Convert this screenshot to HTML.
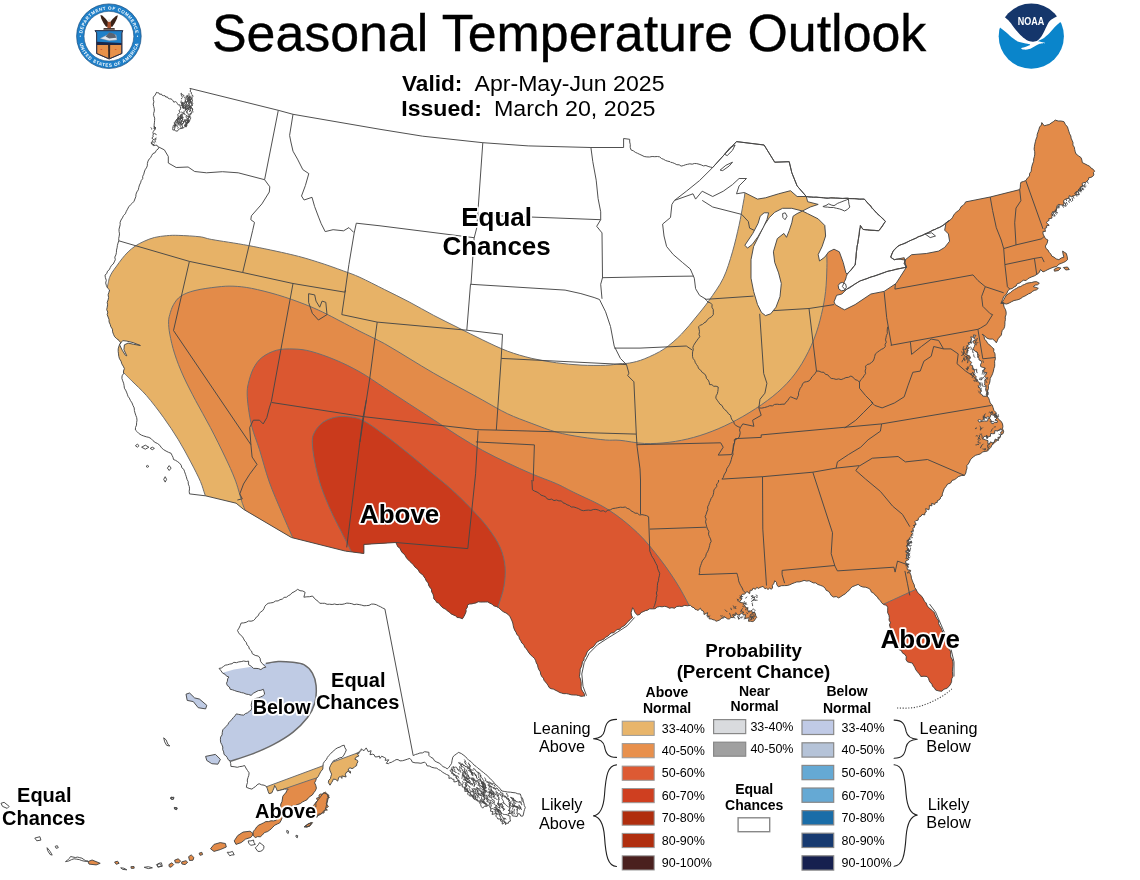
<!DOCTYPE html>
<html><head><meta charset="utf-8"><title>Seasonal Temperature Outlook</title>
<style>
html,body{margin:0;padding:0;background:#fff;}
body{width:1140px;height:880px;overflow:hidden;font-family:"Liberation Sans",sans-serif;}
svg{display:block}
text{font-family:"Liberation Sans",sans-serif;fill:#000}
.b{font-weight:bold}
.halo{paint-order:stroke;stroke:#fff;stroke-width:3.6px;stroke-linejoin:round}
.st{fill:none;stroke:#474747;stroke-width:.95;stroke-linejoin:round}
.ct{fill:none;stroke:#6e6e6e;stroke-width:1}
.lk{fill:#fff;stroke:#474747;stroke-width:.95;stroke-linejoin:round}
</style></head><body>
<svg width="1140" height="880" viewBox="0 0 1140 880">
<rect width="1140" height="880" fill="#fff"/>

<defs>
<clipPath id="us"><path d="M156.3 92.4 L157.6 92.7 L159 93 L159.7 94.4 L161.4 94 L162.2 95.4 L163.6 95.7 L165 95.7 L165.8 97.1 L167.4 96.9 L168.2 98.3 L169.4 98.8 L171 98.9 L172.1 99.6 L173 100.8 L173.8 102.2 L175.6 101.6 L176.7 102.4 L177.5 103.8 L178.4 105 L180 104.9 L180.2 106.6 L180.7 108.2 L180.4 109.6 L178.9 110.5 L180.2 112.4 L178.9 113.4 L177.7 114.4 L178.2 116.2 L177.9 117.6 L177.4 119 L176.1 120 L175.8 121.5 L174.2 122.4 L174.6 124.3 L173.4 125.3 L173 126.8 L172.7 128.3 L172.8 129.9 L174.4 130.1 L175.8 130.9 L177.4 131.2 L178.3 129.7 L179.6 128.9 L181 128.4 L182.6 128.2 L184.1 127.5 L185.2 126.1 L186.6 125.3 L186.6 123.9 L187.4 122.7 L187.5 121.3 L187.9 120 L188.2 118.3 L189.8 117.2 L189.9 115.4 L191.2 113.9 L191.8 112.1 L190.6 111.1 L190.4 109.4 L189.5 108.2 L190.1 106.9 L191.3 105.8 L191.6 104.4 L191.8 102.9 L191.5 101.5 L193 100.4 L191.4 98.9 L192.1 97.6 L192.9 96.4 L192.5 95 L191.3 93.9 L191.4 92.4 L190.1 91.4 L190.7 89.6 L189.9 88.4 L278.3 110.3 L293 114.3 L380 129.3 L422.7 136.2 L482.8 142.7 L528.2 145.9 L590.9 147.5 L623.6 147.5 L623.6 138.5 L629.7 139.3 L629.7 142 L630.3 144.6 L630.2 147.3 L631 149.9 L633.3 150.8 L635.3 152.3 L637.5 153.3 L639.8 154.4 L642 155.4 L644.2 156.5 L646.8 156.9 L649.5 157 L652.1 156.5 L654.8 156.7 L657.4 156.5 L659.7 156.9 L661.5 158.5 L663.6 159.3 L665.6 160.5 L667.8 161.2 L670 161.7 L670.5 162.2 L672.7 162.7 L674.8 163.6 L676.8 164.7 L679.2 164.8 L681.1 166.1 L683.3 165.6 L685.4 164.8 L687.6 164.3 L689.8 163.8 L692.2 164.2 L694.3 163.5 L696.7 163.6 L699 164.2 L701.2 164.9 L703.4 165.9 L705.9 165.5 L708.1 166.4 L710.4 167.1 L712.7 167.5 L724.6 154.3 L736.5 141.6 L764.1 145 L774.7 162.2 L789.2 161.7 L791.8 172.7 L797.1 185.9 L806.3 196.5 L808.7 197.1 L811.2 197.2 L813.6 197.4 L816.1 197 L818.6 197.3 L821.1 197.5 L823.5 197.8 L825.9 198.3 L828.3 198.4 L830.7 197.7 L833.1 197.8 L835.5 197.9 L837.9 198 L840.2 198.3 L842.6 198.5 L845 198.2 L847.4 198 L849.8 198.6 L852.2 198.6 L854.6 198.6 L857 198.9 L859.5 199.4 L861.9 199.2 L864.3 199.1 L865.8 200.8 L867.2 202.6 L868.7 204.3 L870.7 205.6 L871.6 207.9 L873.2 209.5 L874.9 211 L876.4 213 L878.2 214.7 L880.2 216.2 L882 217.9 L883.9 219.5 L885.4 221.5 L884 223.3 L883 225.3 L881.7 227.2 L880.3 229 L878.8 230.7 L876.5 230.7 L874.3 230.4 L872 230.4 L869.7 230.3 L867.5 230 L865.2 229.8 L863 229.4 L861.6 227.5 L860.4 225.5 L860.3 227.7 L859.5 229.8 L859.3 232.1 L859.3 234.3 L858.9 236.5 L858.5 238.7 L858.1 240.9 L858 243.1 L857.2 245.2 L856.8 247.4 L856.8 249.6 L856.4 251.8 L856.2 254 L856.2 256.2 L856 258.4 L855.6 260.6 L855.5 262.8 L855.1 265 L853.4 266.7 L852.1 268.8 L850.6 270.7 L848.6 272.2 L847.2 274.2 L846.3 276.6 L845.7 279 L844.6 281.3 L843.5 283.9 L842.4 286.6 L844 288.3 L845.1 290.3 L847 289.1 L849.1 288.2 L851 286.9 L852.8 285.7 L854.6 284.2 L856.5 283.1 L858.4 281.8 L860.4 280.8 L862.6 280.2 L864.8 279.3 L867 278.7 L869.1 277.6 L871.3 276.8 L873.6 276.4 L875.8 275.7 L878 274.9 L880.2 274.1 L882.4 273.3 L884.6 272.5 L886.7 271.6 L888.9 270.9 L891.1 270.6 L893.3 270 L895.4 269.3 L897.6 268.8 L899.9 268.5 L902.1 268 L904.3 267.7 L906.5 267.1 L905.7 265 L904.2 263.3 L905.4 259.7 L903.2 259.8 L901 259.3 L898.8 259.2 L896.6 259.2 L894.4 259.7 L892.5 258.6 L890.7 257.2 L891.7 254 L893.2 251.1 L894.6 249.2 L896.3 247.6 L898.1 246.1 L900.2 244.8 L902.7 244.2 L905 243.4 L907.2 242.3 L909.3 241 L911.6 240 L913.9 239.1 L916.2 238.2 L918.2 236.6 L920.7 236.1 L923 235.3 L925.1 233.9 L927.2 233.2 L929.2 232.3 L931.1 231.1 L933 229.9 L935.2 229.5 L937 228.2 L939.2 227.7 L941.1 226.5 L943.5 225.4 L945.3 223.4 L947.4 221.8 L949.6 220.4 L951.4 219 L952.7 217.2 L953.7 215.1 L955.1 213.4 L956.6 211.8 L958.6 210.6 L960 208.8 L961 206.7 L962.9 205.5 L964.5 203.9 L965.6 201.9 L990.2 197 L1019.7 189.6 L1020.3 187.2 L1020.4 184.7 L1020.9 182.3 L1023.4 181.5 L1025.8 180.6 L1027.4 178.1 L1029.5 176.1 L1029.6 173.5 L1031.2 171.3 L1031.4 168.8 L1031.9 166.3 L1032.6 163.9 L1033.6 161.5 L1033.7 158.9 L1034.4 156.5 L1034.8 154.1 L1034.7 151.6 L1034.1 149.1 L1034.4 146.7 L1034.8 144.2 L1035.4 141.7 L1036 139.2 L1037 136.9 L1037.2 134.3 L1038.1 131.9 L1038.9 129.5 L1039.6 127.1 L1041.3 125.1 L1041.8 122.6 L1044.2 125.8 L1046.6 125.1 L1049.1 124.6 L1051.1 123.1 L1053.3 121.7 L1055.3 120.1 L1058.1 121 L1061 121 L1063.9 121.6 L1065.4 124.5 L1067.5 127 L1068.2 129.3 L1068.9 131.5 L1069.6 133.8 L1070.8 135.9 L1071.1 138.2 L1072.1 140.4 L1073 142.6 L1072.9 145.1 L1074.3 147.2 L1074.7 149.5 L1075.2 151.8 L1076.1 154 L1078.6 155.9 L1081.1 157.7 L1081.9 160.1 L1082.3 162.6 L1084.8 163.8 L1087.2 165.1 L1089.7 166.3 L1091.1 168.1 L1093.2 169.3 L1094.6 171.2 L1093.4 172.6 L1093.8 174.9 L1092.7 176.4 L1090.9 177.4 L1088.8 177.7 L1088.4 179.8 L1087 180.9 L1086 182.3 L1083.9 182.6 L1082.1 183.3 L1082.5 186.2 L1080.7 186.8 L1079.8 188.4 L1078.9 189.9 L1077.9 191.5 L1076.2 192.6 L1076.1 194.6 L1074.7 195.5 L1073.1 195.9 L1071.8 196.9 L1069.3 195.6 L1068.8 198.2 L1066.9 198.8 L1065.1 199.4 L1063.6 200.5 L1063.9 203.2 L1063.1 205.1 L1060.8 204.9 L1058.3 204.4 L1057.1 205.8 L1056.5 208.1 L1056.5 210.6 L1055.3 211.8 L1053 212 L1051.6 213 L1053 215.1 L1051.8 216.4 L1052 218.1 L1048.8 218.7 L1049.1 220.4 L1047.3 221.4 L1046.3 222.7 L1049.2 225.3 L1046.2 225.9 L1046.7 227.7 L1044.9 228.4 L1045.4 231.4 L1043 231.4 L1043 234 L1044.2 236.3 L1045.5 238.7 L1047.9 240 L1047.1 243.2 L1045.4 246.1 L1046 248.5 L1048 250.1 L1049.1 252.3 L1050.7 253.9 L1051.8 256.1 L1054 257.2 L1056.2 258.9 L1058.9 259.7 L1061.2 258 L1063.9 257.2 L1063.1 254.2 L1062.6 251.1 L1064.4 252.3 L1066.3 253.5 L1067.2 256.6 L1067.5 259.7 L1065.7 261.3 L1063.6 262.4 L1061.4 263.3 L1058.8 264.2 L1056.8 266.5 L1054 267 L1050.9 268.2 L1047.9 269.5 L1045.5 270.8 L1043 271.9 L1040.5 269.5 L1039.3 272.4 L1036.8 274.4 L1034.5 275.8 L1031.9 276.8 L1029.8 277.7 L1027.8 278.8 L1026.1 280.5 L1023.4 280.2 L1021.5 281.6 L1019.7 283 L1017.3 283.6 L1016.1 286 L1014 287 L1012.2 288.5 L1009.8 289.1 L1007.9 290.7 L1007 293 L1005.7 295 L1003.7 296.5 L1002.6 299.6 L1001.2 302.6 L1003.7 302.3 L1003.6 304.9 L1004.2 307.3 L1005.5 309.6 L1006.1 312 L1006.1 314.6 L1005.2 317 L1005.4 319.5 L1004.9 321.9 L1004.9 324.4 L1004.6 326.7 L1003.8 328.7 L1002.2 330.5 L1001.7 332.6 L1001.4 334.9 L1000 336.7 L998.2 338.4 L997.4 340.7 L996.3 342.8 L994.7 340.7 L992.6 339.1 L989.4 339.1 L986.5 337.9 L984.6 335.7 L982.1 334.2 L984 336.2 L984.5 339.1 L986.4 341.1 L987.7 343.5 L989.9 345.1 L991.8 347.2 L993.9 348.9 L993.7 351.5 L995 353.8 L995.1 356.3 L995.4 358.8 L994.6 361.2 L994.7 363.7 L994.7 366.2 L993.9 368.6 L993.4 371.2 L992.6 373.7 L991.5 376.1 L990.2 378.4 L990 380.9 L989.5 383.4 L988.3 385.7 L988.5 388.3 L987.7 390.7 L987.4 393.4 L987.2 396.1 L988.7 398.2 L989.5 400.6 L990.2 403 L992.2 405.1 L993.1 407.7 L993.9 410.4 L995.9 412.4 L995.9 415.5 L997.5 417.7 L999.1 419.8 L1001.3 421.5 L1002.5 423.9 L1002.9 426.3 L1002.5 428.9 L1003.7 431.2 L1003.1 433.6 L1000.7 435 L1000 437.4 L998.1 439.5 L995.9 441.5 L993.9 443.5 L991.9 445 L990.9 447.3 L989.2 449 L987.7 450.9 L985.1 451.5 L982.5 451.9 L980.5 453.9 L977.9 454.6 L975.6 455.3 L973.6 456.7 L971.8 458.2 L970.3 459.9 L969.4 462 L968.3 463.9 L966.8 465.6 L967 468.2 L966.2 470.7 L965.8 473.1 L964.4 475.4 L961.2 475.6 L958.2 476.7 L956.4 478.3 L954.4 479.7 L952.1 480.4 L950.6 483 L947.6 484 L946 486.5 L944.2 488.7 L943.3 491.3 L942.3 493.9 L942.2 496 L940.5 497.2 L940.2 499 L939 500 L937.4 500.5 L937.2 502.5 L935.3 502.7 L934.8 504.4 L931.6 503.4 L931.9 505.8 L929.4 505.4 L929.3 507.8 L928.9 509.8 L925.7 508.6 L926.3 511.8 L924.9 512.7 L924.7 514.9 L922.1 514.4 L921.2 516 L919.7 516.9 L918.4 518.1 L918.1 520.2 L915.9 520.6 L914.7 521.8 L916.1 524.2 L914.4 525.4 L914.5 527.3 L912.7 528.5 L913.5 530.6 L911.1 531.6 L912.8 533.5 L911.3 534.8 L911.3 536.4 L909.5 537.7 L909.4 539.3 L908.2 540.6 L908.3 542.2 L908.6 543.9 L907.5 545.3 L906.6 546.7 L908.4 548.5 L908.5 550.1 L905.5 551.2 L908.8 553.3 L906.2 554.4 L906.9 556.1 L906.4 557.8 L909 559.3 L905.7 561.1 L905.6 562.8 L906.8 564.4 L907.4 566 L907.1 568 L907.4 569.7 L910.7 570.4 L909.8 572.6 L910.5 574.2 L911.1 575.8 L911.4 578.2 L912.3 580.5 L913.1 582.7 L914.2 584.8 L914.6 587.3 L916 589.3 L917.1 591.5 L918.5 593.5 L920.5 595.1 L922.1 596.9 L923.4 599 L924.4 601.2 L926.1 602.9 L927 605.3 L928.5 607.5 L930.6 609 L932.4 610.9 L934.4 612.6 L935.1 614.8 L936 617 L937.2 619 L938.8 620.9 L938.6 623.5 L939.6 625.7 L940.9 627.7 L941.8 629.8 L942.7 632 L943.4 634.2 L945.2 636 L945.1 638.5 L946.7 640.4 L947.9 642.4 L948.5 644.7 L949.1 647 L949.4 649.6 L950.8 651.8 L950.6 654.5 L950.8 657.1 L952.2 659.3 L952.8 661.8 L953 664.2 L952.8 666.7 L952.5 669.1 L952.4 671.6 L952.6 674 L952.8 676.5 L951.7 678.9 L951.6 681.6 L950.6 684 L949.1 686.3 L946.9 688.3 L944 689.2 L941.8 691.2 L938.6 690.9 L935.6 690 L934.5 687.9 L932.5 686.3 L931.9 683.9 L930.1 682.4 L929.1 680.4 L928.5 678.2 L927 676.5 L924 676.2 L920.9 676.5 L919.3 673.9 L917.2 671.6 L915.7 669.6 L914.8 667.3 L913.5 665.2 L912.3 663 L909.8 662.5 L907.4 661.8 L906 659.5 L906.3 656.7 L904.9 654.4 L902.6 653.1 L901.3 650.5 L898.8 649.5 L898.2 646.7 L895.7 644.9 L895.1 642.2 L893.9 639.7 L893.7 637.1 L893.1 634.6 L891.6 632.3 L890.6 630 L890.2 627.4 L889.5 625 L890.4 622.4 L889 620.1 L889.3 617.5 L888.9 615.1 L887.7 612.8 L887.7 610.2 L887.8 607.6 L886.5 605.3 L883.8 604.6 L881.6 602.8 L880.4 600.6 L878.5 599.1 L877.4 596.9 L875.4 595.4 L873.8 593.3 L871.4 592.1 L870.4 589.5 L868.1 588.1 L865.6 587.2 L862.9 587 L860.4 586.1 L858.2 584.4 L855.2 585.6 L852.1 586.8 L850.5 588.5 L849.1 590.4 L847.2 591.8 L845.4 593.8 L843 595.1 L840.9 596.6 L838.6 597.9 L836.3 596.6 L833.4 597 L831.2 595.4 L830 593.3 L828.6 591.4 L826.2 590.3 L825.1 588.1 L822.9 586.3 L820.3 585.3 L817.7 584.4 L815.8 582.9 L813.3 582.9 L811.2 581.8 L809.1 580.7 L806.7 581.1 L804.1 580.4 L801.7 581.3 L799.3 581.9 L796.8 581.9 L794.4 582.8 L792 583.7 L789.7 584.8 L787.2 585.5 L784.6 585.6 L781.4 585.7 L778.4 586.8 L776.9 584.9 L776.5 582.4 L774.7 580.7 L773.9 583.3 L772.3 585.6 L772.6 588.1 L771.1 589.2 L769.5 588.1 L768 589.5 L766.5 588.1 L765 588.8 L763.1 586.4 L761.6 586.9 L760 587.4 L758.5 588.4 L756.8 587.3 L755.4 589.3 L753.1 588.1 L752.1 590.3 L750.2 590.2 L749.6 593.7 L746.9 591.4 L745.6 593 L744.5 594.2 L742.4 594.1 L741.5 595.4 L741.3 597.7 L739.5 597.9 L742.1 598.6 L739.4 602 L741.9 602.8 L744.2 603 L743.8 605.2 L745.2 606.1 L745.6 607.7 L747.5 607.8 L747.8 610.4 L748.7 612.2 L751.8 610.3 L752.2 612.7 L754.5 612.3 L755.4 613.9 L755.8 615.8 L756.7 617.5 L755.4 618.8 L754.4 620.6 L752.8 621.6 L750.5 621.2 L748.4 621.2 L749.2 617.8 L746.8 618.2 L744.8 618.1 L745.6 614.7 L743.2 615.1 L742.4 612.5 L740.2 614.3 L738.2 615.1 L736.8 614.4 L735.8 612.6 L735.9 615.1 L733.9 615.6 L733.4 617.6 L730.9 617.5 L729.4 618.9 L727.8 619 L726 617.8 L724.1 616.6 L722.6 617.5 L721.1 618.8 L719.6 620 L717.9 620.7 L716.1 621.2 L714.7 620.1 L712.9 619.7 L711.3 618.9 L709.2 618.9 L708.8 616.3 L706.9 616.1 L707.7 612.6 L704 614.5 L703.9 612.2 L703 610.8 L701.4 610.2 L700.4 608.2 L698 610.4 L696.6 609.7 L695.1 609.3 L694 607.7 L691.9 606.9 L690.4 605.3 L687.5 605.8 L684.6 605.4 L681.8 606.5 L679.3 606.2 L676.8 606.5 L674.5 608.2 L671.9 607.7 L669.4 608.2 L667.1 606.9 L664.6 606.3 L662.1 606.8 L659.7 606.5 L657.2 607.1 L655 608.7 L652.4 608.9 L649.7 608.8 L647.4 610.2 L645.2 610.7 L643.2 611.7 L641.1 612.5 L639.7 614.5 L637.5 615.1 L635.8 613.6 L634.6 611.7 L633.9 609.5 L632.6 607.7 L631.9 610.1 L631.1 612.5 L631.4 615.1 L632.6 617.5 L630.5 619.1 L628.8 621 L626.8 622.8 L625.3 624.9 L623.4 626.2 L621.3 627.3 L619.8 629.2 L617.1 629.5 L615.4 631.1 L613.7 632.7 L611.1 633 L609.4 634.6 L607.7 636.2 L605.6 637.2 L604 638.9 L601.9 640 L599.6 640.7 L597.6 641.8 L595.8 643.3 L594.5 645.5 L592.8 647.2 L590.6 648.4 L588.8 650.1 L587.2 651.9 L586.4 654 L585.6 656.1 L584.1 657.8 L584 660.2 L582.3 661.8 L582.1 664.3 L581.4 666.7 L580.1 669 L580.1 671.5 L579.8 674 L579.4 676.5 L580.4 678.9 L581 681.3 L581.2 683.8 L581.1 686.3 L581.3 689 L582.6 691.3 L584.1 693.5 L584.7 696.1 L583.5 696.1 L581 696.3 L578.6 695.5 L576.2 695 L573.7 695 L571.2 694.8 L568.8 694.1 L566.4 693.6 L563.9 693.7 L561.7 693.1 L559.5 692.4 L557.5 691.2 L555.4 690.2 L553.4 689.1 L551.1 688.7 L549.1 687.5 L548.1 685.5 L546.9 683.7 L545.5 682 L544 680.3 L543.4 678.1 L541.8 676.5 L540.7 674.3 L540.3 671.8 L538.9 669.7 L538 667.5 L537.6 665 L536.3 662.9 L535.6 660.5 L534.4 658.3 L532.5 656.6 L530.6 654.9 L529.1 653 L527.7 650.9 L526.3 648.8 L524.6 647 L523.8 644.7 L521.8 643 L520.8 640.8 L519.4 638.7 L518.9 636.3 L516.9 634.6 L516 632.3 L514.7 630.2 L513.8 627.9 L513.2 625.5 L512.8 623 L511.9 620.7 L510.9 618.5 L509.8 616.3 L508.1 614.4 L506.1 613 L503.8 612 L501.8 610.6 L500 608.9 L498.2 607.4 L496.1 606.4 L493.7 605.8 L492 604.1 L489.9 603.2 L487.9 601.9 L485.4 602 L483 602 L480.5 602.1 L478.1 601.7 L476.1 602.9 L473.9 603.3 L471.8 603.9 L469.5 604 L467.5 605.1 L467.3 607.3 L466 609.3 L466.1 611.6 L465.3 613.7 L464 616.3 L462.4 618.8 L459.9 617.8 L457.2 617.4 L455.5 615.8 L453.3 614.9 L451.2 613.9 L449.5 612.2 L447.5 611 L445.9 609.3 L443.7 608.3 L441.9 607 L440.3 605.3 L439.1 603.3 L436.8 602.4 L435.5 600.5 L433.9 598.9 L433.6 596.4 L432.9 593.9 L431.6 591.7 L431.4 589.1 L429.8 587.3 L428.6 585.2 L428.1 582.7 L426.3 581 L425.4 578.7 L424 576.8 L422.8 574.8 L420.8 573.5 L419.3 571.9 L418.2 569.7 L416.5 568.3 L414.7 566.8 L413.5 564.8 L411.8 563.3 L410 561.6 L408.3 559.8 L406.5 558.1 L405.4 555.8 L403.9 553.9 L401.9 552.3 L400.8 550.3 L399.8 548.1 L397.8 546.7 L396.8 544.6 L395.8 542.5 L363.9 544.4 L363.9 553.5 L345.4 551.1 L291.4 537.5 L243.5 509.3 L236.1 503.2 L205.4 495.8 L189.5 493.9 L189.2 491.4 L189.5 488.9 L189.3 486.5 L188.3 484.1 L188.2 481.6 L187 479.3 L186.3 476.7 L185.5 474.3 L184.6 471.8 L183.8 469.4 L181.8 467.7 L181.2 465.2 L179.6 463.2 L177.7 461.7 L175.7 460.4 L173.5 459.5 L173 457.3 L172 455.3 L171.1 453.3 L168.5 452.3 L166.1 451.1 L163.7 449.7 L161.5 447.8 L159.8 445.3 L157.5 443.5 L155.1 442.4 L153 440.7 L151.2 438.7 L148.9 437.4 L146.3 436.8 L143.8 436 L141.4 435.1 L139.1 433.7 L137.3 431.8 L135.4 430 L135.5 427.5 L136.5 425.1 L136.6 422.7 L137 420.2 L136.7 417.7 L135.8 415.3 L135 412.9 L134.4 410.5 L134.2 407.9 L133 405.5 L132 402.9 L130.5 400.6 L129.3 398.1 L128 396.3 L127.3 394.2 L126.5 392.1 L125.6 390.1 L124.4 388.2 L124.1 385.7 L123.6 383.2 L122.7 380.8 L121.9 378.4 L122.1 375.8 L123.5 373.6 L123.5 371 L124.4 368.6 L123.2 366.1 L121.8 363.8 L121 361.1 L119.5 358.8 L118.8 356.4 L118.5 353.9 L118.2 351.4 L118.2 348.9 L119.1 345.7 L120.7 342.8 L119 340.4 L116.7 338.7 L114.6 336.7 L113.5 334.3 L112.6 331.8 L112.4 329.1 L110.9 326.8 L110.2 324.4 L109.1 322 L109 319.4 L108.1 317 L107.2 314.6 L107.8 312.1 L106.7 309.7 L107.2 307.2 L107.6 304.8 L107.2 302.3 L108.1 299.9 L108.6 297.5 L108.1 294.8 L108.9 292.4 L109.6 290 L107.6 288.1 L106.4 285.6 L105.7 283 L106.3 280.3 L105.4 277.7 L105 275.1 L106.8 273.5 L107.5 271.2 L109.3 269.7 L110.3 267.5 L111.4 265.5 L113.2 264 L114.3 261.9 L115.3 259.7 L114.8 257.1 L115.9 254.9 L116.4 252.6 L116.5 250.1 L117.1 247.8 L117.4 245.4 L118 243.1 L118.8 240.8 L118.7 238.5 L119.2 236.2 L119.5 233.9 L119.1 231.6 L119 229.3 L119.6 227 L120.2 224.7 L120.1 222.4 L121 220 L122.4 217.9 L123.5 215.6 L125.3 213.8 L126.3 211.4 L127.5 209.2 L128.7 206.9 L130.4 204.9 L132.3 203.2 L134 201.3 L134.9 199 L135.8 196.7 L136 194.2 L136.9 191.9 L138.3 189.8 L138.8 187.4 L139.5 185 L140.6 182.8 L141.2 180.6 L142.7 178.7 L142.7 176.3 L143.8 174.2 L144.3 172 L145.1 169.8 L146.4 167.9 L147.3 165.8 L147.4 163.4 L148 161.1 L149.1 159.1 L150.7 157.6 L151.7 155.5 L152.9 153.6 L155.2 152.6 L156.2 150.5 L158 149.1 L159.1 147.2 L157.8 146.7 L157 145.2 L155.4 145.3 L153.8 145.3 L152.4 144.9 L151.7 143.3 L152.1 142 L152.5 140.7 L153.3 139.5 L151.8 137.9 L153.2 136.8 L152.9 135.3 L153.4 134.1 L152.9 132.6 L153.4 131.4 L154.2 130.1 L155.3 129 L154.6 127.5 L154.1 125.2 L154.4 122.8 L154.6 120.5 L154.7 118.1 L153.8 115.8 L153.6 113.5 L154.3 111.1 L154.3 108.8 L153.7 106.5 L153.2 104.1 L153.9 101.8 L153.3 99.4 L153.3 97.1 L155.2 95 L156.5 92.4ZM1000.7 303.3 L1002.5 301.5 L1004 299.4 L1005.2 297.1 L1006.7 295 L1008.7 293.6 L1010.7 292.4 L1012.5 290.7 L1014.5 289.4 L1016.7 288.3 L1018.6 287 L1020.8 286.5 L1022.6 285.2 L1024.7 284.4 L1026.7 283.3 L1029.2 282.8 L1031.7 282.5 L1034.1 281.8 L1036.7 281.7 L1039.3 283.3 L1037.5 284.8 L1035.1 285.1 L1033.3 286.7 L1035.8 287.4 L1038.3 288.3 L1036.6 289.8 L1034.4 290.4 L1032.4 291.4 L1030.7 293.1 L1028.6 293.8 L1026.7 295 L1024.8 296.1 L1022.7 297 L1020.9 298.4 L1018.9 299.4 L1016.7 300 L1014 300.5 L1011.6 301.7 L1009.2 303 L1006.7 304 L1003.7 303.6 L1000.7 303.3ZM1054 269.5 L1057.7 267.5 L1060.9 268 L1058.5 270.5 L1054.5 271.2ZM1063.4 267.5 L1067.5 267 L1069.3 269.5 L1065.8 270Z"/></clipPath>
<clipPath id="ak"><path d="M297.7 589.3 L300 590.7 L302.8 591 L305.1 592.3 L304.5 594.8 L303.9 597.2 L306.8 596.8 L309.7 596.7 L312.5 596 L314.1 598 L316 599.8 L318.1 601.3 L319.8 603.3 L322.3 603.3 L324.7 603.3 L327.1 604.3 L329.6 604.2 L332.1 604.5 L334.6 604 L337 604.6 L339.5 604.3 L342 604.4 L344.4 603.9 L346.8 603.1 L349.3 603.3 L351.8 603.7 L354.1 604.6 L356.7 604.2 L359.2 604.6 L361.6 605.1 L364 605.8 L366.5 605.6 L369 605.4 L371.4 604.1 L373.9 604.1 L376.3 604.7 L378.4 605.8 L380.6 606.8 L382.7 608 L384.9 609 L413.2 755.6 L415.4 754.5 L417.7 753.9 L419.9 753 L422.5 752.9 L424.6 751.7 L428.9 752.3 L428.9 755.4 L430.7 757.2 L433.1 758.4 L434.5 760.8 L436.8 762.1 L439.2 763.1 L441.2 764.8 L443 766.6 L445.4 767.6 L447.3 768.9 L449 767.2 L450.4 765.3 L451.6 763.3 L452.1 760.2 L452.8 757.2 L454.4 755.3 L456.6 754 L458.3 752.3 L461.3 753.5 L463.9 755.4 L465.7 756.8 L467.2 758.6 L468.8 760.3 L470.9 761.5 L472.5 763.3 L474.1 765.1 L476.1 766.4 L477.8 768.1 L479.8 769.5 L481.6 771.1 L483.5 772.5 L485.4 774.2 L487.4 775.6 L489 777.7 L490.9 779.3 L492.8 781.1 L494.4 783.2 L496.1 785.1 L498.2 786.7 L500.1 788.8 L501.9 791 L504.8 791.5 L507.6 792 L510.5 792.2 L513 792.6 L515.4 792.8 L517.8 793.8 L520.3 794 L521.2 796.6 L522.8 798.9 L523.2 801.1 L523.9 803.3 L524.3 805.4 L525.3 807.5 L524.5 809.6 L523.9 811.8 L523.5 814 L522.8 816.1 L520.8 816.1 L519.8 813.9 L517.9 813.7 L517.1 816.5 L514.2 816.1 L512.5 815.9 L511.6 813.6 L510 813.3 L508.1 813.7 L508 815.4 L510.2 816.3 L509.9 818 L510.2 819.6 L510.5 821.1 L508.9 821.5 L508.3 823.3 L506.3 823.1 L505.6 824.7 L505.6 822.1 L502.2 824.1 L502.4 821.4 L500.7 821.1 L500.4 818.9 L497.9 819 L497 817.4 L495.8 816.1 L496.7 813.4 L492 814.4 L493 811.6 L490.5 811.2 L490.9 808.8 L489.9 806.8 L488.6 805.2 L486 806.3 L484.4 806.2 L482.7 808.2 L481.1 806.3 L480.6 804.5 L479.6 802.9 L478.6 801.4 L477.4 799.6 L475.4 799.7 L473.7 798.9 L472.9 797.5 L472.2 795.8 L470.1 796.1 L468.8 795.3 L467.5 794 L468.8 791.1 L464.8 791.4 L465.1 789.1 L464.5 787.2 L462.3 787 L462.3 784.5 L458.9 785.5 L458.9 783 L459.1 780.2 L456 781.7 L453.9 781.9 L454 779.3 L452.1 779.2 L451.3 777.8 L448.9 778.4 L449.1 775.6 L446.6 774.5 L444.2 773.2 L442.3 772 L440.6 770.5 L438.6 769.6 L436.8 768.2 L434.3 767.9 L431.8 767.3 L429.5 766.1 L427 765.8 L426.2 763.7 L424.6 762.1 L420.9 763.3 L418 762.9 L415.1 762.8 L412.3 762.1 L411.3 760 L409.8 758.4 L407.4 759.2 L405 760 L402.6 760.7 L400 760.9 L398 759.6 L396.1 759.6 L394.4 760.7 L392.6 761.6 L391.3 762.4 L389.7 762.7 L388.4 763.7 L386.3 763.3 L388.8 759.8 L385.2 760.4 L385.7 758.2 L384.2 757.4 L381.7 756.2 L380 758.4 L379.4 756.1 L377 756.9 L375 756.8 L374.2 754.8 L372.6 754.2 L370 754.7 L371.1 750.7 L368.2 751.7 L367.4 750 L366.2 747.9 L364 750.7 L362.6 749.8 L361.1 748.9 L361 750.9 L359.2 751.3 L359.1 753.3 L356.8 753.2 L358.9 755.9 L355.8 757.4 L354.9 759.2 L357.5 760.4 L357.9 761.9 L356.8 763.7 L356.6 765.7 L354.8 766.6 L353.7 767.9 L352 768.6 L350 767.8 L348.4 768.9 L348.3 770.7 L350.5 771.4 L350.5 773.2 L348.3 771.3 L346.7 772 L345.3 774.2 L346.1 777 L341.8 775.9 L342.1 778.4 L340.1 776.5 L338.7 777.4 L337.7 781.1 L335.8 779.5 L333.3 779.1 L332.6 781 L331.6 782.6 L330 785.2 L328.4 782.6 L328.7 780.3 L330.4 778.6 L330.9 776.4 L331.6 774.2 L330.7 772.2 L329.8 770.1 L329.5 767.9 L330.6 765.3 L332.1 762.8 L333.7 760.5 L335.9 760 L337.8 758.8 L339.9 757.8 L342.1 757.4 L343.9 755.1 L345.2 752.6 L346.3 750 L344.9 747.7 L344.2 745.2 L341.9 745.8 L340 747 L337.8 747.7 L335.8 748.9 L334 750.5 L332.2 752 L330.6 753.8 L328.8 755.5 L327.4 757.4 L326.3 759.7 L324.4 761.5 L323.2 763.7 L323 766.4 L322.8 769.1 L320.7 771.7 L319.2 774.6 L318.1 776.7 L316.4 778.4 L315.7 780.7 L314.6 782.8 L315.8 785.4 L316.4 788.2 L315.4 790.7 L313.7 792.8 L312.3 795 L310.1 796.4 L308.3 797.9 L306.8 799.9 L304.6 800.9 L302.3 802.1 L300.3 803.6 L297.8 804.4 L295.5 805.5 L293.3 806 L291.1 806.4 L288.8 806.3 L286.8 807.5 L286.8 809.9 L284.4 811.4 L284.2 813.7 L283.3 815.9 L282.1 818 L281.2 820.2 L279.8 822.8 L277.3 824 L274.8 825.2 L272.8 827.2 L271.2 828.9 L269.4 830.3 L267.5 831.6 L264.4 832.6 L262.3 835.1 L260.3 836.8 L257.5 836.6 L255.3 837.7 L252.6 834.7 L253.5 831.2 L255.3 829.2 L256.7 826.9 L258.8 825.1 L261.2 824 L263.5 822.9 L265.8 821.6 L268.5 821.6 L271 820.8 L273.7 820.9 L276.3 820.2 L277.5 817.4 L278.6 814.6 L279.3 812 L280.3 809.4 L280.7 806.7 L280.8 804 L282 801.6 L282.4 799 L282.8 796.4 L284 794.5 L285.8 793 L286.7 790.8 L288.2 789.1 L284.6 789.1 L282.2 789.7 L279.7 790.3 L277.3 790.9 L276.2 788.1 L274.6 785.5 L274 788 L272.9 790.4 L271.9 792.8 L269.1 793.7 L268.1 791.3 L267.4 788.8 L266.4 786.4 L264.1 785.2 L261.5 784.8 L259.1 783.7 L257.1 784.8 L255.6 786.5 L253.7 787.7 L251.9 789.1 L249.1 788.4 L246.4 787.3 L246.7 784.9 L247.5 782.5 L247.3 780 L248 777.6 L248.8 775.3 L249.1 772.8 L247.5 770.5 L245.9 768 L244.6 765.5 L242.2 766.3 L239.7 766.6 L237.3 767.3 L234.1 766.7 L230.9 766.4 L230.7 763.6 L230 760.9 L228.1 759.6 L227.2 757.5 L225.8 755.7 L224 754.4 L223.7 751.9 L222.7 749.6 L222.8 747 L221.8 744.6 L220.6 742.3 L220.4 739.7 L220.6 737.1 L222.1 734.9 L222.3 732.3 L222.8 729.8 L224.5 728.1 L226.1 726.4 L227.8 724.6 L228.9 722.5 L230.5 720.9 L232 719.2 L233.5 717.4 L235 715.8 L236.3 713.9 L238.7 714.4 L241.2 714.9 L243.7 715.1 L245.4 713.6 L247.5 712.8 L249.2 711.4 L251.1 710.2 L251.7 707.8 L251.2 705.2 L251.6 702.8 L252.3 700.4 L255.1 698.6 L258.4 697.9 L260.6 696.9 L262.8 695.9 L264.6 694.2 L264.1 691.7 L263.3 689.3 L260.9 690.3 L258.3 690.6 L256 691.8 L253.3 693.3 L251.1 695.4 L248.7 694.5 L246.1 694.1 L243.7 693 L241.4 692.6 L239.2 691.9 L236.9 691.4 L234.7 690.6 L232.5 689.8 L230.2 689.3 L229.4 687 L227.3 685.5 L226.5 683.2 L227.4 681.2 L227.6 678.9 L228.9 677 L226.6 676.2 L225 674.2 L222.8 673.3 L221 670.8 L219.1 668.4 L221.4 668 L223.3 666.6 L225.2 665.2 L227.5 664.8 L229.7 664.1 L232 663.7 L233.9 662.3 L236.4 662.7 L238.8 661.9 L241.2 661.6 L243.7 661 L246.2 661.5 L248.6 661.1 L248.6 664.7 L251.3 666.3 L253.5 668.4 L256 668.4 L258.5 668.6 L260.9 669.6 L263.1 667.9 L265.8 667.2 L264.1 665.2 L262.1 663.5 L260.5 661.2 L260.1 658.3 L258.4 656.1 L255.2 655.4 L252.3 653.7 L251.5 651 L249.4 649 L248.6 646.3 L246.9 644.8 L246.4 642.5 L244.7 640.9 L243.7 638.9 L242.4 636.6 L240.3 634.9 L238.6 632.8 L237.5 630.4 L239 628.1 L240.2 625.6 L241.2 623 L243.7 622.9 L246.2 622.3 L248.5 621 L251.1 621.2 L253.5 620.5 L255.2 618.9 L256.4 617 L258.3 615.7 L259.2 613.4 L260.9 611.9 L262.8 610.5 L264 608.6 L264.8 606.4 L266.3 604.6 L268.2 603.3 L270.7 602.9 L273.2 602.5 L275.5 601 L278.1 600.9 L280 599.7 L282.3 599.1 L284.1 597.4 L286.5 597.2 L288.3 595.7 L290.4 594.7 L291.9 592.9 L294 591.9 L295.9 590.7 L297.7 589.3ZM186 694.2 L189.6 693 L194.6 697.9 L199.5 699.1 L206.8 705.3 L205.6 708.9 L198.2 707.7 L193.3 701.6 L187.2 700.4ZM205.6 756.4 L215.4 754.4 L220.4 759.3 L217.9 764.2 L211.8 763.7 L206.8 760.5ZM210.5 848.8 L214 844.4 L220.2 842.6 L225.4 843.5 L226.3 847 L220.2 849.6 L214 851.4ZM234.2 840.9 L237.7 835.6 L243 832.1 L250 831.2 L253.5 833.9 L250.9 837.4 L245.6 839.1 L241.2 842.6 L236 844.4ZM315.8 803.7 L316.2 801.9 L317.6 800.6 L316.5 798.2 L319.3 797.4 L318.9 795.3 L320.3 794.1 L322.3 794.2 L323.9 793.3 L325.3 792.1 L326.6 793.2 L327.7 794.5 L327.6 796.7 L329.5 797.4 L327.3 798.2 L327 800.1 L326.9 802 L326.3 803.7 L327.3 805.1 L328.4 806.6 L325.4 808.7 L327.4 810 L325.7 810.2 L324.2 810.7 L324 813 L322.1 813 L321.1 814.2 L318.6 813.9 L317.5 815.4 L316.8 817.4 L316.7 815.8 L315.3 814.6 L315.3 813 L316.5 811.1 L314.7 810 L314.5 808.3 L315.9 807 L315.9 805.3 L315.8 803.7ZM304.2 826.8 L308.4 823.7 L312.6 822.6 L309.5 826.4ZM313.2 805.8 L318.4 799.6 L323.7 792.6 L328.9 795.3 L327.2 802.3 L325.4 809.3 L320.2 814.6 L316.7 816.3ZM188.6 856.7 L191.2 854.9 L193.9 857.5 L193 860.2 L189.5 860.5ZM174.6 860.2 L178.1 858.8 L180.7 861.1 L178.9 862.8 L175.4 862.8ZM168.9 864.6 L171.9 862.8 L173.7 864.6 L171.1 867.2 L169.3 866.8ZM181.6 861.9 L186 860.7 L187.7 862.3 L185.1 864.6 L181.9 864ZM199.1 853.2 L201.8 852.3 L202.6 854.6 L200 855.3ZM304.4 826.8 L307.9 824.2 L311.4 822.5 L310.5 825.1 L307 827.2ZM88 861.6 L92.1 860 L100.2 863.3 L96.2 864.9 L89 864.1ZM114.6 862 L117.6 861.2 L119.1 863.3 L116.2 864.3ZM130.9 866.7 L134 866.5 L134.2 868.2 L131.3 868.4Z"/></clipPath>
</defs>
<g clip-path="url(#us)">
<path d="M156.3 92.4 L157.6 92.7 L159 93 L159.7 94.4 L161.4 94 L162.2 95.4 L163.6 95.7 L165 95.7 L165.8 97.1 L167.4 96.9 L168.2 98.3 L169.4 98.8 L171 98.9 L172.1 99.6 L173 100.8 L173.8 102.2 L175.6 101.6 L176.7 102.4 L177.5 103.8 L178.4 105 L180 104.9 L180.2 106.6 L180.7 108.2 L180.4 109.6 L178.9 110.5 L180.2 112.4 L178.9 113.4 L177.7 114.4 L178.2 116.2 L177.9 117.6 L177.4 119 L176.1 120 L175.8 121.5 L174.2 122.4 L174.6 124.3 L173.4 125.3 L173 126.8 L172.7 128.3 L172.8 129.9 L174.4 130.1 L175.8 130.9 L177.4 131.2 L178.3 129.7 L179.6 128.9 L181 128.4 L182.6 128.2 L184.1 127.5 L185.2 126.1 L186.6 125.3 L186.6 123.9 L187.4 122.7 L187.5 121.3 L187.9 120 L188.2 118.3 L189.8 117.2 L189.9 115.4 L191.2 113.9 L191.8 112.1 L190.6 111.1 L190.4 109.4 L189.5 108.2 L190.1 106.9 L191.3 105.8 L191.6 104.4 L191.8 102.9 L191.5 101.5 L193 100.4 L191.4 98.9 L192.1 97.6 L192.9 96.4 L192.5 95 L191.3 93.9 L191.4 92.4 L190.1 91.4 L190.7 89.6 L189.9 88.4 L278.3 110.3 L293 114.3 L380 129.3 L422.7 136.2 L482.8 142.7 L528.2 145.9 L590.9 147.5 L623.6 147.5 L623.6 138.5 L629.7 139.3 L629.7 142 L630.3 144.6 L630.2 147.3 L631 149.9 L633.3 150.8 L635.3 152.3 L637.5 153.3 L639.8 154.4 L642 155.4 L644.2 156.5 L646.8 156.9 L649.5 157 L652.1 156.5 L654.8 156.7 L657.4 156.5 L659.7 156.9 L661.5 158.5 L663.6 159.3 L665.6 160.5 L667.8 161.2 L670 161.7 L670.5 162.2 L672.7 162.7 L674.8 163.6 L676.8 164.7 L679.2 164.8 L681.1 166.1 L683.3 165.6 L685.4 164.8 L687.6 164.3 L689.8 163.8 L692.2 164.2 L694.3 163.5 L696.7 163.6 L699 164.2 L701.2 164.9 L703.4 165.9 L705.9 165.5 L708.1 166.4 L710.4 167.1 L712.7 167.5 L724.6 154.3 L736.5 141.6 L764.1 145 L774.7 162.2 L789.2 161.7 L791.8 172.7 L797.1 185.9 L806.3 196.5 L808.7 197.1 L811.2 197.2 L813.6 197.4 L816.1 197 L818.6 197.3 L821.1 197.5 L823.5 197.8 L825.9 198.3 L828.3 198.4 L830.7 197.7 L833.1 197.8 L835.5 197.9 L837.9 198 L840.2 198.3 L842.6 198.5 L845 198.2 L847.4 198 L849.8 198.6 L852.2 198.6 L854.6 198.6 L857 198.9 L859.5 199.4 L861.9 199.2 L864.3 199.1 L865.8 200.8 L867.2 202.6 L868.7 204.3 L870.7 205.6 L871.6 207.9 L873.2 209.5 L874.9 211 L876.4 213 L878.2 214.7 L880.2 216.2 L882 217.9 L883.9 219.5 L885.4 221.5 L884 223.3 L883 225.3 L881.7 227.2 L880.3 229 L878.8 230.7 L876.5 230.7 L874.3 230.4 L872 230.4 L869.7 230.3 L867.5 230 L865.2 229.8 L863 229.4 L861.6 227.5 L860.4 225.5 L860.3 227.7 L859.5 229.8 L859.3 232.1 L859.3 234.3 L858.9 236.5 L858.5 238.7 L858.1 240.9 L858 243.1 L857.2 245.2 L856.8 247.4 L856.8 249.6 L856.4 251.8 L856.2 254 L856.2 256.2 L856 258.4 L855.6 260.6 L855.5 262.8 L855.1 265 L853.4 266.7 L852.1 268.8 L850.6 270.7 L848.6 272.2 L847.2 274.2 L846.3 276.6 L845.7 279 L844.6 281.3 L843.5 283.9 L842.4 286.6 L844 288.3 L845.1 290.3 L847 289.1 L849.1 288.2 L851 286.9 L852.8 285.7 L854.6 284.2 L856.5 283.1 L858.4 281.8 L860.4 280.8 L862.6 280.2 L864.8 279.3 L867 278.7 L869.1 277.6 L871.3 276.8 L873.6 276.4 L875.8 275.7 L878 274.9 L880.2 274.1 L882.4 273.3 L884.6 272.5 L886.7 271.6 L888.9 270.9 L891.1 270.6 L893.3 270 L895.4 269.3 L897.6 268.8 L899.9 268.5 L902.1 268 L904.3 267.7 L906.5 267.1 L905.7 265 L904.2 263.3 L905.4 259.7 L903.2 259.8 L901 259.3 L898.8 259.2 L896.6 259.2 L894.4 259.7 L892.5 258.6 L890.7 257.2 L891.7 254 L893.2 251.1 L894.6 249.2 L896.3 247.6 L898.1 246.1 L900.2 244.8 L902.7 244.2 L905 243.4 L907.2 242.3 L909.3 241 L911.6 240 L913.9 239.1 L916.2 238.2 L918.2 236.6 L920.7 236.1 L923 235.3 L925.1 233.9 L927.2 233.2 L929.2 232.3 L931.1 231.1 L933 229.9 L935.2 229.5 L937 228.2 L939.2 227.7 L941.1 226.5 L943.5 225.4 L945.3 223.4 L947.4 221.8 L949.6 220.4 L951.4 219 L952.7 217.2 L953.7 215.1 L955.1 213.4 L956.6 211.8 L958.6 210.6 L960 208.8 L961 206.7 L962.9 205.5 L964.5 203.9 L965.6 201.9 L990.2 197 L1019.7 189.6 L1020.3 187.2 L1020.4 184.7 L1020.9 182.3 L1023.4 181.5 L1025.8 180.6 L1027.4 178.1 L1029.5 176.1 L1029.6 173.5 L1031.2 171.3 L1031.4 168.8 L1031.9 166.3 L1032.6 163.9 L1033.6 161.5 L1033.7 158.9 L1034.4 156.5 L1034.8 154.1 L1034.7 151.6 L1034.1 149.1 L1034.4 146.7 L1034.8 144.2 L1035.4 141.7 L1036 139.2 L1037 136.9 L1037.2 134.3 L1038.1 131.9 L1038.9 129.5 L1039.6 127.1 L1041.3 125.1 L1041.8 122.6 L1044.2 125.8 L1046.6 125.1 L1049.1 124.6 L1051.1 123.1 L1053.3 121.7 L1055.3 120.1 L1058.1 121 L1061 121 L1063.9 121.6 L1065.4 124.5 L1067.5 127 L1068.2 129.3 L1068.9 131.5 L1069.6 133.8 L1070.8 135.9 L1071.1 138.2 L1072.1 140.4 L1073 142.6 L1072.9 145.1 L1074.3 147.2 L1074.7 149.5 L1075.2 151.8 L1076.1 154 L1078.6 155.9 L1081.1 157.7 L1081.9 160.1 L1082.3 162.6 L1084.8 163.8 L1087.2 165.1 L1089.7 166.3 L1091.1 168.1 L1093.2 169.3 L1094.6 171.2 L1093.4 172.6 L1093.8 174.9 L1092.7 176.4 L1090.9 177.4 L1088.8 177.7 L1088.4 179.8 L1087 180.9 L1086 182.3 L1083.9 182.6 L1082.1 183.3 L1082.5 186.2 L1080.7 186.8 L1079.8 188.4 L1078.9 189.9 L1077.9 191.5 L1076.2 192.6 L1076.1 194.6 L1074.7 195.5 L1073.1 195.9 L1071.8 196.9 L1069.3 195.6 L1068.8 198.2 L1066.9 198.8 L1065.1 199.4 L1063.6 200.5 L1063.9 203.2 L1063.1 205.1 L1060.8 204.9 L1058.3 204.4 L1057.1 205.8 L1056.5 208.1 L1056.5 210.6 L1055.3 211.8 L1053 212 L1051.6 213 L1053 215.1 L1051.8 216.4 L1052 218.1 L1048.8 218.7 L1049.1 220.4 L1047.3 221.4 L1046.3 222.7 L1049.2 225.3 L1046.2 225.9 L1046.7 227.7 L1044.9 228.4 L1045.4 231.4 L1043 231.4 L1043 234 L1044.2 236.3 L1045.5 238.7 L1047.9 240 L1047.1 243.2 L1045.4 246.1 L1046 248.5 L1048 250.1 L1049.1 252.3 L1050.7 253.9 L1051.8 256.1 L1054 257.2 L1056.2 258.9 L1058.9 259.7 L1061.2 258 L1063.9 257.2 L1063.1 254.2 L1062.6 251.1 L1064.4 252.3 L1066.3 253.5 L1067.2 256.6 L1067.5 259.7 L1065.7 261.3 L1063.6 262.4 L1061.4 263.3 L1058.8 264.2 L1056.8 266.5 L1054 267 L1050.9 268.2 L1047.9 269.5 L1045.5 270.8 L1043 271.9 L1040.5 269.5 L1039.3 272.4 L1036.8 274.4 L1034.5 275.8 L1031.9 276.8 L1029.8 277.7 L1027.8 278.8 L1026.1 280.5 L1023.4 280.2 L1021.5 281.6 L1019.7 283 L1017.3 283.6 L1016.1 286 L1014 287 L1012.2 288.5 L1009.8 289.1 L1007.9 290.7 L1007 293 L1005.7 295 L1003.7 296.5 L1002.6 299.6 L1001.2 302.6 L1003.7 302.3 L1003.6 304.9 L1004.2 307.3 L1005.5 309.6 L1006.1 312 L1006.1 314.6 L1005.2 317 L1005.4 319.5 L1004.9 321.9 L1004.9 324.4 L1004.6 326.7 L1003.8 328.7 L1002.2 330.5 L1001.7 332.6 L1001.4 334.9 L1000 336.7 L998.2 338.4 L997.4 340.7 L996.3 342.8 L994.7 340.7 L992.6 339.1 L989.4 339.1 L986.5 337.9 L984.6 335.7 L982.1 334.2 L984 336.2 L984.5 339.1 L986.4 341.1 L987.7 343.5 L989.9 345.1 L991.8 347.2 L993.9 348.9 L993.7 351.5 L995 353.8 L995.1 356.3 L995.4 358.8 L994.6 361.2 L994.7 363.7 L994.7 366.2 L993.9 368.6 L993.4 371.2 L992.6 373.7 L991.5 376.1 L990.2 378.4 L990 380.9 L989.5 383.4 L988.3 385.7 L988.5 388.3 L987.7 390.7 L987.4 393.4 L987.2 396.1 L988.7 398.2 L989.5 400.6 L990.2 403 L992.2 405.1 L993.1 407.7 L993.9 410.4 L995.9 412.4 L995.9 415.5 L997.5 417.7 L999.1 419.8 L1001.3 421.5 L1002.5 423.9 L1002.9 426.3 L1002.5 428.9 L1003.7 431.2 L1003.1 433.6 L1000.7 435 L1000 437.4 L998.1 439.5 L995.9 441.5 L993.9 443.5 L991.9 445 L990.9 447.3 L989.2 449 L987.7 450.9 L985.1 451.5 L982.5 451.9 L980.5 453.9 L977.9 454.6 L975.6 455.3 L973.6 456.7 L971.8 458.2 L970.3 459.9 L969.4 462 L968.3 463.9 L966.8 465.6 L967 468.2 L966.2 470.7 L965.8 473.1 L964.4 475.4 L961.2 475.6 L958.2 476.7 L956.4 478.3 L954.4 479.7 L952.1 480.4 L950.6 483 L947.6 484 L946 486.5 L944.2 488.7 L943.3 491.3 L942.3 493.9 L942.2 496 L940.5 497.2 L940.2 499 L939 500 L937.4 500.5 L937.2 502.5 L935.3 502.7 L934.8 504.4 L931.6 503.4 L931.9 505.8 L929.4 505.4 L929.3 507.8 L928.9 509.8 L925.7 508.6 L926.3 511.8 L924.9 512.7 L924.7 514.9 L922.1 514.4 L921.2 516 L919.7 516.9 L918.4 518.1 L918.1 520.2 L915.9 520.6 L914.7 521.8 L916.1 524.2 L914.4 525.4 L914.5 527.3 L912.7 528.5 L913.5 530.6 L911.1 531.6 L912.8 533.5 L911.3 534.8 L911.3 536.4 L909.5 537.7 L909.4 539.3 L908.2 540.6 L908.3 542.2 L908.6 543.9 L907.5 545.3 L906.6 546.7 L908.4 548.5 L908.5 550.1 L905.5 551.2 L908.8 553.3 L906.2 554.4 L906.9 556.1 L906.4 557.8 L909 559.3 L905.7 561.1 L905.6 562.8 L906.8 564.4 L907.4 566 L907.1 568 L907.4 569.7 L910.7 570.4 L909.8 572.6 L910.5 574.2 L911.1 575.8 L911.4 578.2 L912.3 580.5 L913.1 582.7 L914.2 584.8 L914.6 587.3 L916 589.3 L917.1 591.5 L918.5 593.5 L920.5 595.1 L922.1 596.9 L923.4 599 L924.4 601.2 L926.1 602.9 L927 605.3 L928.5 607.5 L930.6 609 L932.4 610.9 L934.4 612.6 L935.1 614.8 L936 617 L937.2 619 L938.8 620.9 L938.6 623.5 L939.6 625.7 L940.9 627.7 L941.8 629.8 L942.7 632 L943.4 634.2 L945.2 636 L945.1 638.5 L946.7 640.4 L947.9 642.4 L948.5 644.7 L949.1 647 L949.4 649.6 L950.8 651.8 L950.6 654.5 L950.8 657.1 L952.2 659.3 L952.8 661.8 L953 664.2 L952.8 666.7 L952.5 669.1 L952.4 671.6 L952.6 674 L952.8 676.5 L951.7 678.9 L951.6 681.6 L950.6 684 L949.1 686.3 L946.9 688.3 L944 689.2 L941.8 691.2 L938.6 690.9 L935.6 690 L934.5 687.9 L932.5 686.3 L931.9 683.9 L930.1 682.4 L929.1 680.4 L928.5 678.2 L927 676.5 L924 676.2 L920.9 676.5 L919.3 673.9 L917.2 671.6 L915.7 669.6 L914.8 667.3 L913.5 665.2 L912.3 663 L909.8 662.5 L907.4 661.8 L906 659.5 L906.3 656.7 L904.9 654.4 L902.6 653.1 L901.3 650.5 L898.8 649.5 L898.2 646.7 L895.7 644.9 L895.1 642.2 L893.9 639.7 L893.7 637.1 L893.1 634.6 L891.6 632.3 L890.6 630 L890.2 627.4 L889.5 625 L890.4 622.4 L889 620.1 L889.3 617.5 L888.9 615.1 L887.7 612.8 L887.7 610.2 L887.8 607.6 L886.5 605.3 L883.8 604.6 L881.6 602.8 L880.4 600.6 L878.5 599.1 L877.4 596.9 L875.4 595.4 L873.8 593.3 L871.4 592.1 L870.4 589.5 L868.1 588.1 L865.6 587.2 L862.9 587 L860.4 586.1 L858.2 584.4 L855.2 585.6 L852.1 586.8 L850.5 588.5 L849.1 590.4 L847.2 591.8 L845.4 593.8 L843 595.1 L840.9 596.6 L838.6 597.9 L836.3 596.6 L833.4 597 L831.2 595.4 L830 593.3 L828.6 591.4 L826.2 590.3 L825.1 588.1 L822.9 586.3 L820.3 585.3 L817.7 584.4 L815.8 582.9 L813.3 582.9 L811.2 581.8 L809.1 580.7 L806.7 581.1 L804.1 580.4 L801.7 581.3 L799.3 581.9 L796.8 581.9 L794.4 582.8 L792 583.7 L789.7 584.8 L787.2 585.5 L784.6 585.6 L781.4 585.7 L778.4 586.8 L776.9 584.9 L776.5 582.4 L774.7 580.7 L773.9 583.3 L772.3 585.6 L772.6 588.1 L771.1 589.2 L769.5 588.1 L768 589.5 L766.5 588.1 L765 588.8 L763.1 586.4 L761.6 586.9 L760 587.4 L758.5 588.4 L756.8 587.3 L755.4 589.3 L753.1 588.1 L752.1 590.3 L750.2 590.2 L749.6 593.7 L746.9 591.4 L745.6 593 L744.5 594.2 L742.4 594.1 L741.5 595.4 L741.3 597.7 L739.5 597.9 L742.1 598.6 L739.4 602 L741.9 602.8 L744.2 603 L743.8 605.2 L745.2 606.1 L745.6 607.7 L747.5 607.8 L747.8 610.4 L748.7 612.2 L751.8 610.3 L752.2 612.7 L754.5 612.3 L755.4 613.9 L755.8 615.8 L756.7 617.5 L755.4 618.8 L754.4 620.6 L752.8 621.6 L750.5 621.2 L748.4 621.2 L749.2 617.8 L746.8 618.2 L744.8 618.1 L745.6 614.7 L743.2 615.1 L742.4 612.5 L740.2 614.3 L738.2 615.1 L736.8 614.4 L735.8 612.6 L735.9 615.1 L733.9 615.6 L733.4 617.6 L730.9 617.5 L729.4 618.9 L727.8 619 L726 617.8 L724.1 616.6 L722.6 617.5 L721.1 618.8 L719.6 620 L717.9 620.7 L716.1 621.2 L714.7 620.1 L712.9 619.7 L711.3 618.9 L709.2 618.9 L708.8 616.3 L706.9 616.1 L707.7 612.6 L704 614.5 L703.9 612.2 L703 610.8 L701.4 610.2 L700.4 608.2 L698 610.4 L696.6 609.7 L695.1 609.3 L694 607.7 L691.9 606.9 L690.4 605.3 L687.5 605.8 L684.6 605.4 L681.8 606.5 L679.3 606.2 L676.8 606.5 L674.5 608.2 L671.9 607.7 L669.4 608.2 L667.1 606.9 L664.6 606.3 L662.1 606.8 L659.7 606.5 L657.2 607.1 L655 608.7 L652.4 608.9 L649.7 608.8 L647.4 610.2 L645.2 610.7 L643.2 611.7 L641.1 612.5 L639.7 614.5 L637.5 615.1 L635.8 613.6 L634.6 611.7 L633.9 609.5 L632.6 607.7 L631.9 610.1 L631.1 612.5 L631.4 615.1 L632.6 617.5 L630.5 619.1 L628.8 621 L626.8 622.8 L625.3 624.9 L623.4 626.2 L621.3 627.3 L619.8 629.2 L617.1 629.5 L615.4 631.1 L613.7 632.7 L611.1 633 L609.4 634.6 L607.7 636.2 L605.6 637.2 L604 638.9 L601.9 640 L599.6 640.7 L597.6 641.8 L595.8 643.3 L594.5 645.5 L592.8 647.2 L590.6 648.4 L588.8 650.1 L587.2 651.9 L586.4 654 L585.6 656.1 L584.1 657.8 L584 660.2 L582.3 661.8 L582.1 664.3 L581.4 666.7 L580.1 669 L580.1 671.5 L579.8 674 L579.4 676.5 L580.4 678.9 L581 681.3 L581.2 683.8 L581.1 686.3 L581.3 689 L582.6 691.3 L584.1 693.5 L584.7 696.1 L583.5 696.1 L581 696.3 L578.6 695.5 L576.2 695 L573.7 695 L571.2 694.8 L568.8 694.1 L566.4 693.6 L563.9 693.7 L561.7 693.1 L559.5 692.4 L557.5 691.2 L555.4 690.2 L553.4 689.1 L551.1 688.7 L549.1 687.5 L548.1 685.5 L546.9 683.7 L545.5 682 L544 680.3 L543.4 678.1 L541.8 676.5 L540.7 674.3 L540.3 671.8 L538.9 669.7 L538 667.5 L537.6 665 L536.3 662.9 L535.6 660.5 L534.4 658.3 L532.5 656.6 L530.6 654.9 L529.1 653 L527.7 650.9 L526.3 648.8 L524.6 647 L523.8 644.7 L521.8 643 L520.8 640.8 L519.4 638.7 L518.9 636.3 L516.9 634.6 L516 632.3 L514.7 630.2 L513.8 627.9 L513.2 625.5 L512.8 623 L511.9 620.7 L510.9 618.5 L509.8 616.3 L508.1 614.4 L506.1 613 L503.8 612 L501.8 610.6 L500 608.9 L498.2 607.4 L496.1 606.4 L493.7 605.8 L492 604.1 L489.9 603.2 L487.9 601.9 L485.4 602 L483 602 L480.5 602.1 L478.1 601.7 L476.1 602.9 L473.9 603.3 L471.8 603.9 L469.5 604 L467.5 605.1 L467.3 607.3 L466 609.3 L466.1 611.6 L465.3 613.7 L464 616.3 L462.4 618.8 L459.9 617.8 L457.2 617.4 L455.5 615.8 L453.3 614.9 L451.2 613.9 L449.5 612.2 L447.5 611 L445.9 609.3 L443.7 608.3 L441.9 607 L440.3 605.3 L439.1 603.3 L436.8 602.4 L435.5 600.5 L433.9 598.9 L433.6 596.4 L432.9 593.9 L431.6 591.7 L431.4 589.1 L429.8 587.3 L428.6 585.2 L428.1 582.7 L426.3 581 L425.4 578.7 L424 576.8 L422.8 574.8 L420.8 573.5 L419.3 571.9 L418.2 569.7 L416.5 568.3 L414.7 566.8 L413.5 564.8 L411.8 563.3 L410 561.6 L408.3 559.8 L406.5 558.1 L405.4 555.8 L403.9 553.9 L401.9 552.3 L400.8 550.3 L399.8 548.1 L397.8 546.7 L396.8 544.6 L395.8 542.5 L363.9 544.4 L363.9 553.5 L345.4 551.1 L291.4 537.5 L243.5 509.3 L236.1 503.2 L205.4 495.8 L189.5 493.9 L189.2 491.4 L189.5 488.9 L189.3 486.5 L188.3 484.1 L188.2 481.6 L187 479.3 L186.3 476.7 L185.5 474.3 L184.6 471.8 L183.8 469.4 L181.8 467.7 L181.2 465.2 L179.6 463.2 L177.7 461.7 L175.7 460.4 L173.5 459.5 L173 457.3 L172 455.3 L171.1 453.3 L168.5 452.3 L166.1 451.1 L163.7 449.7 L161.5 447.8 L159.8 445.3 L157.5 443.5 L155.1 442.4 L153 440.7 L151.2 438.7 L148.9 437.4 L146.3 436.8 L143.8 436 L141.4 435.1 L139.1 433.7 L137.3 431.8 L135.4 430 L135.5 427.5 L136.5 425.1 L136.6 422.7 L137 420.2 L136.7 417.7 L135.8 415.3 L135 412.9 L134.4 410.5 L134.2 407.9 L133 405.5 L132 402.9 L130.5 400.6 L129.3 398.1 L128 396.3 L127.3 394.2 L126.5 392.1 L125.6 390.1 L124.4 388.2 L124.1 385.7 L123.6 383.2 L122.7 380.8 L121.9 378.4 L122.1 375.8 L123.5 373.6 L123.5 371 L124.4 368.6 L123.2 366.1 L121.8 363.8 L121 361.1 L119.5 358.8 L118.8 356.4 L118.5 353.9 L118.2 351.4 L118.2 348.9 L119.1 345.7 L120.7 342.8 L119 340.4 L116.7 338.7 L114.6 336.7 L113.5 334.3 L112.6 331.8 L112.4 329.1 L110.9 326.8 L110.2 324.4 L109.1 322 L109 319.4 L108.1 317 L107.2 314.6 L107.8 312.1 L106.7 309.7 L107.2 307.2 L107.6 304.8 L107.2 302.3 L108.1 299.9 L108.6 297.5 L108.1 294.8 L108.9 292.4 L109.6 290 L107.6 288.1 L106.4 285.6 L105.7 283 L106.3 280.3 L105.4 277.7 L105 275.1 L106.8 273.5 L107.5 271.2 L109.3 269.7 L110.3 267.5 L111.4 265.5 L113.2 264 L114.3 261.9 L115.3 259.7 L114.8 257.1 L115.9 254.9 L116.4 252.6 L116.5 250.1 L117.1 247.8 L117.4 245.4 L118 243.1 L118.8 240.8 L118.7 238.5 L119.2 236.2 L119.5 233.9 L119.1 231.6 L119 229.3 L119.6 227 L120.2 224.7 L120.1 222.4 L121 220 L122.4 217.9 L123.5 215.6 L125.3 213.8 L126.3 211.4 L127.5 209.2 L128.7 206.9 L130.4 204.9 L132.3 203.2 L134 201.3 L134.9 199 L135.8 196.7 L136 194.2 L136.9 191.9 L138.3 189.8 L138.8 187.4 L139.5 185 L140.6 182.8 L141.2 180.6 L142.7 178.7 L142.7 176.3 L143.8 174.2 L144.3 172 L145.1 169.8 L146.4 167.9 L147.3 165.8 L147.4 163.4 L148 161.1 L149.1 159.1 L150.7 157.6 L151.7 155.5 L152.9 153.6 L155.2 152.6 L156.2 150.5 L158 149.1 L159.1 147.2 L157.8 146.7 L157 145.2 L155.4 145.3 L153.8 145.3 L152.4 144.9 L151.7 143.3 L152.1 142 L152.5 140.7 L153.3 139.5 L151.8 137.9 L153.2 136.8 L152.9 135.3 L153.4 134.1 L152.9 132.6 L153.4 131.4 L154.2 130.1 L155.3 129 L154.6 127.5 L154.1 125.2 L154.4 122.8 L154.6 120.5 L154.7 118.1 L153.8 115.8 L153.6 113.5 L154.3 111.1 L154.3 108.8 L153.7 106.5 L153.2 104.1 L153.9 101.8 L153.3 99.4 L153.3 97.1 L155.2 95 L156.5 92.4Z" fill="#fff"/>
<path d="M106 292 C106.3 290.7 107.5 286.0 107.9 284.4 C108.3 282.8 108.0 283.8 108.3 282.6 C108.6 281.4 108.9 279.1 109.6 277.4 C110.3 275.6 111.1 274.0 112.3 272.1 C113.5 270.2 115.1 268.2 116.7 266 C118.3 263.8 120.0 261.2 121.9 258.9 C123.8 256.5 125.9 254.0 128.1 251.9 C130.3 249.8 132.5 247.9 135.1 246.2 C137.7 244.4 140.7 242.8 143.9 241.4 C147.1 240.0 150.6 238.4 154.4 237.5 C158.2 236.6 162.6 236.0 166.7 235.7 C170.8 235.3 173.3 235.2 178.9 235.4 C184.5 235.6 194.5 236.1 200 236.8 C205.5 237.5 203.7 238.0 211.8 239.5 C219.9 241.0 235.5 243.1 248.7 245.6 C261.9 248.1 279.5 251.8 290.9 254.5 C302.3 257.2 308.5 259.1 317.3 261.9 C326.1 264.6 336.5 268.4 343.6 271 C350.7 273.6 353.2 274.3 360 277.4 C366.8 280.5 376.4 285.5 384.6 289.6 C392.8 293.7 400.9 297.6 409.1 301.9 C417.3 306.2 425.5 311.1 433.7 315.4 C441.9 319.7 450.0 323.6 458.2 327.7 C466.4 331.8 474.6 336.1 482.8 340 C491.0 343.9 499.2 348.0 507.4 351.1 C515.6 354.2 523.7 356.4 531.9 358.4 C540.1 360.3 548.3 361.7 556.5 362.8 C564.7 363.9 572.8 364.7 581 365.1 C589.2 365.5 599.1 365.5 605.6 365.3 C612.1 365.1 616.0 364.1 620 363.7 C624.0 363.3 625.7 363.8 629.8 363 C633.9 362.2 638.9 361.2 644.6 358.8 C650.3 356.4 658.1 353.0 664.2 348.9 C670.3 344.8 676.1 339.5 681.4 334.2 C686.7 328.9 691.5 322.6 696.1 317 C700.7 311.4 704.5 307.0 709 300.5 C713.5 294.0 719.4 286.3 723.3 278.2 C727.2 270.1 729.9 260.6 732.5 251.8 C735.1 243.0 737.2 233.4 739 225.5 C740.8 217.6 742.0 209.9 743 204.4 C744.0 198.9 744.4 198.2 744.9 192.5 C745.4 186.8 745.8 183.8 746 170 C746.2 156.2 746.0 120.0 746 110 L1140 110 L1140 800 L225 800 L225 545 C223.3 540.8 218.3 528.2 215 520 C211.7 511.8 207.8 502.2 205.4 495.8 C203.0 489.4 202.9 487.2 200.5 481.6 C198.1 476.0 194.4 468.9 190.7 461.9 C187.0 454.9 182.9 447.2 178.4 439.8 C173.9 432.4 169.0 425.1 163.7 417.7 C158.4 410.3 151.8 401.7 146.5 395.6 C141.2 389.5 135.9 385.0 131.8 380.9 C127.7 376.8 128.0 377.0 121.9 371 C115.8 365.0 99.5 349.3 95 345 L90 300Z" fill="#E7B267"/>
<path d="M247 515 C246.3 513.3 244.0 507.7 243 505 C242.0 502.3 242.3 503.1 241 498.8 C239.7 494.5 237.6 486.1 234.9 479.1 C232.2 472.1 229.2 465.6 225.1 457 C221.0 448.4 215.3 436.9 210.4 427.5 C205.5 418.1 200.1 409.1 195.6 400.5 C191.1 391.9 186.8 383.8 183.3 376 C179.8 368.2 176.9 360.9 174.7 353.9 C172.4 346.9 170.8 339.5 169.8 334.2 C168.8 328.9 168.6 325.2 168.6 321.9 C168.6 318.6 169.0 317.5 169.8 314.6 C170.6 311.7 171.7 307.8 173.5 304.7 C175.3 301.6 177.3 298.5 180.9 296.1 C184.5 293.7 189.0 292.0 195 290.5 C201.0 289.0 210.7 287.7 217 287 C223.3 286.3 227.3 286.0 233 286.2 C238.7 286.4 244.0 286.9 251.4 288.3 C258.9 289.8 268.9 292.3 277.7 294.9 C286.5 297.5 296.5 301.1 304 304 C311.5 306.9 316.5 309.2 322.5 312 C328.5 314.8 333.8 317.8 340 321 C346.2 324.2 352.6 327.6 360 331.4 C367.4 335.2 376.4 339.2 384.6 343.7 C392.8 348.2 400.9 353.5 409.1 358.4 C417.3 363.3 425.5 368.5 433.7 373.2 C441.9 377.9 450.0 382.2 458.2 386.7 C466.4 391.2 474.6 395.7 482.8 400.2 C491.0 404.7 499.2 409.8 507.4 413.7 C515.6 417.6 523.7 420.4 531.9 423.5 C540.1 426.6 548.3 429.9 556.5 432.1 C564.7 434.4 572.8 435.7 581 437 C589.2 438.3 599.1 439.4 605.6 440 C612.1 440.6 613.5 439.7 620 440.3 C626.5 440.9 636.4 443.2 644.6 443.5 C652.8 443.8 660.9 443.3 669.1 442.3 C677.3 441.3 685.5 439.6 693.7 437.4 C701.9 435.1 710.0 432.3 718.2 428.8 C726.4 425.3 734.6 421.2 742.8 416.5 C751.0 411.8 760.0 406.0 767.4 400.5 C774.8 395.0 781.3 389.4 787 383.3 C792.7 377.2 797.3 371.1 801.8 363.7 C806.3 356.3 810.7 347.3 814 339.1 C817.3 330.9 819.5 322.6 821.4 314.6 C823.3 306.7 824.7 299.2 825.6 291.4 C826.5 283.6 826.7 274.2 826.9 267.6 C827.1 261.0 826.9 258.8 826.6 251.8 C826.3 244.8 825.8 234.1 825 225.5 C824.2 216.9 823.2 212.6 822 200 C820.8 187.4 819.2 166.7 818 150 C816.8 133.3 815.5 108.3 815 100 L1140 100 L1140 800 L247 800Z" fill="#E38B49"/>
<path d="M300 555 C298.8 552.1 295.7 544.7 292.6 537.5 C289.5 530.3 285.5 521.2 281.6 512 C277.7 502.8 273.0 492.4 269.3 482 C265.6 471.6 262.4 458.7 259.5 449.6 C256.6 440.5 253.9 434.4 252.1 427.5 C250.2 420.6 249.2 413.6 248.4 407.9 C247.6 402.2 247.2 397.3 247.2 393.2 C247.2 389.1 247.4 387.4 248.4 383.3 C249.4 379.2 251.1 372.9 253.3 368.6 C255.6 364.3 258.0 360.6 261.9 357.5 C265.8 354.4 271.4 351.6 276.7 350.2 C282.0 348.8 288.2 348.8 293.9 349 C299.6 349.2 304.1 349.6 311 351.4 C317.9 353.2 327.4 356.6 335.6 360 C343.8 363.4 351.8 367.4 360 372 C368.2 376.6 376.4 382.6 384.6 387.9 C392.8 393.2 400.9 398.6 409.1 403.9 C417.3 409.2 425.5 414.5 433.7 419.8 C441.9 425.1 450.0 430.7 458.2 435.8 C466.4 440.9 474.6 446.0 482.8 450.5 C491.0 455.0 499.2 458.9 507.4 462.8 C515.6 466.7 523.7 470.4 531.9 473.9 C540.1 477.4 549.5 480.6 556.5 483.7 C563.5 486.8 565.1 488.0 573.7 492.3 C582.3 496.6 597.4 502.8 608 509.5 C618.6 516.2 628.9 524.6 637.5 532.8 C646.1 541.0 653.2 550.2 659.7 558.6 C666.2 567.0 671.9 575.4 676.8 583.2 C681.7 591.0 685.7 598.8 689.1 605.3 C692.5 611.8 695.7 619.2 697 622 L697 760 L300 760Z" fill="#DB5730"/>
<path d="M870 610 L886.5 602.8 L916 589.3 L935 580.7 L1000 580 L1000 760 L870 760Z" fill="#DB5730"/>
<path d="M356 563 C355.1 560.8 353.0 555.3 350.4 549.8 C347.8 544.3 343.8 536.8 340.5 530.2 C337.2 523.7 334.0 517.9 330.7 510.5 C327.4 503.1 323.6 494.2 320.9 486 C318.2 477.8 316.1 468.8 314.7 461.4 C313.3 454.0 312.3 446.7 312.3 441.8 C312.3 436.9 312.9 435.2 314.7 431.9 C316.5 428.6 319.8 424.6 323.3 422.1 C326.8 419.7 331.5 418.1 335.6 417.2 C339.7 416.3 343.4 416.2 347.9 416.7 C352.4 417.2 356.6 417.2 362.6 420.2 C368.6 423.2 376.3 428.9 384 434.5 C391.7 440.1 400.8 447.4 409 454 C417.2 460.6 426.0 468.2 433 474 C440.0 479.8 444.7 483.3 451 489 C457.3 494.7 464.6 501.7 470.7 508.1 C476.8 514.6 483.0 521.2 487.9 527.7 C492.8 534.2 497.3 540.9 500.2 547.4 C503.1 553.9 504.5 560.5 505.1 567 C505.7 573.5 504.9 580.6 503.9 586.7 C502.9 592.9 500.2 599.8 499 603.9 C497.8 608.0 497.8 607.2 496.5 611.2 C495.2 615.2 491.9 625.2 491 628 L480 660 L356 660Z" fill="#CA3A1C"/>
<path class="ct" d="M106 292 C106.3 290.7 107.5 286.0 107.9 284.4 C108.3 282.8 108.0 283.8 108.3 282.6 C108.6 281.4 108.9 279.1 109.6 277.4 C110.3 275.6 111.1 274.0 112.3 272.1 C113.5 270.2 115.1 268.2 116.7 266 C118.3 263.8 120.0 261.2 121.9 258.9 C123.8 256.5 125.9 254.0 128.1 251.9 C130.3 249.8 132.5 247.9 135.1 246.2 C137.7 244.4 140.7 242.8 143.9 241.4 C147.1 240.0 150.6 238.4 154.4 237.5 C158.2 236.6 162.6 236.0 166.7 235.7 C170.8 235.3 173.3 235.2 178.9 235.4 C184.5 235.6 194.5 236.1 200 236.8 C205.5 237.5 203.7 238.0 211.8 239.5 C219.9 241.0 235.5 243.1 248.7 245.6 C261.9 248.1 279.5 251.8 290.9 254.5 C302.3 257.2 308.5 259.1 317.3 261.9 C326.1 264.6 336.5 268.4 343.6 271 C350.7 273.6 353.2 274.3 360 277.4 C366.8 280.5 376.4 285.5 384.6 289.6 C392.8 293.7 400.9 297.6 409.1 301.9 C417.3 306.2 425.5 311.1 433.7 315.4 C441.9 319.7 450.0 323.6 458.2 327.7 C466.4 331.8 474.6 336.1 482.8 340 C491.0 343.9 499.2 348.0 507.4 351.1 C515.6 354.2 523.7 356.4 531.9 358.4 C540.1 360.3 548.3 361.7 556.5 362.8 C564.7 363.9 572.8 364.7 581 365.1 C589.2 365.5 599.1 365.5 605.6 365.3 C612.1 365.1 616.0 364.1 620 363.7 C624.0 363.3 625.7 363.8 629.8 363 C633.9 362.2 638.9 361.2 644.6 358.8 C650.3 356.4 658.1 353.0 664.2 348.9 C670.3 344.8 676.1 339.5 681.4 334.2 C686.7 328.9 691.5 322.6 696.1 317 C700.7 311.4 704.5 307.0 709 300.5 C713.5 294.0 719.4 286.3 723.3 278.2 C727.2 270.1 729.9 260.6 732.5 251.8 C735.1 243.0 737.2 233.4 739 225.5 C740.8 217.6 742.0 209.9 743 204.4 C744.0 198.9 744.4 198.2 744.9 192.5 C745.4 186.8 745.8 183.8 746 170 C746.2 156.2 746.0 120.0 746 110"/>
<path class="ct" d="M225 545 C223.3 540.8 218.3 528.2 215 520 C211.7 511.8 207.8 502.2 205.4 495.8 C203.0 489.4 202.9 487.2 200.5 481.6 C198.1 476.0 194.4 468.9 190.7 461.9 C187.0 454.9 182.9 447.2 178.4 439.8 C173.9 432.4 169.0 425.1 163.7 417.7 C158.4 410.3 151.8 401.7 146.5 395.6 C141.2 389.5 135.9 385.0 131.8 380.9 C127.7 376.8 128.0 377.0 121.9 371 C115.8 365.0 99.5 349.3 95 345"/>
<path class="ct" d="M247 515 C246.3 513.3 244.0 507.7 243 505 C242.0 502.3 242.3 503.1 241 498.8 C239.7 494.5 237.6 486.1 234.9 479.1 C232.2 472.1 229.2 465.6 225.1 457 C221.0 448.4 215.3 436.9 210.4 427.5 C205.5 418.1 200.1 409.1 195.6 400.5 C191.1 391.9 186.8 383.8 183.3 376 C179.8 368.2 176.9 360.9 174.7 353.9 C172.4 346.9 170.8 339.5 169.8 334.2 C168.8 328.9 168.6 325.2 168.6 321.9 C168.6 318.6 169.0 317.5 169.8 314.6 C170.6 311.7 171.7 307.8 173.5 304.7 C175.3 301.6 177.3 298.5 180.9 296.1 C184.5 293.7 189.0 292.0 195 290.5 C201.0 289.0 210.7 287.7 217 287 C223.3 286.3 227.3 286.0 233 286.2 C238.7 286.4 244.0 286.9 251.4 288.3 C258.9 289.8 268.9 292.3 277.7 294.9 C286.5 297.5 296.5 301.1 304 304 C311.5 306.9 316.5 309.2 322.5 312 C328.5 314.8 333.8 317.8 340 321 C346.2 324.2 352.6 327.6 360 331.4 C367.4 335.2 376.4 339.2 384.6 343.7 C392.8 348.2 400.9 353.5 409.1 358.4 C417.3 363.3 425.5 368.5 433.7 373.2 C441.9 377.9 450.0 382.2 458.2 386.7 C466.4 391.2 474.6 395.7 482.8 400.2 C491.0 404.7 499.2 409.8 507.4 413.7 C515.6 417.6 523.7 420.4 531.9 423.5 C540.1 426.6 548.3 429.9 556.5 432.1 C564.7 434.4 572.8 435.7 581 437 C589.2 438.3 599.1 439.4 605.6 440 C612.1 440.6 613.5 439.7 620 440.3 C626.5 440.9 636.4 443.2 644.6 443.5 C652.8 443.8 660.9 443.3 669.1 442.3 C677.3 441.3 685.5 439.6 693.7 437.4 C701.9 435.1 710.0 432.3 718.2 428.8 C726.4 425.3 734.6 421.2 742.8 416.5 C751.0 411.8 760.0 406.0 767.4 400.5 C774.8 395.0 781.3 389.4 787 383.3 C792.7 377.2 797.3 371.1 801.8 363.7 C806.3 356.3 810.7 347.3 814 339.1 C817.3 330.9 819.5 322.6 821.4 314.6 C823.3 306.7 824.7 299.2 825.6 291.4 C826.5 283.6 826.7 274.2 826.9 267.6 C827.1 261.0 826.9 258.8 826.6 251.8 C826.3 244.8 825.8 234.1 825 225.5 C824.2 216.9 823.2 212.6 822 200 C820.8 187.4 819.2 166.7 818 150 C816.8 133.3 815.5 108.3 815 100"/>
<path class="ct" d="M300 555 C298.8 552.1 295.7 544.7 292.6 537.5 C289.5 530.3 285.5 521.2 281.6 512 C277.7 502.8 273.0 492.4 269.3 482 C265.6 471.6 262.4 458.7 259.5 449.6 C256.6 440.5 253.9 434.4 252.1 427.5 C250.2 420.6 249.2 413.6 248.4 407.9 C247.6 402.2 247.2 397.3 247.2 393.2 C247.2 389.1 247.4 387.4 248.4 383.3 C249.4 379.2 251.1 372.9 253.3 368.6 C255.6 364.3 258.0 360.6 261.9 357.5 C265.8 354.4 271.4 351.6 276.7 350.2 C282.0 348.8 288.2 348.8 293.9 349 C299.6 349.2 304.1 349.6 311 351.4 C317.9 353.2 327.4 356.6 335.6 360 C343.8 363.4 351.8 367.4 360 372 C368.2 376.6 376.4 382.6 384.6 387.9 C392.8 393.2 400.9 398.6 409.1 403.9 C417.3 409.2 425.5 414.5 433.7 419.8 C441.9 425.1 450.0 430.7 458.2 435.8 C466.4 440.9 474.6 446.0 482.8 450.5 C491.0 455.0 499.2 458.9 507.4 462.8 C515.6 466.7 523.7 470.4 531.9 473.9 C540.1 477.4 549.5 480.6 556.5 483.7 C563.5 486.8 565.1 488.0 573.7 492.3 C582.3 496.6 597.4 502.8 608 509.5 C618.6 516.2 628.9 524.6 637.5 532.8 C646.1 541.0 653.2 550.2 659.7 558.6 C666.2 567.0 671.9 575.4 676.8 583.2 C681.7 591.0 685.7 598.8 689.1 605.3 C692.5 611.8 695.7 619.2 697 622"/>
<path class="ct" d="M870 610 C872.8 608.8 878.8 606.2 886.5 602.8 C894.2 599.3 907.9 593.0 916 589.3 C924.1 585.6 931.8 582.1 935 580.7"/>
<path class="ct" d="M356 563 C355.1 560.8 353.0 555.3 350.4 549.8 C347.8 544.3 343.8 536.8 340.5 530.2 C337.2 523.7 334.0 517.9 330.7 510.5 C327.4 503.1 323.6 494.2 320.9 486 C318.2 477.8 316.1 468.8 314.7 461.4 C313.3 454.0 312.3 446.7 312.3 441.8 C312.3 436.9 312.9 435.2 314.7 431.9 C316.5 428.6 319.8 424.6 323.3 422.1 C326.8 419.7 331.5 418.1 335.6 417.2 C339.7 416.3 343.4 416.2 347.9 416.7 C352.4 417.2 356.6 417.2 362.6 420.2 C368.6 423.2 376.3 428.9 384 434.5 C391.7 440.1 400.8 447.4 409 454 C417.2 460.6 426.0 468.2 433 474 C440.0 479.8 444.7 483.3 451 489 C457.3 494.7 464.6 501.7 470.7 508.1 C476.8 514.6 483.0 521.2 487.9 527.7 C492.8 534.2 497.3 540.9 500.2 547.4 C503.1 553.9 504.5 560.5 505.1 567 C505.7 573.5 504.9 580.6 503.9 586.7 C502.9 592.9 500.2 599.8 499 603.9 C497.8 608.0 497.8 607.2 496.5 611.2 C495.2 615.2 491.9 625.2 491 628"/>
</g>
<g class="st">
<path d="M159.1 147.2 L164.4 149.9 L168.3 156.5 L168.3 163 L176.2 167.5 L188.1 167 L194.7 171.5 L206.5 172.8 L222.4 171.7 L238.2 172.8 L264.6 179.7"/>
<path d="M278.3 110.3 L264.6 179.7 L269.8 186.8 L269.3 192 L261.9 203.9 L251.4 215.8 L250.8 219.7 L254.5 222.4 L252.7 230.3 L242.7 272.5"/>
<path d="M118.8 240.8 L189.4 261.4 L242.7 272.5 L293 283.5 L345 292.2"/>
<path d="M293 114.3 L289.6 135.4 L290.9 142 L293 151.2 L297.5 159.1 L302.8 169.6 L308.8 173.6 L305.4 185.5 L301.5 196 L304.1 200 L312 197.3 L314.6 206.5 L318.6 217.1 L321.2 223.7 L325.2 231.6 L333.1 229.7 L343.6 230.8 L348.9 227.6 L353.7 232.4"/>
<path d="M356.3 223.2 L354.2 232.9 L348.9 264.6 L345 292.2"/>
<path d="M356.3 223.2 L380 225.8 L474.1 237.7"/>
<path d="M482.8 142.7 L476.8 227.6 L474.1 238.2 L471 284.3 L470.5 284.2 L466.8 330.2"/>
<path d="M477.3 215 L600.7 219.7"/>
<path d="M471 284.3 L565.1 290.1 L580.9 293.6 L594.1 297.5 L599.5 299.5 L605.6 311.8 L610.5 326.5 L614.2 346.1 L620.4 358.4 L626.5 364.6 L628.9 373.2 L627.7 375.6 L633.9 381.8 L636.3 434.1 L637.1 446.8 L640 468.9 L640.5 480"/>
<path d="M590.9 147.5 L592.8 161.7 L596.2 180.2 L598.1 198.6 L600.7 211.8 L600.7 219.7 L596.7 226.3 L602 232.9 L602.5 277.7 L600.7 284.3 L602 298.8"/>
<path d="M602 277.7 L670 276.4 L693.7 276.1"/>
<path d="M674.5 200.4 L671.9 204.4 L670.5 217.5 L662.6 224.1 L664 236 L666.6 246.5 L673.2 254.5 L682.4 262.4 L690.3 269 L694.3 278.2 L695.6 288.7 L699.5 295.3 L706.1 299.3"/>
<path d="M706.1 299.3 L753.6 296.1"/>
<path d="M702.2 200.4 L712.7 207 L741.7 214.4 L748.3 221.5 L749.6 228.1 L754.9 230.7"/>
<path d="M765.5 311.1 L809 308.5 L834 304.6"/>
<path d="M884.1 291.4 L886.7 317.7 L891.5 345.4"/>
<path d="M990.2 197 L992.6 210.5 L996.3 227.7 L1001.2 240 L1003.7 248.6 L1004.9 264.6 L1007.4 286.7 L1009.8 289.1"/>
<path d="M1019.7 189.6 L1020.9 200.7 L1016 208.1 L1014.7 222.8 L1016 244.9"/>
<path d="M1003.7 248.6 L1016 244.9 L1041.8 238.8 L1044.2 236.3"/>
<path d="M1004.9 264.6 L1034.4 258.4 L1041.8 257.2 L1044.2 262.1"/>
<path d="M1034.4 258.4 L1036.8 274.9"/>
<path d="M1025.8 180.6 L1043 228.9"/>
<path d="M895.6 281.8 L894.9 289.1 L973 274.9 L977.9 280.5 L985.3 286.7 L981.6 296.5 L982.8 306.3 L990.2 313.7 L992.6 314.6 L986.5 324.4 L980.4 328.1"/>
<path d="M985.3 286.7 L1003.7 292.8"/>
<path d="M890.7 345.3 L977.9 329.3 L980.4 328.1"/>
<path d="M910.4 342.1 L911.6 354.4 L921.4 346.5 L931.2 339.1 L938.6 340.4 L943.5 348.9 L950.9 348.9 L958.2 353.9 L957 363.7 L965.6 371.1 L973 376 L977.9 381.4"/>
<path d="M977.9 329.3 L982.8 358.8 L995.1 357.5"/>
<path d="M943.5 348.9 L933.7 346.5 L931.2 356.3 L923.9 361.2 L920.2 371.1 L912.8 372.3 L907.9 385.8 L904.2 396.8 L894.4 403 L882.1 407.9 L874.7 405.4 L871.1 401.8"/>
<path d="M860 465.6 L872.3 458.2 L898.1 456.5 L905.4 461.9 L927.5 459.5 L964.4 475.4"/>
<path d="M984 383.3 L985.8 391.9"/>
<path d="M812.8 472.2 L832.5 532.8 L831.2 553.7 L834.9 566 L837.4 570.9 L893.9 567.2 L895.1 572.1 L897.5 561.1 L907.4 564.7"/>
<path d="M834.9 565.5 L782.1 570.4 L782.1 574.6 L784.6 583.2"/>
<path d="M904.9 570.9 L907.4 583.2 L909.8 595.4"/>
<path d="M531.9 480 L532.4 489.8 L534.6 491.1 L537.1 492.1 L539.3 493.5 L541 495.1 L543.3 495.9 L545.5 496.7 L546.9 498.7 L549.1 499.6 L551.6 499.1 L554 500.6 L556.5 500 L558.9 500.9 L561.4 500.9 L563 502.8 L565.2 503.5 L567.1 504.8 L569.4 505.5 L571.2 507 L573.9 507 L576.3 507.8 L578.7 508.7 L581 510.1 L583.5 510.7 L585.9 510.3 L588.4 510.1 L590.9 510.4 L593.3 509.5 L595.9 509.4 L598.3 510 L600.6 511.2 L603.3 510.7 L605.6 511.9 L607.8 510.2 L610.4 509.8 L612.7 508.5 L615.4 508.2 L617.8 507.7 L620.3 507.2 L622.8 507.4 L625.3 507 L627.2 508.4 L629.5 509.1 L631.1 510.9 L633.2 511.9 L635.1 513.2 L637.5 513.2 L639.4 515.1 L642 514.6 L644.2 515.1 L646.5 515.6 L648.6 516.8 L649.8 551.2 L649.8 551.2 L650.7 553.2 L651.4 555.3 L652.5 557.3 L653.8 559.1 L654.7 561.1 L655.9 563.5 L657.2 565.8 L657.6 568.5 L658.6 570.9 L659.7 573.3 L659.4 575.8 L658.7 578.2 L658.5 580.7 L657.6 583.1 L657.4 585.6 L657.2 588.1 L657.2 590.6 L656.3 593 L656.9 595.5 L656.2 597.9 L656 600.4 L655.3 602.9 L654.6 605.4 L653.5 607.7"/>
<path d="M640.5 480 L640.5 514.4"/>
<path d="M649.8 529.1 L706.3 527.2"/>
<path d="M718.6 480 L718.4 482.3 L716.6 484 L716.8 486.4 L715.3 488.2 L713.9 490 L713.7 492.3 L713.3 494.5 L712.5 496.6 L711.1 498.4 L710.4 500.5 L709.4 502.5 L708.8 504.6 L707.6 506.9 L707.8 509.6 L706.8 512 L706.1 514.4 L705.1 516.8 L706.2 519.1 L705.5 521.8 L706.2 524.3 L706.7 526.7 L707.5 529.1 L708.9 531.4 L708.5 534.2 L709.4 536.6 L710.5 538.9 L711.2 541.4 L710.1 543.3 L709.6 545.5 L709.1 547.7 L708.4 549.8 L707.5 551.8 L706.3 553.7 L705.7 556.4 L704.1 558.7 L702.3 560.9 L701.4 563.5 L700.6 565.7 L699.9 567.8 L699.6 570.1 L699.7 572.5 L698.9 574.6 L737 573.3 L737 573.3 L737.6 575.8 L738.3 578.2 L738.6 580.8 L739.5 583.2 L740.7 585.6 L742.2 588 L743.2 590.5 L745.6 593"/>
<path d="M762.5 476.7 L762.8 529.1 L766.5 585.6"/>
<path d="M366.3 400 L362.6 419.6 L346.7 547.4"/>
<path d="M271.8 402.5 L363.9 416.7 L477.9 429.7 L496.3 430.1 L636.3 434.1"/>
<path d="M478.1 430.7 L475.6 473.7 L467.8 548.6 L395.8 542.5"/>
<path d="M189.4 261.4 L173.5 330.5 L250.9 444.7 L249.7 427.5 L253.3 420.2 L259.5 420.2 L263.2 423.9 L266.8 417.7 L269.3 407.9 L271.3 401.8"/>
<path d="M250.9 444.7 L252.1 457 L257 464.4 L249.7 474.2 L243.5 484 L239.8 493.9 L242.3 498.8 L237.4 500"/>
<path d="M293 283.5 L271.3 401.8"/>
<path d="M345.4 290 L341.8 314.6 L377.2 322.1"/>
<path d="M377.2 322.1 L466.8 330.2 L502.5 334.4 L501.2 358.4 L496.3 430.1"/>
<path d="M377.2 322.1 L369.8 378.1 L363.7 417.4 L360 441.9"/>
<path d="M501.2 358.4 L626.5 364.6"/>
<path d="M475.9 441.9 L534.4 444.9 L533.2 481.2"/>
<path d="M614.2 348.1 L640 348.1 L686.3 346 L692.5 350.2"/>
<path d="M759.7 313.8 L763.7 373.5"/>
<path d="M704.7 298.6 L706.4 300.3 L708 302.1 L710.5 302.9 L712.1 304.7 L711.9 307.2 L713.3 309.6 L713.3 312.1 L713.3 314.6 L711.7 316.6 L709.4 318 L707.4 319.7 L706 321.9 L704 322.9 L702.4 324.5 L700.2 325.2 L698.6 326.8 L699.1 329.3 L699.5 331.7 L699 334.3 L699.8 336.7 L698.1 338.8 L696.6 340.9 L695.1 343 L693.7 345.3 L692.9 347.4 L693.3 349.7 L692.6 351.9 L692.5 354.1 L692.5 356.3 L693.1 358.5 L694.6 360.4 L695.3 362.6 L696.5 364.5 L697.8 366.4 L698.6 368.6 L700.7 370.2 L702.2 372.4 L704.5 373.8 L706 376 L706.4 378.3 L708.2 380.1 L709.2 382.2 L709.6 384.6 L711.9 384.7 L713.8 386.3 L716.1 386.2 L718.2 387 L718.1 389.3 L717.8 391.6 L717.3 393.8 L716.1 395.8 L715.8 398.1 L717.2 400.2 L718.6 402.2 L720 404.2 L722.1 405.6 L723.2 407.9 L724.9 409.8 L727 411.5 L728.4 413.7 L730.5 415.3 L731.1 417.6 L731.9 419.8 L733.8 421.5 L734.2 423.9 L736 425.5 L738.1 426.7 L740.4 427.5 L739.5 429.9 L740.2 432.5 L739.8 435 L739.1 437.4 L736.9 439 L734.2 439.8 L734.6 442.3 L733.4 444.7 L733.2 447.2 L733.2 449.7 L732.8 452.1 L733 454.6 L731.9 457 L731.3 459.6 L730.5 462.1 L729.5 464.5 L728.1 466.8 L726.8 468.7 L726.3 471.1 L725.2 473 L724 475 L723.4 477.3 L721.9 479.1"/>
<path d="M763.7 373.5 L766.9 383.3 L764.9 393.2 L760 399.3 L758.8 407.9 L761.2 415.3 L752.6 420.2 L753.9 426.3 L742.8 423.9 L740.4 427.5"/>
<path d="M636.7 444.7 L720.7 442.8 L723.2 447.2 L718.2 455.1 L731.8 454.6 L735.4 438.6 L761.2 437.4 L761.2 434.9 L881.6 423.9 L991.4 405.4"/>
<path d="M721.9 479.1 L762.5 476.7 L812.8 472.2 L836.1 468.1 L859.5 465.6"/>
<path d="M809 308.5 L816.5 371.1 L816.5 371.1 L815.3 373.2 L813.7 375.2 L811.9 376.8 L810.7 379 L809.1 380.9 L806.7 381.7 L804.2 382.1 L802.5 384 L801.7 386.4 L800.2 388.3 L799.3 390.7 L798.5 392.8 L798.6 395.2 L797.5 397.2 L796.8 399.3 L793.7 398.1 L790.7 396.8 L788.9 398.4 L787.8 400.6 L785.9 402.2 L784.6 404.2 L782.1 404.2 L779.7 404.5 L777.2 404.2 L774.6 404.4 L772.4 405.9 L769.8 405.7 L767.4 406.7 L764.6 407.5 L761.7 408.1 L758.8 407.9"/>
<path d="M816.5 371.1 L819 371.1 L821.4 372.2 L823.9 372.3 L825.4 374.3 L827.9 374.9 L829.4 376.9 L831.2 378.4 L833.7 378.7 L836.1 379.4 L838.7 378.9 L841.1 379.6 L843.5 378.7 L845.9 377.6 L848.6 377.3 L850.9 376 L853.2 377.3 L854.9 379.5 L857.5 380.4 L859.5 382.1 L860.7 379.8 L862.7 377.9 L864.1 375.6 L865.6 373.5 L865.1 371 L865.8 368.6 L865.6 366.1 L867.2 364.5 L869.5 363.9 L871.3 362.6 L873 361.2 L874.1 358.9 L874.7 356.4 L875.4 353.9 L877.3 352.3 L879.3 350.8 L881.3 349.4 L883.6 348.4 L885.3 346.5 L885.1 344.3 L886.3 342.2 L885.5 339.9 L886 337.7 L886.4 335.5 L887.4 333.4 L887.2 331.2 L887.3 329 L887.7 326.8"/>
<path d="M859.5 382.1 L859.5 388.2 L865.6 395.6 L873 403 L863.2 412.8 L855.8 420.2 L844.7 428"/>
<path d="M881.6 423.9 L880.4 431.2 L868.1 439.8 L860.7 447.2 L848.4 454.6 L837.4 461.9 L836.1 468.1"/>
<path d="M859.5 465.6 L855.8 470.5 L865.6 479.1 L880.4 491.4 L892.6 506.1 L902.5 514.4 L909.8 526.7"/>
</g>
<g class="lk">
<path d="M712.7 167.5 L699.5 180.6 L686.4 191.2 L674.5 200.4 L693 193.8 L695.6 199.1 L702.2 191.2 L712.7 196.5 L723.3 191.2 L732.5 184.6 L739.1 178.5 L746.5 178.5 L739.1 185.9 L736.5 193.8 L744.4 192.5 L757.5 199.1 L765.5 197.8 L778.6 193.8 L790.5 190.7 L797.1 196.5 L806.3 196.5 L797.1 185.9 L791.8 172.7 L789.2 161.7 L774.7 162.2 L764.1 145 L736.5 141.6 L724.6 154.3Z"/>
<path d="M802.4 211 L791.8 208.3 L782.6 208.3 L774.7 212.3 L769.4 217.5 L764.1 225.5 L758.9 236 L753.6 246.5 L751 259.7 L751 278.2 L753.6 291.4 L757.5 304.6 L761.5 312.5 L765.5 315.6 L770.7 313.8 L776 307.2 L780 296.6 L781.3 283.5 L778.6 272.9 L774.7 262.4 L773.4 251.8 L777.3 238.6 L783.9 233.4 L786.5 237.3 L789.2 230.7 L791.8 222.8 L793.1 216.2 L797.1 213.6Z"/>
<path d="M768.6 212.8 L764.1 212.8 L760.2 216.2 L758.1 223.3 L752.8 233.4 L744.9 245.2 L747.5 248.1 L752.3 244.4 L758.1 236.5 L763.3 227.3 L767 219.4Z"/>
<path d="M806.3 196.5 L807.6 201.7 L818.2 204.4 L810.3 207 L802.4 211 L807.6 213.6 L818.2 218.9 L824.8 225.5 L825.6 236 L822.1 246.5 L818.2 254.5 L819.5 261 L824.8 257.1 L828.7 251.8 L834 249.2 L839.3 251.8 L843.2 262.4 L845.9 272.9 L847.2 274.2 L855.1 265 L856.4 251.8 L860.4 225.5 L863 229.4 L878.8 230.7 L885.4 221.5 L874.9 211 L864.3 199.1 L849.8 198.6 L823.5 197.8Z"/>
<path d="M836.6 295.3 L834 301.9 L835.3 304.6 L841.9 308.5 L844.6 309.8 L855.1 304.6 L870.9 294 L884.1 291.4 L896 283.5 L906.5 267.1 L886.7 271.6 L860.4 280.8 L847.2 288.7 L841.9 294Z"/>
<path d="M842.4 282.4 L845.6 284 L846.4 287.2 L844.6 290.3 L841.4 290.8 L838.8 289 L838.2 285.6 L839.8 283.2Z"/>
<path d="M906.2 267.5 L904.2 263.3 L905.4 259.7 L911.6 254.7 L926.3 253.5 L938.6 251.1 L944.7 247.4 L949.6 241.2 L948.4 233.9 L944.7 230.2 L946 222.8 L949.6 220.4 L941.1 226.5 L925.1 233.9 L911.6 240 L898.1 246.1 L893.2 251.1 L890.7 257.2 L894.4 259.7 L904.2 257.7Z"/>
<path d="M973.5 334.9 L975.9 335.4 L975 336.7 L973.7 338 L975.7 340.2 L972.9 341 L973.5 342.8 L974.9 344.3 L974.6 346.2 L973.3 348.3 L973.8 350 L975.4 351.4 L977.2 352.3 L977.6 353.8 L977.6 355.5 L977.8 357.2 L978.9 358.4 L979.1 360 L981.2 360.8 L981.5 362.5 L980.5 364.8 L980.7 366.6 L982.8 367.4 L985.1 368.2 L983.8 370.4 L983.7 372.2 L986.9 372.6 L985.8 374.7 L984.3 376.3 L986.9 378.3 L984.8 379.8 L984.8 381.6 L984.8 383.3 L984.6 385 L986.1 386.3 L985.9 388 L985.6 389.7 L986.2 391.2 L986.8 392.8 L986.3 394.6 L987.2 396.1 L985 396.3 L982.8 396.1 L982 394.5 L979.9 393.4 L981.4 391 L980.4 389.5 L979.9 387.9 L978.4 386.5 L979.9 384.3 L979.4 382.6 L977.7 381.3 L977.4 379.6 L975.7 378.4 L976.2 376.4 L974.3 375.2 L973.9 373.5 L974.5 371.5 L974.2 369.8 L972.1 369 L972.8 367 L972.4 365.5 L970.1 364.8 L971.6 362.4 L970.5 361.2 L968.5 360.3 L970.4 358 L970.1 356.6 L968.6 355.5 L966.4 354.6 L967.6 352.6 L967.7 351 L967.3 349.3 L969.6 347.8 L966.5 346 L969.4 344.5 L968.1 342.8 L970.6 342.6 L970.6 340.7 L971.8 339.5 L970.7 336.9 L974.2 337.3 L973.5 334.9Z"/>
<path d="M977.9 420.2 L979.5 419.6 L981.7 420.5 L983.3 419.8 L984 416.6 L986.4 418.1 L987.7 416.5 L989.8 417.7 L991.1 414.4 L993.2 415.1 L995.1 415.3 L994.6 417 L997.1 417.9 L994.9 420.1 L997.5 420.9 L997.1 422.6 L994.7 422.2 L993.1 423.9 L991 422.9 L991.2 420.6 L990.2 418.9 L988.2 418 L987.6 420.9 L986 421.2 L984.3 420.9 L982.8 421.4 L981 421.6 L979.1 422.2 L977.9 420.2Z"/>
<path d="M982.8 438.6 L983.7 436.9 L985.1 436.1 L987.7 437.9 L988.7 436.4 L990.4 436.4 L990.7 433.3 L992.6 433.7 L994.6 433.6 L994.8 430.6 L997.1 430.9 L998.8 430.2 L1000 428.8 L1001.6 429.6 L1002.5 431.2 L1000.6 432.2 L1001.1 434.2 L1000.4 435.7 L1000 437.4 L997.9 437.3 L998.5 440.5 L995.2 439 L994.8 441 L993.9 442.3 L992.4 443 L990.6 441.8 L989.4 444 L987.7 443.5 L988 440.7 L985.3 439.8 L982.8 438.6Z"/>
<path d="M308.6 293.7 L314.7 294.9 L316 301.1 L319.7 307.2 L322.1 301.1 L325.8 302.3 L327 314.6 L318.4 320 L312.3 313.3 L308.6 302.3Z" fill="none"/>
<path d="M119.5 344.5 L122.7 340.6 L126.8 341.1 L133 342.6 L140.4 345.5 L133.7 344.3 L128.1 343.1 L124.4 344.8 L123.9 349.7 L126.8 355.8 L125.4 355.3 L122.2 350.2Z"/>
</g>
<path class="st" d="M156.3 92.4 L157.6 92.7 L159 93 L159.7 94.4 L161.4 94 L162.2 95.4 L163.6 95.7 L165 95.7 L165.8 97.1 L167.4 96.9 L168.2 98.3 L169.4 98.8 L171 98.9 L172.1 99.6 L173 100.8 L173.8 102.2 L175.6 101.6 L176.7 102.4 L177.5 103.8 L178.4 105 L180 104.9 L180.2 106.6 L180.7 108.2 L180.4 109.6 L178.9 110.5 L180.2 112.4 L178.9 113.4 L177.7 114.4 L178.2 116.2 L177.9 117.6 L177.4 119 L176.1 120 L175.8 121.5 L174.2 122.4 L174.6 124.3 L173.4 125.3 L173 126.8 L172.7 128.3 L172.8 129.9 L174.4 130.1 L175.8 130.9 L177.4 131.2 L178.3 129.7 L179.6 128.9 L181 128.4 L182.6 128.2 L184.1 127.5 L185.2 126.1 L186.6 125.3 L186.6 123.9 L187.4 122.7 L187.5 121.3 L187.9 120 L188.2 118.3 L189.8 117.2 L189.9 115.4 L191.2 113.9 L191.8 112.1 L190.6 111.1 L190.4 109.4 L189.5 108.2 L190.1 106.9 L191.3 105.8 L191.6 104.4 L191.8 102.9 L191.5 101.5 L193 100.4 L191.4 98.9 L192.1 97.6 L192.9 96.4 L192.5 95 L191.3 93.9 L191.4 92.4 L190.1 91.4 L190.7 89.6 L189.9 88.4 L278.3 110.3 L293 114.3 L380 129.3 L422.7 136.2 L482.8 142.7 L528.2 145.9 L590.9 147.5 L623.6 147.5 L623.6 138.5 L629.7 139.3 L629.7 142 L630.3 144.6 L630.2 147.3 L631 149.9 L633.3 150.8 L635.3 152.3 L637.5 153.3 L639.8 154.4 L642 155.4 L644.2 156.5 L646.8 156.9 L649.5 157 L652.1 156.5 L654.8 156.7 L657.4 156.5 L659.7 156.9 L661.5 158.5 L663.6 159.3 L665.6 160.5 L667.8 161.2 L670 161.7 L670.5 162.2 L672.7 162.7 L674.8 163.6 L676.8 164.7 L679.2 164.8 L681.1 166.1 L683.3 165.6 L685.4 164.8 L687.6 164.3 L689.8 163.8 L692.2 164.2 L694.3 163.5 L696.7 163.6 L699 164.2 L701.2 164.9 L703.4 165.9 L705.9 165.5 L708.1 166.4 L710.4 167.1 L712.7 167.5 L724.6 154.3 L736.5 141.6 L764.1 145 L774.7 162.2 L789.2 161.7 L791.8 172.7 L797.1 185.9 L806.3 196.5 L808.7 197.1 L811.2 197.2 L813.6 197.4 L816.1 197 L818.6 197.3 L821.1 197.5 L823.5 197.8 L825.9 198.3 L828.3 198.4 L830.7 197.7 L833.1 197.8 L835.5 197.9 L837.9 198 L840.2 198.3 L842.6 198.5 L845 198.2 L847.4 198 L849.8 198.6 L852.2 198.6 L854.6 198.6 L857 198.9 L859.5 199.4 L861.9 199.2 L864.3 199.1 L865.8 200.8 L867.2 202.6 L868.7 204.3 L870.7 205.6 L871.6 207.9 L873.2 209.5 L874.9 211 L876.4 213 L878.2 214.7 L880.2 216.2 L882 217.9 L883.9 219.5 L885.4 221.5 L884 223.3 L883 225.3 L881.7 227.2 L880.3 229 L878.8 230.7 L876.5 230.7 L874.3 230.4 L872 230.4 L869.7 230.3 L867.5 230 L865.2 229.8 L863 229.4 L861.6 227.5 L860.4 225.5 L860.3 227.7 L859.5 229.8 L859.3 232.1 L859.3 234.3 L858.9 236.5 L858.5 238.7 L858.1 240.9 L858 243.1 L857.2 245.2 L856.8 247.4 L856.8 249.6 L856.4 251.8 L856.2 254 L856.2 256.2 L856 258.4 L855.6 260.6 L855.5 262.8 L855.1 265 L853.4 266.7 L852.1 268.8 L850.6 270.7 L848.6 272.2 L847.2 274.2 L846.3 276.6 L845.7 279 L844.6 281.3 L843.5 283.9 L842.4 286.6 L844 288.3 L845.1 290.3 L847 289.1 L849.1 288.2 L851 286.9 L852.8 285.7 L854.6 284.2 L856.5 283.1 L858.4 281.8 L860.4 280.8 L862.6 280.2 L864.8 279.3 L867 278.7 L869.1 277.6 L871.3 276.8 L873.6 276.4 L875.8 275.7 L878 274.9 L880.2 274.1 L882.4 273.3 L884.6 272.5 L886.7 271.6 L888.9 270.9 L891.1 270.6 L893.3 270 L895.4 269.3 L897.6 268.8 L899.9 268.5 L902.1 268 L904.3 267.7 L906.5 267.1 L905.7 265 L904.2 263.3 L905.4 259.7 L903.2 259.8 L901 259.3 L898.8 259.2 L896.6 259.2 L894.4 259.7 L892.5 258.6 L890.7 257.2 L891.7 254 L893.2 251.1 L894.6 249.2 L896.3 247.6 L898.1 246.1 L900.2 244.8 L902.7 244.2 L905 243.4 L907.2 242.3 L909.3 241 L911.6 240 L913.9 239.1 L916.2 238.2 L918.2 236.6 L920.7 236.1 L923 235.3 L925.1 233.9 L927.2 233.2 L929.2 232.3 L931.1 231.1 L933 229.9 L935.2 229.5 L937 228.2 L939.2 227.7 L941.1 226.5 L943.5 225.4 L945.3 223.4 L947.4 221.8 L949.6 220.4 L951.4 219 L952.7 217.2 L953.7 215.1 L955.1 213.4 L956.6 211.8 L958.6 210.6 L960 208.8 L961 206.7 L962.9 205.5 L964.5 203.9 L965.6 201.9 L990.2 197 L1019.7 189.6 L1020.3 187.2 L1020.4 184.7 L1020.9 182.3 L1023.4 181.5 L1025.8 180.6 L1027.4 178.1 L1029.5 176.1 L1029.6 173.5 L1031.2 171.3 L1031.4 168.8 L1031.9 166.3 L1032.6 163.9 L1033.6 161.5 L1033.7 158.9 L1034.4 156.5 L1034.8 154.1 L1034.7 151.6 L1034.1 149.1 L1034.4 146.7 L1034.8 144.2 L1035.4 141.7 L1036 139.2 L1037 136.9 L1037.2 134.3 L1038.1 131.9 L1038.9 129.5 L1039.6 127.1 L1041.3 125.1 L1041.8 122.6 L1044.2 125.8 L1046.6 125.1 L1049.1 124.6 L1051.1 123.1 L1053.3 121.7 L1055.3 120.1 L1058.1 121 L1061 121 L1063.9 121.6 L1065.4 124.5 L1067.5 127 L1068.2 129.3 L1068.9 131.5 L1069.6 133.8 L1070.8 135.9 L1071.1 138.2 L1072.1 140.4 L1073 142.6 L1072.9 145.1 L1074.3 147.2 L1074.7 149.5 L1075.2 151.8 L1076.1 154 L1078.6 155.9 L1081.1 157.7 L1081.9 160.1 L1082.3 162.6 L1084.8 163.8 L1087.2 165.1 L1089.7 166.3 L1091.1 168.1 L1093.2 169.3 L1094.6 171.2 L1093.4 172.6 L1093.8 174.9 L1092.7 176.4 L1090.9 177.4 L1088.8 177.7 L1088.4 179.8 L1087 180.9 L1086 182.3 L1083.9 182.6 L1082.1 183.3 L1082.5 186.2 L1080.7 186.8 L1079.8 188.4 L1078.9 189.9 L1077.9 191.5 L1076.2 192.6 L1076.1 194.6 L1074.7 195.5 L1073.1 195.9 L1071.8 196.9 L1069.3 195.6 L1068.8 198.2 L1066.9 198.8 L1065.1 199.4 L1063.6 200.5 L1063.9 203.2 L1063.1 205.1 L1060.8 204.9 L1058.3 204.4 L1057.1 205.8 L1056.5 208.1 L1056.5 210.6 L1055.3 211.8 L1053 212 L1051.6 213 L1053 215.1 L1051.8 216.4 L1052 218.1 L1048.8 218.7 L1049.1 220.4 L1047.3 221.4 L1046.3 222.7 L1049.2 225.3 L1046.2 225.9 L1046.7 227.7 L1044.9 228.4 L1045.4 231.4 L1043 231.4 L1043 234 L1044.2 236.3 L1045.5 238.7 L1047.9 240 L1047.1 243.2 L1045.4 246.1 L1046 248.5 L1048 250.1 L1049.1 252.3 L1050.7 253.9 L1051.8 256.1 L1054 257.2 L1056.2 258.9 L1058.9 259.7 L1061.2 258 L1063.9 257.2 L1063.1 254.2 L1062.6 251.1 L1064.4 252.3 L1066.3 253.5 L1067.2 256.6 L1067.5 259.7 L1065.7 261.3 L1063.6 262.4 L1061.4 263.3 L1058.8 264.2 L1056.8 266.5 L1054 267 L1050.9 268.2 L1047.9 269.5 L1045.5 270.8 L1043 271.9 L1040.5 269.5 L1039.3 272.4 L1036.8 274.4 L1034.5 275.8 L1031.9 276.8 L1029.8 277.7 L1027.8 278.8 L1026.1 280.5 L1023.4 280.2 L1021.5 281.6 L1019.7 283 L1017.3 283.6 L1016.1 286 L1014 287 L1012.2 288.5 L1009.8 289.1 L1007.9 290.7 L1007 293 L1005.7 295 L1003.7 296.5 L1002.6 299.6 L1001.2 302.6 L1003.7 302.3 L1003.6 304.9 L1004.2 307.3 L1005.5 309.6 L1006.1 312 L1006.1 314.6 L1005.2 317 L1005.4 319.5 L1004.9 321.9 L1004.9 324.4 L1004.6 326.7 L1003.8 328.7 L1002.2 330.5 L1001.7 332.6 L1001.4 334.9 L1000 336.7 L998.2 338.4 L997.4 340.7 L996.3 342.8 L994.7 340.7 L992.6 339.1 L989.4 339.1 L986.5 337.9 L984.6 335.7 L982.1 334.2 L984 336.2 L984.5 339.1 L986.4 341.1 L987.7 343.5 L989.9 345.1 L991.8 347.2 L993.9 348.9 L993.7 351.5 L995 353.8 L995.1 356.3 L995.4 358.8 L994.6 361.2 L994.7 363.7 L994.7 366.2 L993.9 368.6 L993.4 371.2 L992.6 373.7 L991.5 376.1 L990.2 378.4 L990 380.9 L989.5 383.4 L988.3 385.7 L988.5 388.3 L987.7 390.7 L987.4 393.4 L987.2 396.1 L988.7 398.2 L989.5 400.6 L990.2 403 L992.2 405.1 L993.1 407.7 L993.9 410.4 L995.9 412.4 L995.9 415.5 L997.5 417.7 L999.1 419.8 L1001.3 421.5 L1002.5 423.9 L1002.9 426.3 L1002.5 428.9 L1003.7 431.2 L1003.1 433.6 L1000.7 435 L1000 437.4 L998.1 439.5 L995.9 441.5 L993.9 443.5 L991.9 445 L990.9 447.3 L989.2 449 L987.7 450.9 L985.1 451.5 L982.5 451.9 L980.5 453.9 L977.9 454.6 L975.6 455.3 L973.6 456.7 L971.8 458.2 L970.3 459.9 L969.4 462 L968.3 463.9 L966.8 465.6 L967 468.2 L966.2 470.7 L965.8 473.1 L964.4 475.4 L961.2 475.6 L958.2 476.7 L956.4 478.3 L954.4 479.7 L952.1 480.4 L950.6 483 L947.6 484 L946 486.5 L944.2 488.7 L943.3 491.3 L942.3 493.9 L942.2 496 L940.5 497.2 L940.2 499 L939 500 L937.4 500.5 L937.2 502.5 L935.3 502.7 L934.8 504.4 L931.6 503.4 L931.9 505.8 L929.4 505.4 L929.3 507.8 L928.9 509.8 L925.7 508.6 L926.3 511.8 L924.9 512.7 L924.7 514.9 L922.1 514.4 L921.2 516 L919.7 516.9 L918.4 518.1 L918.1 520.2 L915.9 520.6 L914.7 521.8 L916.1 524.2 L914.4 525.4 L914.5 527.3 L912.7 528.5 L913.5 530.6 L911.1 531.6 L912.8 533.5 L911.3 534.8 L911.3 536.4 L909.5 537.7 L909.4 539.3 L908.2 540.6 L908.3 542.2 L908.6 543.9 L907.5 545.3 L906.6 546.7 L908.4 548.5 L908.5 550.1 L905.5 551.2 L908.8 553.3 L906.2 554.4 L906.9 556.1 L906.4 557.8 L909 559.3 L905.7 561.1 L905.6 562.8 L906.8 564.4 L907.4 566 L907.1 568 L907.4 569.7 L910.7 570.4 L909.8 572.6 L910.5 574.2 L911.1 575.8 L911.4 578.2 L912.3 580.5 L913.1 582.7 L914.2 584.8 L914.6 587.3 L916 589.3 L917.1 591.5 L918.5 593.5 L920.5 595.1 L922.1 596.9 L923.4 599 L924.4 601.2 L926.1 602.9 L927 605.3 L928.5 607.5 L930.6 609 L932.4 610.9 L934.4 612.6 L935.1 614.8 L936 617 L937.2 619 L938.8 620.9 L938.6 623.5 L939.6 625.7 L940.9 627.7 L941.8 629.8 L942.7 632 L943.4 634.2 L945.2 636 L945.1 638.5 L946.7 640.4 L947.9 642.4 L948.5 644.7 L949.1 647 L949.4 649.6 L950.8 651.8 L950.6 654.5 L950.8 657.1 L952.2 659.3 L952.8 661.8 L953 664.2 L952.8 666.7 L952.5 669.1 L952.4 671.6 L952.6 674 L952.8 676.5 L951.7 678.9 L951.6 681.6 L950.6 684 L949.1 686.3 L946.9 688.3 L944 689.2 L941.8 691.2 L938.6 690.9 L935.6 690 L934.5 687.9 L932.5 686.3 L931.9 683.9 L930.1 682.4 L929.1 680.4 L928.5 678.2 L927 676.5 L924 676.2 L920.9 676.5 L919.3 673.9 L917.2 671.6 L915.7 669.6 L914.8 667.3 L913.5 665.2 L912.3 663 L909.8 662.5 L907.4 661.8 L906 659.5 L906.3 656.7 L904.9 654.4 L902.6 653.1 L901.3 650.5 L898.8 649.5 L898.2 646.7 L895.7 644.9 L895.1 642.2 L893.9 639.7 L893.7 637.1 L893.1 634.6 L891.6 632.3 L890.6 630 L890.2 627.4 L889.5 625 L890.4 622.4 L889 620.1 L889.3 617.5 L888.9 615.1 L887.7 612.8 L887.7 610.2 L887.8 607.6 L886.5 605.3 L883.8 604.6 L881.6 602.8 L880.4 600.6 L878.5 599.1 L877.4 596.9 L875.4 595.4 L873.8 593.3 L871.4 592.1 L870.4 589.5 L868.1 588.1 L865.6 587.2 L862.9 587 L860.4 586.1 L858.2 584.4 L855.2 585.6 L852.1 586.8 L850.5 588.5 L849.1 590.4 L847.2 591.8 L845.4 593.8 L843 595.1 L840.9 596.6 L838.6 597.9 L836.3 596.6 L833.4 597 L831.2 595.4 L830 593.3 L828.6 591.4 L826.2 590.3 L825.1 588.1 L822.9 586.3 L820.3 585.3 L817.7 584.4 L815.8 582.9 L813.3 582.9 L811.2 581.8 L809.1 580.7 L806.7 581.1 L804.1 580.4 L801.7 581.3 L799.3 581.9 L796.8 581.9 L794.4 582.8 L792 583.7 L789.7 584.8 L787.2 585.5 L784.6 585.6 L781.4 585.7 L778.4 586.8 L776.9 584.9 L776.5 582.4 L774.7 580.7 L773.9 583.3 L772.3 585.6 L772.6 588.1 L771.1 589.2 L769.5 588.1 L768 589.5 L766.5 588.1 L765 588.8 L763.1 586.4 L761.6 586.9 L760 587.4 L758.5 588.4 L756.8 587.3 L755.4 589.3 L753.1 588.1 L752.1 590.3 L750.2 590.2 L749.6 593.7 L746.9 591.4 L745.6 593 L744.5 594.2 L742.4 594.1 L741.5 595.4 L741.3 597.7 L739.5 597.9 L742.1 598.6 L739.4 602 L741.9 602.8 L744.2 603 L743.8 605.2 L745.2 606.1 L745.6 607.7 L747.5 607.8 L747.8 610.4 L748.7 612.2 L751.8 610.3 L752.2 612.7 L754.5 612.3 L755.4 613.9 L755.8 615.8 L756.7 617.5 L755.4 618.8 L754.4 620.6 L752.8 621.6 L750.5 621.2 L748.4 621.2 L749.2 617.8 L746.8 618.2 L744.8 618.1 L745.6 614.7 L743.2 615.1 L742.4 612.5 L740.2 614.3 L738.2 615.1 L736.8 614.4 L735.8 612.6 L735.9 615.1 L733.9 615.6 L733.4 617.6 L730.9 617.5 L729.4 618.9 L727.8 619 L726 617.8 L724.1 616.6 L722.6 617.5 L721.1 618.8 L719.6 620 L717.9 620.7 L716.1 621.2 L714.7 620.1 L712.9 619.7 L711.3 618.9 L709.2 618.9 L708.8 616.3 L706.9 616.1 L707.7 612.6 L704 614.5 L703.9 612.2 L703 610.8 L701.4 610.2 L700.4 608.2 L698 610.4 L696.6 609.7 L695.1 609.3 L694 607.7 L691.9 606.9 L690.4 605.3 L687.5 605.8 L684.6 605.4 L681.8 606.5 L679.3 606.2 L676.8 606.5 L674.5 608.2 L671.9 607.7 L669.4 608.2 L667.1 606.9 L664.6 606.3 L662.1 606.8 L659.7 606.5 L657.2 607.1 L655 608.7 L652.4 608.9 L649.7 608.8 L647.4 610.2 L645.2 610.7 L643.2 611.7 L641.1 612.5 L639.7 614.5 L637.5 615.1 L635.8 613.6 L634.6 611.7 L633.9 609.5 L632.6 607.7 L631.9 610.1 L631.1 612.5 L631.4 615.1 L632.6 617.5 L630.5 619.1 L628.8 621 L626.8 622.8 L625.3 624.9 L623.4 626.2 L621.3 627.3 L619.8 629.2 L617.1 629.5 L615.4 631.1 L613.7 632.7 L611.1 633 L609.4 634.6 L607.7 636.2 L605.6 637.2 L604 638.9 L601.9 640 L599.6 640.7 L597.6 641.8 L595.8 643.3 L594.5 645.5 L592.8 647.2 L590.6 648.4 L588.8 650.1 L587.2 651.9 L586.4 654 L585.6 656.1 L584.1 657.8 L584 660.2 L582.3 661.8 L582.1 664.3 L581.4 666.7 L580.1 669 L580.1 671.5 L579.8 674 L579.4 676.5 L580.4 678.9 L581 681.3 L581.2 683.8 L581.1 686.3 L581.3 689 L582.6 691.3 L584.1 693.5 L584.7 696.1 L583.5 696.1 L581 696.3 L578.6 695.5 L576.2 695 L573.7 695 L571.2 694.8 L568.8 694.1 L566.4 693.6 L563.9 693.7 L561.7 693.1 L559.5 692.4 L557.5 691.2 L555.4 690.2 L553.4 689.1 L551.1 688.7 L549.1 687.5 L548.1 685.5 L546.9 683.7 L545.5 682 L544 680.3 L543.4 678.1 L541.8 676.5 L540.7 674.3 L540.3 671.8 L538.9 669.7 L538 667.5 L537.6 665 L536.3 662.9 L535.6 660.5 L534.4 658.3 L532.5 656.6 L530.6 654.9 L529.1 653 L527.7 650.9 L526.3 648.8 L524.6 647 L523.8 644.7 L521.8 643 L520.8 640.8 L519.4 638.7 L518.9 636.3 L516.9 634.6 L516 632.3 L514.7 630.2 L513.8 627.9 L513.2 625.5 L512.8 623 L511.9 620.7 L510.9 618.5 L509.8 616.3 L508.1 614.4 L506.1 613 L503.8 612 L501.8 610.6 L500 608.9 L498.2 607.4 L496.1 606.4 L493.7 605.8 L492 604.1 L489.9 603.2 L487.9 601.9 L485.4 602 L483 602 L480.5 602.1 L478.1 601.7 L476.1 602.9 L473.9 603.3 L471.8 603.9 L469.5 604 L467.5 605.1 L467.3 607.3 L466 609.3 L466.1 611.6 L465.3 613.7 L464 616.3 L462.4 618.8 L459.9 617.8 L457.2 617.4 L455.5 615.8 L453.3 614.9 L451.2 613.9 L449.5 612.2 L447.5 611 L445.9 609.3 L443.7 608.3 L441.9 607 L440.3 605.3 L439.1 603.3 L436.8 602.4 L435.5 600.5 L433.9 598.9 L433.6 596.4 L432.9 593.9 L431.6 591.7 L431.4 589.1 L429.8 587.3 L428.6 585.2 L428.1 582.7 L426.3 581 L425.4 578.7 L424 576.8 L422.8 574.8 L420.8 573.5 L419.3 571.9 L418.2 569.7 L416.5 568.3 L414.7 566.8 L413.5 564.8 L411.8 563.3 L410 561.6 L408.3 559.8 L406.5 558.1 L405.4 555.8 L403.9 553.9 L401.9 552.3 L400.8 550.3 L399.8 548.1 L397.8 546.7 L396.8 544.6 L395.8 542.5 L363.9 544.4 L363.9 553.5 L345.4 551.1 L291.4 537.5 L243.5 509.3 L236.1 503.2 L205.4 495.8 L189.5 493.9 L189.2 491.4 L189.5 488.9 L189.3 486.5 L188.3 484.1 L188.2 481.6 L187 479.3 L186.3 476.7 L185.5 474.3 L184.6 471.8 L183.8 469.4 L181.8 467.7 L181.2 465.2 L179.6 463.2 L177.7 461.7 L175.7 460.4 L173.5 459.5 L173 457.3 L172 455.3 L171.1 453.3 L168.5 452.3 L166.1 451.1 L163.7 449.7 L161.5 447.8 L159.8 445.3 L157.5 443.5 L155.1 442.4 L153 440.7 L151.2 438.7 L148.9 437.4 L146.3 436.8 L143.8 436 L141.4 435.1 L139.1 433.7 L137.3 431.8 L135.4 430 L135.5 427.5 L136.5 425.1 L136.6 422.7 L137 420.2 L136.7 417.7 L135.8 415.3 L135 412.9 L134.4 410.5 L134.2 407.9 L133 405.5 L132 402.9 L130.5 400.6 L129.3 398.1 L128 396.3 L127.3 394.2 L126.5 392.1 L125.6 390.1 L124.4 388.2 L124.1 385.7 L123.6 383.2 L122.7 380.8 L121.9 378.4 L122.1 375.8 L123.5 373.6 L123.5 371 L124.4 368.6 L123.2 366.1 L121.8 363.8 L121 361.1 L119.5 358.8 L118.8 356.4 L118.5 353.9 L118.2 351.4 L118.2 348.9 L119.1 345.7 L120.7 342.8 L119 340.4 L116.7 338.7 L114.6 336.7 L113.5 334.3 L112.6 331.8 L112.4 329.1 L110.9 326.8 L110.2 324.4 L109.1 322 L109 319.4 L108.1 317 L107.2 314.6 L107.8 312.1 L106.7 309.7 L107.2 307.2 L107.6 304.8 L107.2 302.3 L108.1 299.9 L108.6 297.5 L108.1 294.8 L108.9 292.4 L109.6 290 L107.6 288.1 L106.4 285.6 L105.7 283 L106.3 280.3 L105.4 277.7 L105 275.1 L106.8 273.5 L107.5 271.2 L109.3 269.7 L110.3 267.5 L111.4 265.5 L113.2 264 L114.3 261.9 L115.3 259.7 L114.8 257.1 L115.9 254.9 L116.4 252.6 L116.5 250.1 L117.1 247.8 L117.4 245.4 L118 243.1 L118.8 240.8 L118.7 238.5 L119.2 236.2 L119.5 233.9 L119.1 231.6 L119 229.3 L119.6 227 L120.2 224.7 L120.1 222.4 L121 220 L122.4 217.9 L123.5 215.6 L125.3 213.8 L126.3 211.4 L127.5 209.2 L128.7 206.9 L130.4 204.9 L132.3 203.2 L134 201.3 L134.9 199 L135.8 196.7 L136 194.2 L136.9 191.9 L138.3 189.8 L138.8 187.4 L139.5 185 L140.6 182.8 L141.2 180.6 L142.7 178.7 L142.7 176.3 L143.8 174.2 L144.3 172 L145.1 169.8 L146.4 167.9 L147.3 165.8 L147.4 163.4 L148 161.1 L149.1 159.1 L150.7 157.6 L151.7 155.5 L152.9 153.6 L155.2 152.6 L156.2 150.5 L158 149.1 L159.1 147.2 L157.8 146.7 L157 145.2 L155.4 145.3 L153.8 145.3 L152.4 144.9 L151.7 143.3 L152.1 142 L152.5 140.7 L153.3 139.5 L151.8 137.9 L153.2 136.8 L152.9 135.3 L153.4 134.1 L152.9 132.6 L153.4 131.4 L154.2 130.1 L155.3 129 L154.6 127.5 L154.1 125.2 L154.4 122.8 L154.6 120.5 L154.7 118.1 L153.8 115.8 L153.6 113.5 L154.3 111.1 L154.3 108.8 L153.7 106.5 L153.2 104.1 L153.9 101.8 L153.3 99.4 L153.3 97.1 L155.2 95 L156.5 92.4ZM1000.7 303.3 L1002.5 301.5 L1004 299.4 L1005.2 297.1 L1006.7 295 L1008.7 293.6 L1010.7 292.4 L1012.5 290.7 L1014.5 289.4 L1016.7 288.3 L1018.6 287 L1020.8 286.5 L1022.6 285.2 L1024.7 284.4 L1026.7 283.3 L1029.2 282.8 L1031.7 282.5 L1034.1 281.8 L1036.7 281.7 L1039.3 283.3 L1037.5 284.8 L1035.1 285.1 L1033.3 286.7 L1035.8 287.4 L1038.3 288.3 L1036.6 289.8 L1034.4 290.4 L1032.4 291.4 L1030.7 293.1 L1028.6 293.8 L1026.7 295 L1024.8 296.1 L1022.7 297 L1020.9 298.4 L1018.9 299.4 L1016.7 300 L1014 300.5 L1011.6 301.7 L1009.2 303 L1006.7 304 L1003.7 303.6 L1000.7 303.3ZM1054 269.5 L1057.7 267.5 L1060.9 268 L1058.5 270.5 L1054.5 271.2ZM1063.4 267.5 L1067.5 267 L1069.3 269.5 L1065.8 270Z"/>
<g clip-path="url(#ak)">
<path d="M297.7 589.3 L300 590.7 L302.8 591 L305.1 592.3 L304.5 594.8 L303.9 597.2 L306.8 596.8 L309.7 596.7 L312.5 596 L314.1 598 L316 599.8 L318.1 601.3 L319.8 603.3 L322.3 603.3 L324.7 603.3 L327.1 604.3 L329.6 604.2 L332.1 604.5 L334.6 604 L337 604.6 L339.5 604.3 L342 604.4 L344.4 603.9 L346.8 603.1 L349.3 603.3 L351.8 603.7 L354.1 604.6 L356.7 604.2 L359.2 604.6 L361.6 605.1 L364 605.8 L366.5 605.6 L369 605.4 L371.4 604.1 L373.9 604.1 L376.3 604.7 L378.4 605.8 L380.6 606.8 L382.7 608 L384.9 609 L413.2 755.6 L415.4 754.5 L417.7 753.9 L419.9 753 L422.5 752.9 L424.6 751.7 L428.9 752.3 L428.9 755.4 L430.7 757.2 L433.1 758.4 L434.5 760.8 L436.8 762.1 L439.2 763.1 L441.2 764.8 L443 766.6 L445.4 767.6 L447.3 768.9 L449 767.2 L450.4 765.3 L451.6 763.3 L452.1 760.2 L452.8 757.2 L454.4 755.3 L456.6 754 L458.3 752.3 L461.3 753.5 L463.9 755.4 L465.7 756.8 L467.2 758.6 L468.8 760.3 L470.9 761.5 L472.5 763.3 L474.1 765.1 L476.1 766.4 L477.8 768.1 L479.8 769.5 L481.6 771.1 L483.5 772.5 L485.4 774.2 L487.4 775.6 L489 777.7 L490.9 779.3 L492.8 781.1 L494.4 783.2 L496.1 785.1 L498.2 786.7 L500.1 788.8 L501.9 791 L504.8 791.5 L507.6 792 L510.5 792.2 L513 792.6 L515.4 792.8 L517.8 793.8 L520.3 794 L521.2 796.6 L522.8 798.9 L523.2 801.1 L523.9 803.3 L524.3 805.4 L525.3 807.5 L524.5 809.6 L523.9 811.8 L523.5 814 L522.8 816.1 L520.8 816.1 L519.8 813.9 L517.9 813.7 L517.1 816.5 L514.2 816.1 L512.5 815.9 L511.6 813.6 L510 813.3 L508.1 813.7 L508 815.4 L510.2 816.3 L509.9 818 L510.2 819.6 L510.5 821.1 L508.9 821.5 L508.3 823.3 L506.3 823.1 L505.6 824.7 L505.6 822.1 L502.2 824.1 L502.4 821.4 L500.7 821.1 L500.4 818.9 L497.9 819 L497 817.4 L495.8 816.1 L496.7 813.4 L492 814.4 L493 811.6 L490.5 811.2 L490.9 808.8 L489.9 806.8 L488.6 805.2 L486 806.3 L484.4 806.2 L482.7 808.2 L481.1 806.3 L480.6 804.5 L479.6 802.9 L478.6 801.4 L477.4 799.6 L475.4 799.7 L473.7 798.9 L472.9 797.5 L472.2 795.8 L470.1 796.1 L468.8 795.3 L467.5 794 L468.8 791.1 L464.8 791.4 L465.1 789.1 L464.5 787.2 L462.3 787 L462.3 784.5 L458.9 785.5 L458.9 783 L459.1 780.2 L456 781.7 L453.9 781.9 L454 779.3 L452.1 779.2 L451.3 777.8 L448.9 778.4 L449.1 775.6 L446.6 774.5 L444.2 773.2 L442.3 772 L440.6 770.5 L438.6 769.6 L436.8 768.2 L434.3 767.9 L431.8 767.3 L429.5 766.1 L427 765.8 L426.2 763.7 L424.6 762.1 L420.9 763.3 L418 762.9 L415.1 762.8 L412.3 762.1 L411.3 760 L409.8 758.4 L407.4 759.2 L405 760 L402.6 760.7 L400 760.9 L398 759.6 L396.1 759.6 L394.4 760.7 L392.6 761.6 L391.3 762.4 L389.7 762.7 L388.4 763.7 L386.3 763.3 L388.8 759.8 L385.2 760.4 L385.7 758.2 L384.2 757.4 L381.7 756.2 L380 758.4 L379.4 756.1 L377 756.9 L375 756.8 L374.2 754.8 L372.6 754.2 L370 754.7 L371.1 750.7 L368.2 751.7 L367.4 750 L366.2 747.9 L364 750.7 L362.6 749.8 L361.1 748.9 L361 750.9 L359.2 751.3 L359.1 753.3 L356.8 753.2 L358.9 755.9 L355.8 757.4 L354.9 759.2 L357.5 760.4 L357.9 761.9 L356.8 763.7 L356.6 765.7 L354.8 766.6 L353.7 767.9 L352 768.6 L350 767.8 L348.4 768.9 L348.3 770.7 L350.5 771.4 L350.5 773.2 L348.3 771.3 L346.7 772 L345.3 774.2 L346.1 777 L341.8 775.9 L342.1 778.4 L340.1 776.5 L338.7 777.4 L337.7 781.1 L335.8 779.5 L333.3 779.1 L332.6 781 L331.6 782.6 L330 785.2 L328.4 782.6 L328.7 780.3 L330.4 778.6 L330.9 776.4 L331.6 774.2 L330.7 772.2 L329.8 770.1 L329.5 767.9 L330.6 765.3 L332.1 762.8 L333.7 760.5 L335.9 760 L337.8 758.8 L339.9 757.8 L342.1 757.4 L343.9 755.1 L345.2 752.6 L346.3 750 L344.9 747.7 L344.2 745.2 L341.9 745.8 L340 747 L337.8 747.7 L335.8 748.9 L334 750.5 L332.2 752 L330.6 753.8 L328.8 755.5 L327.4 757.4 L326.3 759.7 L324.4 761.5 L323.2 763.7 L323 766.4 L322.8 769.1 L320.7 771.7 L319.2 774.6 L318.1 776.7 L316.4 778.4 L315.7 780.7 L314.6 782.8 L315.8 785.4 L316.4 788.2 L315.4 790.7 L313.7 792.8 L312.3 795 L310.1 796.4 L308.3 797.9 L306.8 799.9 L304.6 800.9 L302.3 802.1 L300.3 803.6 L297.8 804.4 L295.5 805.5 L293.3 806 L291.1 806.4 L288.8 806.3 L286.8 807.5 L286.8 809.9 L284.4 811.4 L284.2 813.7 L283.3 815.9 L282.1 818 L281.2 820.2 L279.8 822.8 L277.3 824 L274.8 825.2 L272.8 827.2 L271.2 828.9 L269.4 830.3 L267.5 831.6 L264.4 832.6 L262.3 835.1 L260.3 836.8 L257.5 836.6 L255.3 837.7 L252.6 834.7 L253.5 831.2 L255.3 829.2 L256.7 826.9 L258.8 825.1 L261.2 824 L263.5 822.9 L265.8 821.6 L268.5 821.6 L271 820.8 L273.7 820.9 L276.3 820.2 L277.5 817.4 L278.6 814.6 L279.3 812 L280.3 809.4 L280.7 806.7 L280.8 804 L282 801.6 L282.4 799 L282.8 796.4 L284 794.5 L285.8 793 L286.7 790.8 L288.2 789.1 L284.6 789.1 L282.2 789.7 L279.7 790.3 L277.3 790.9 L276.2 788.1 L274.6 785.5 L274 788 L272.9 790.4 L271.9 792.8 L269.1 793.7 L268.1 791.3 L267.4 788.8 L266.4 786.4 L264.1 785.2 L261.5 784.8 L259.1 783.7 L257.1 784.8 L255.6 786.5 L253.7 787.7 L251.9 789.1 L249.1 788.4 L246.4 787.3 L246.7 784.9 L247.5 782.5 L247.3 780 L248 777.6 L248.8 775.3 L249.1 772.8 L247.5 770.5 L245.9 768 L244.6 765.5 L242.2 766.3 L239.7 766.6 L237.3 767.3 L234.1 766.7 L230.9 766.4 L230.7 763.6 L230 760.9 L228.1 759.6 L227.2 757.5 L225.8 755.7 L224 754.4 L223.7 751.9 L222.7 749.6 L222.8 747 L221.8 744.6 L220.6 742.3 L220.4 739.7 L220.6 737.1 L222.1 734.9 L222.3 732.3 L222.8 729.8 L224.5 728.1 L226.1 726.4 L227.8 724.6 L228.9 722.5 L230.5 720.9 L232 719.2 L233.5 717.4 L235 715.8 L236.3 713.9 L238.7 714.4 L241.2 714.9 L243.7 715.1 L245.4 713.6 L247.5 712.8 L249.2 711.4 L251.1 710.2 L251.7 707.8 L251.2 705.2 L251.6 702.8 L252.3 700.4 L255.1 698.6 L258.4 697.9 L260.6 696.9 L262.8 695.9 L264.6 694.2 L264.1 691.7 L263.3 689.3 L260.9 690.3 L258.3 690.6 L256 691.8 L253.3 693.3 L251.1 695.4 L248.7 694.5 L246.1 694.1 L243.7 693 L241.4 692.6 L239.2 691.9 L236.9 691.4 L234.7 690.6 L232.5 689.8 L230.2 689.3 L229.4 687 L227.3 685.5 L226.5 683.2 L227.4 681.2 L227.6 678.9 L228.9 677 L226.6 676.2 L225 674.2 L222.8 673.3 L221 670.8 L219.1 668.4 L221.4 668 L223.3 666.6 L225.2 665.2 L227.5 664.8 L229.7 664.1 L232 663.7 L233.9 662.3 L236.4 662.7 L238.8 661.9 L241.2 661.6 L243.7 661 L246.2 661.5 L248.6 661.1 L248.6 664.7 L251.3 666.3 L253.5 668.4 L256 668.4 L258.5 668.6 L260.9 669.6 L263.1 667.9 L265.8 667.2 L264.1 665.2 L262.1 663.5 L260.5 661.2 L260.1 658.3 L258.4 656.1 L255.2 655.4 L252.3 653.7 L251.5 651 L249.4 649 L248.6 646.3 L246.9 644.8 L246.4 642.5 L244.7 640.9 L243.7 638.9 L242.4 636.6 L240.3 634.9 L238.6 632.8 L237.5 630.4 L239 628.1 L240.2 625.6 L241.2 623 L243.7 622.9 L246.2 622.3 L248.5 621 L251.1 621.2 L253.5 620.5 L255.2 618.9 L256.4 617 L258.3 615.7 L259.2 613.4 L260.9 611.9 L262.8 610.5 L264 608.6 L264.8 606.4 L266.3 604.6 L268.2 603.3 L270.7 602.9 L273.2 602.5 L275.5 601 L278.1 600.9 L280 599.7 L282.3 599.1 L284.1 597.4 L286.5 597.2 L288.3 595.7 L290.4 594.7 L291.9 592.9 L294 591.9 L295.9 590.7 L297.7 589.3ZM186 694.2 L189.6 693 L194.6 697.9 L199.5 699.1 L206.8 705.3 L205.6 708.9 L198.2 707.7 L193.3 701.6 L187.2 700.4ZM205.6 756.4 L215.4 754.4 L220.4 759.3 L217.9 764.2 L211.8 763.7 L206.8 760.5ZM210.5 848.8 L214 844.4 L220.2 842.6 L225.4 843.5 L226.3 847 L220.2 849.6 L214 851.4ZM234.2 840.9 L237.7 835.6 L243 832.1 L250 831.2 L253.5 833.9 L250.9 837.4 L245.6 839.1 L241.2 842.6 L236 844.4ZM315.8 803.7 L316.2 801.9 L317.6 800.6 L316.5 798.2 L319.3 797.4 L318.9 795.3 L320.3 794.1 L322.3 794.2 L323.9 793.3 L325.3 792.1 L326.6 793.2 L327.7 794.5 L327.6 796.7 L329.5 797.4 L327.3 798.2 L327 800.1 L326.9 802 L326.3 803.7 L327.3 805.1 L328.4 806.6 L325.4 808.7 L327.4 810 L325.7 810.2 L324.2 810.7 L324 813 L322.1 813 L321.1 814.2 L318.6 813.9 L317.5 815.4 L316.8 817.4 L316.7 815.8 L315.3 814.6 L315.3 813 L316.5 811.1 L314.7 810 L314.5 808.3 L315.9 807 L315.9 805.3 L315.8 803.7ZM304.2 826.8 L308.4 823.7 L312.6 822.6 L309.5 826.4ZM313.2 805.8 L318.4 799.6 L323.7 792.6 L328.9 795.3 L327.2 802.3 L325.4 809.3 L320.2 814.6 L316.7 816.3ZM188.6 856.7 L191.2 854.9 L193.9 857.5 L193 860.2 L189.5 860.5ZM174.6 860.2 L178.1 858.8 L180.7 861.1 L178.9 862.8 L175.4 862.8ZM168.9 864.6 L171.9 862.8 L173.7 864.6 L171.1 867.2 L169.3 866.8ZM181.6 861.9 L186 860.7 L187.7 862.3 L185.1 864.6 L181.9 864ZM199.1 853.2 L201.8 852.3 L202.6 854.6 L200 855.3ZM304.4 826.8 L307.9 824.2 L311.4 822.5 L310.5 825.1 L307 827.2ZM88 861.6 L92.1 860 L100.2 863.3 L96.2 864.9 L89 864.1ZM114.6 862 L117.6 861.2 L119.1 863.3 L116.2 864.3ZM130.9 866.7 L134 866.5 L134.2 868.2 L131.3 868.4Z" fill="#fff"/>
<path d="M255 791 L360 752 L360 880 L255 880Z" fill="#E7B267"/>
<path d="M84 857 L240 804 L277.3 791.3 L310.1 780 L318 777.5 L322 790 L336 790 L336 880 L84 880Z" fill="#E38B49"/>
<path d="M265.8 663.5 C267.9 663.2 273.6 661.7 278.1 661.5 C282.6 661.3 288.5 661.8 292.8 662.3 C297.1 662.8 300.6 662.9 303.9 664.7 C307.2 666.5 310.5 669.8 312.5 673.3 C314.5 676.8 315.7 680.7 316.1 685.6 C316.5 690.5 316.3 697.5 314.9 702.8 C313.5 708.1 311.2 712.6 307.5 717.5 C303.8 722.4 298.5 727.8 292.8 732.3 C287.1 736.8 280.1 740.9 273.2 744.6 C266.2 748.3 258.3 751.6 251.1 754.4 C243.9 757.2 233.7 760.1 230.2 761.3 L182.3 761.3 L182.3 672.8 L222.8 672.8 L233.9 669.6 L248.6 667.2 L262.1 664.7Z" fill="#BFCBE4"/>
<path d="M186 694.2 L189.6 693 L194.6 697.9 L199.5 699.1 L206.8 705.3 L205.6 708.9 L198.2 707.7 L193.3 701.6 L187.2 700.4Z" fill="#BFCBE4"/>
<path d="M205.6 756.4 L215.4 754.4 L220.4 759.3 L217.9 764.2 L211.8 763.7 L206.8 760.5Z" fill="#BFCBE4"/>
<path d="M265.8 663.5 C267.9 663.2 273.6 661.7 278.1 661.5 C282.6 661.3 288.5 661.8 292.8 662.3 C297.1 662.8 300.6 662.9 303.9 664.7 C307.2 666.5 310.5 669.8 312.5 673.3 C314.5 676.8 315.7 680.7 316.1 685.6 C316.5 690.5 316.3 697.5 314.9 702.8 C313.5 708.1 311.2 712.6 307.5 717.5 C303.8 722.4 298.5 727.8 292.8 732.3 C287.1 736.8 280.1 740.9 273.2 744.6 C266.2 748.3 258.3 751.6 251.1 754.4 C243.9 757.2 233.7 760.1 230.2 761.3" fill="none" stroke="#6a6a6a" stroke-width="1.5"/>
<path class="ct" d="M255 791 L360 752"/>
<path class="ct" d="M277.3 791.3 L310.1 780 L318 777.5"/>
</g>
<path class="st" d="M297.7 589.3 L300 590.7 L302.8 591 L305.1 592.3 L304.5 594.8 L303.9 597.2 L306.8 596.8 L309.7 596.7 L312.5 596 L314.1 598 L316 599.8 L318.1 601.3 L319.8 603.3 L322.3 603.3 L324.7 603.3 L327.1 604.3 L329.6 604.2 L332.1 604.5 L334.6 604 L337 604.6 L339.5 604.3 L342 604.4 L344.4 603.9 L346.8 603.1 L349.3 603.3 L351.8 603.7 L354.1 604.6 L356.7 604.2 L359.2 604.6 L361.6 605.1 L364 605.8 L366.5 605.6 L369 605.4 L371.4 604.1 L373.9 604.1 L376.3 604.7 L378.4 605.8 L380.6 606.8 L382.7 608 L384.9 609 L413.2 755.6 L415.4 754.5 L417.7 753.9 L419.9 753 L422.5 752.9 L424.6 751.7 L428.9 752.3 L428.9 755.4 L430.7 757.2 L433.1 758.4 L434.5 760.8 L436.8 762.1 L439.2 763.1 L441.2 764.8 L443 766.6 L445.4 767.6 L447.3 768.9 L449 767.2 L450.4 765.3 L451.6 763.3 L452.1 760.2 L452.8 757.2 L454.4 755.3 L456.6 754 L458.3 752.3 L461.3 753.5 L463.9 755.4 L465.7 756.8 L467.2 758.6 L468.8 760.3 L470.9 761.5 L472.5 763.3 L474.1 765.1 L476.1 766.4 L477.8 768.1 L479.8 769.5 L481.6 771.1 L483.5 772.5 L485.4 774.2 L487.4 775.6 L489 777.7 L490.9 779.3 L492.8 781.1 L494.4 783.2 L496.1 785.1 L498.2 786.7 L500.1 788.8 L501.9 791 L504.8 791.5 L507.6 792 L510.5 792.2 L513 792.6 L515.4 792.8 L517.8 793.8 L520.3 794 L521.2 796.6 L522.8 798.9 L523.2 801.1 L523.9 803.3 L524.3 805.4 L525.3 807.5 L524.5 809.6 L523.9 811.8 L523.5 814 L522.8 816.1 L520.8 816.1 L519.8 813.9 L517.9 813.7 L517.1 816.5 L514.2 816.1 L512.5 815.9 L511.6 813.6 L510 813.3 L508.1 813.7 L508 815.4 L510.2 816.3 L509.9 818 L510.2 819.6 L510.5 821.1 L508.9 821.5 L508.3 823.3 L506.3 823.1 L505.6 824.7 L505.6 822.1 L502.2 824.1 L502.4 821.4 L500.7 821.1 L500.4 818.9 L497.9 819 L497 817.4 L495.8 816.1 L496.7 813.4 L492 814.4 L493 811.6 L490.5 811.2 L490.9 808.8 L489.9 806.8 L488.6 805.2 L486 806.3 L484.4 806.2 L482.7 808.2 L481.1 806.3 L480.6 804.5 L479.6 802.9 L478.6 801.4 L477.4 799.6 L475.4 799.7 L473.7 798.9 L472.9 797.5 L472.2 795.8 L470.1 796.1 L468.8 795.3 L467.5 794 L468.8 791.1 L464.8 791.4 L465.1 789.1 L464.5 787.2 L462.3 787 L462.3 784.5 L458.9 785.5 L458.9 783 L459.1 780.2 L456 781.7 L453.9 781.9 L454 779.3 L452.1 779.2 L451.3 777.8 L448.9 778.4 L449.1 775.6 L446.6 774.5 L444.2 773.2 L442.3 772 L440.6 770.5 L438.6 769.6 L436.8 768.2 L434.3 767.9 L431.8 767.3 L429.5 766.1 L427 765.8 L426.2 763.7 L424.6 762.1 L420.9 763.3 L418 762.9 L415.1 762.8 L412.3 762.1 L411.3 760 L409.8 758.4 L407.4 759.2 L405 760 L402.6 760.7 L400 760.9 L398 759.6 L396.1 759.6 L394.4 760.7 L392.6 761.6 L391.3 762.4 L389.7 762.7 L388.4 763.7 L386.3 763.3 L388.8 759.8 L385.2 760.4 L385.7 758.2 L384.2 757.4 L381.7 756.2 L380 758.4 L379.4 756.1 L377 756.9 L375 756.8 L374.2 754.8 L372.6 754.2 L370 754.7 L371.1 750.7 L368.2 751.7 L367.4 750 L366.2 747.9 L364 750.7 L362.6 749.8 L361.1 748.9 L361 750.9 L359.2 751.3 L359.1 753.3 L356.8 753.2 L358.9 755.9 L355.8 757.4 L354.9 759.2 L357.5 760.4 L357.9 761.9 L356.8 763.7 L356.6 765.7 L354.8 766.6 L353.7 767.9 L352 768.6 L350 767.8 L348.4 768.9 L348.3 770.7 L350.5 771.4 L350.5 773.2 L348.3 771.3 L346.7 772 L345.3 774.2 L346.1 777 L341.8 775.9 L342.1 778.4 L340.1 776.5 L338.7 777.4 L337.7 781.1 L335.8 779.5 L333.3 779.1 L332.6 781 L331.6 782.6 L330 785.2 L328.4 782.6 L328.7 780.3 L330.4 778.6 L330.9 776.4 L331.6 774.2 L330.7 772.2 L329.8 770.1 L329.5 767.9 L330.6 765.3 L332.1 762.8 L333.7 760.5 L335.9 760 L337.8 758.8 L339.9 757.8 L342.1 757.4 L343.9 755.1 L345.2 752.6 L346.3 750 L344.9 747.7 L344.2 745.2 L341.9 745.8 L340 747 L337.8 747.7 L335.8 748.9 L334 750.5 L332.2 752 L330.6 753.8 L328.8 755.5 L327.4 757.4 L326.3 759.7 L324.4 761.5 L323.2 763.7 L323 766.4 L322.8 769.1 L320.7 771.7 L319.2 774.6 L318.1 776.7 L316.4 778.4 L315.7 780.7 L314.6 782.8 L315.8 785.4 L316.4 788.2 L315.4 790.7 L313.7 792.8 L312.3 795 L310.1 796.4 L308.3 797.9 L306.8 799.9 L304.6 800.9 L302.3 802.1 L300.3 803.6 L297.8 804.4 L295.5 805.5 L293.3 806 L291.1 806.4 L288.8 806.3 L286.8 807.5 L286.8 809.9 L284.4 811.4 L284.2 813.7 L283.3 815.9 L282.1 818 L281.2 820.2 L279.8 822.8 L277.3 824 L274.8 825.2 L272.8 827.2 L271.2 828.9 L269.4 830.3 L267.5 831.6 L264.4 832.6 L262.3 835.1 L260.3 836.8 L257.5 836.6 L255.3 837.7 L252.6 834.7 L253.5 831.2 L255.3 829.2 L256.7 826.9 L258.8 825.1 L261.2 824 L263.5 822.9 L265.8 821.6 L268.5 821.6 L271 820.8 L273.7 820.9 L276.3 820.2 L277.5 817.4 L278.6 814.6 L279.3 812 L280.3 809.4 L280.7 806.7 L280.8 804 L282 801.6 L282.4 799 L282.8 796.4 L284 794.5 L285.8 793 L286.7 790.8 L288.2 789.1 L284.6 789.1 L282.2 789.7 L279.7 790.3 L277.3 790.9 L276.2 788.1 L274.6 785.5 L274 788 L272.9 790.4 L271.9 792.8 L269.1 793.7 L268.1 791.3 L267.4 788.8 L266.4 786.4 L264.1 785.2 L261.5 784.8 L259.1 783.7 L257.1 784.8 L255.6 786.5 L253.7 787.7 L251.9 789.1 L249.1 788.4 L246.4 787.3 L246.7 784.9 L247.5 782.5 L247.3 780 L248 777.6 L248.8 775.3 L249.1 772.8 L247.5 770.5 L245.9 768 L244.6 765.5 L242.2 766.3 L239.7 766.6 L237.3 767.3 L234.1 766.7 L230.9 766.4 L230.7 763.6 L230 760.9 L228.1 759.6 L227.2 757.5 L225.8 755.7 L224 754.4 L223.7 751.9 L222.7 749.6 L222.8 747 L221.8 744.6 L220.6 742.3 L220.4 739.7 L220.6 737.1 L222.1 734.9 L222.3 732.3 L222.8 729.8 L224.5 728.1 L226.1 726.4 L227.8 724.6 L228.9 722.5 L230.5 720.9 L232 719.2 L233.5 717.4 L235 715.8 L236.3 713.9 L238.7 714.4 L241.2 714.9 L243.7 715.1 L245.4 713.6 L247.5 712.8 L249.2 711.4 L251.1 710.2 L251.7 707.8 L251.2 705.2 L251.6 702.8 L252.3 700.4 L255.1 698.6 L258.4 697.9 L260.6 696.9 L262.8 695.9 L264.6 694.2 L264.1 691.7 L263.3 689.3 L260.9 690.3 L258.3 690.6 L256 691.8 L253.3 693.3 L251.1 695.4 L248.7 694.5 L246.1 694.1 L243.7 693 L241.4 692.6 L239.2 691.9 L236.9 691.4 L234.7 690.6 L232.5 689.8 L230.2 689.3 L229.4 687 L227.3 685.5 L226.5 683.2 L227.4 681.2 L227.6 678.9 L228.9 677 L226.6 676.2 L225 674.2 L222.8 673.3 L221 670.8 L219.1 668.4 L221.4 668 L223.3 666.6 L225.2 665.2 L227.5 664.8 L229.7 664.1 L232 663.7 L233.9 662.3 L236.4 662.7 L238.8 661.9 L241.2 661.6 L243.7 661 L246.2 661.5 L248.6 661.1 L248.6 664.7 L251.3 666.3 L253.5 668.4 L256 668.4 L258.5 668.6 L260.9 669.6 L263.1 667.9 L265.8 667.2 L264.1 665.2 L262.1 663.5 L260.5 661.2 L260.1 658.3 L258.4 656.1 L255.2 655.4 L252.3 653.7 L251.5 651 L249.4 649 L248.6 646.3 L246.9 644.8 L246.4 642.5 L244.7 640.9 L243.7 638.9 L242.4 636.6 L240.3 634.9 L238.6 632.8 L237.5 630.4 L239 628.1 L240.2 625.6 L241.2 623 L243.7 622.9 L246.2 622.3 L248.5 621 L251.1 621.2 L253.5 620.5 L255.2 618.9 L256.4 617 L258.3 615.7 L259.2 613.4 L260.9 611.9 L262.8 610.5 L264 608.6 L264.8 606.4 L266.3 604.6 L268.2 603.3 L270.7 602.9 L273.2 602.5 L275.5 601 L278.1 600.9 L280 599.7 L282.3 599.1 L284.1 597.4 L286.5 597.2 L288.3 595.7 L290.4 594.7 L291.9 592.9 L294 591.9 L295.9 590.7 L297.7 589.3ZM186 694.2 L189.6 693 L194.6 697.9 L199.5 699.1 L206.8 705.3 L205.6 708.9 L198.2 707.7 L193.3 701.6 L187.2 700.4ZM205.6 756.4 L215.4 754.4 L220.4 759.3 L217.9 764.2 L211.8 763.7 L206.8 760.5ZM210.5 848.8 L214 844.4 L220.2 842.6 L225.4 843.5 L226.3 847 L220.2 849.6 L214 851.4ZM234.2 840.9 L237.7 835.6 L243 832.1 L250 831.2 L253.5 833.9 L250.9 837.4 L245.6 839.1 L241.2 842.6 L236 844.4ZM315.8 803.7 L316.2 801.9 L317.6 800.6 L316.5 798.2 L319.3 797.4 L318.9 795.3 L320.3 794.1 L322.3 794.2 L323.9 793.3 L325.3 792.1 L326.6 793.2 L327.7 794.5 L327.6 796.7 L329.5 797.4 L327.3 798.2 L327 800.1 L326.9 802 L326.3 803.7 L327.3 805.1 L328.4 806.6 L325.4 808.7 L327.4 810 L325.7 810.2 L324.2 810.7 L324 813 L322.1 813 L321.1 814.2 L318.6 813.9 L317.5 815.4 L316.8 817.4 L316.7 815.8 L315.3 814.6 L315.3 813 L316.5 811.1 L314.7 810 L314.5 808.3 L315.9 807 L315.9 805.3 L315.8 803.7ZM304.2 826.8 L308.4 823.7 L312.6 822.6 L309.5 826.4ZM313.2 805.8 L318.4 799.6 L323.7 792.6 L328.9 795.3 L327.2 802.3 L325.4 809.3 L320.2 814.6 L316.7 816.3ZM188.6 856.7 L191.2 854.9 L193.9 857.5 L193 860.2 L189.5 860.5ZM174.6 860.2 L178.1 858.8 L180.7 861.1 L178.9 862.8 L175.4 862.8ZM168.9 864.6 L171.9 862.8 L173.7 864.6 L171.1 867.2 L169.3 866.8ZM181.6 861.9 L186 860.7 L187.7 862.3 L185.1 864.6 L181.9 864ZM199.1 853.2 L201.8 852.3 L202.6 854.6 L200 855.3ZM304.4 826.8 L307.9 824.2 L311.4 822.5 L310.5 825.1 L307 827.2ZM88 861.6 L92.1 860 L100.2 863.3 L96.2 864.9 L89 864.1ZM114.6 862 L117.6 861.2 L119.1 863.3 L116.2 864.3ZM130.9 866.7 L134 866.5 L134.2 868.2 L131.3 868.4Z"/>
<g class="st">
<path d="M135.4 445.7 L137.3 444.2 L139.1 445.7 L137.3 447.2 L135.4 445.7"/>
<path d="M141.6 447.2 L145.3 445.2 L148.9 447.2 L145.3 449.2 L141.6 447.2"/>
<path d="M150.2 448.4 L152.3 447.2 L154.4 448.4 L152.3 449.7 L150.2 448.4"/>
<path d="M167.4 468.1 L169.2 465.6 L171.1 468.1 L169.2 470.5 L167.4 468.1"/>
<path d="M163.7 479.4 L165.2 476.7 L166.6 479.4 L165.2 482.1 L163.7 479.4"/>
<path d="M146 466.4 L147.5 465.4 L148.9 466.4 L147.5 467.3 L146 466.4"/>
<path d="M720.1 170.1 L725.9 165.3 L732.5 162.2 L729.1 166.1 L722.7 170.6 L720.1 170.1"/>
<path d="M724.6 154.3 L729.9 147.7 L735.1 145 L732.5 150.3 L727.2 155.6 L724.6 154.3"/>
<path d="M782.6 213.6 L785.2 212.8 L787.1 216.2 L785 219.7 L782.9 217.5 L782.6 213.6"/>
<path d="M822.9 206.5 L826 205.5 L828.7 203.8 L831.2 205 L834 205.7 L835.9 204.5 L837.7 203.3 L839.8 202.5 L841.9 201.7 L844.1 200.8 L846.3 200 L848.5 199.1 L848.6 201.8 L849 204.4 L849.8 207 L847.5 209.4 L844.6 211 L842 209.8 L839.4 208.9 L836.6 208.3 L833.4 207.5 L830.1 207.5 L827.7 207.1 L825.3 207.1 L822.9 206.5"/>
<path d="M925 233.9 L931.6 232.8 L935.5 236 L930.2 237.6 L925 233.9"/>
<path d="M163.7 737.8 L166.1 739.9 L167.8 744 L169.8 746 L166.7 745.4 L164.7 741.9 L163.7 737.8"/>
<path d="M170.8 797.6 L173.9 797.2 L173.5 799.2 L171 799 L170.8 797.6"/>
<path d="M174.3 807.4 L177 808 L176.6 809.7 L174.5 809 L174.3 807.4"/>
<path d="M1 803.3 L4.1 802.3 L9.2 806.4 L7.2 808.4 L2.5 806.4 L1 803.3"/>
<path d="M34.8 838.1 L39.9 836.7 L40.9 840.1 L36.8 840.8 L34.8 838.1"/>
<path d="M47.1 847.7 L50.1 851.4 L52.2 855.1 L50.1 854.5 L47.5 850.4 L47.1 847.7"/>
<path d="M55.2 846.3 L57.3 845.7 L58.3 847.7 L56.1 848.3 L55.2 846.3"/>
<path d="M65.5 861.6 L67.5 860.2 L69.2 858.5 L70.6 856.5 L72.9 857 L75.3 857.5 L77.7 857.1 L79.8 857.7 L82 858.2 L83.9 859.6 L85.8 860.8 L88 861.2 L84.9 861.3 L81.8 860.6 L79.3 859.6 L76.7 859.2 L74.1 858.8 L71.6 859.6 L68.7 861 L65.5 861.6"/>
<path d="M120.7 867.8 L123.8 868.2 L126.8 869.8 L122.7 869.4 L120.7 867.8"/>
<path d="M144.2 867.3 L148.3 866.7 L152.4 867.8 L148.3 868.6 L144.2 867.3"/>
<path d="M156.5 864.7 L159.6 863.7 L161.6 866.1 L158.6 866.9 L156.5 864.7"/>
<path d="M255.3 847.9 L256.9 846.3 L258.4 844.6 L259.6 842.6 L261.8 844.3 L264 846.1 L263.7 848.5 L262.3 850.5 L260.2 851.4 L257.9 851.4 L255.3 847.9"/>
<path d="M248.2 840.9 L250.9 840.9 L253.5 840 L253.9 842.4 L255.3 844.4 L253.1 844.9 L250.9 845.3 L248.8 843.5 L248.2 840.9"/>
<path d="M227.2 852.3 L229.9 852.3 L232.5 851.4 L234.2 854.9 L231.9 854.9 L229.8 855.8 L227.2 852.3"/>
<path d="M157 864.6 L159 863.3 L161.4 862.8 L162.3 866.3 L160.1 866.6 L157.9 867.2 L157 864.6"/>
<path d="M171.1 797 L173.7 797.9 L172.8 799.6 L170.7 798.8 L171.1 797"/>
<path d="M174.6 807.5 L177.2 807.9 L176.7 809.3 L174.7 808.9 L174.6 807.5"/>
<path d="M286.8 830.4 L288.6 831.2 L288.2 833.5 L286.8 832.5 L286.8 830.4"/>
<path d="M296 835.3 L297.7 835.6 L297.4 837.7 L296 837 L296 835.3"/>
<path d="M634.6 617.5 L627 625.9 L617.2 632.3 L607.3 638.4 L597.5 644.8 L589.2 653.2 L584.2 662.7 L581.8 674 L583 686.3 L586.5 695.7"/>
<path d="M929.5 604 L935.6 612.1 L943 629.3 L950.4 646.5 L954 661.8 L954 676.5"/>
<path d="M482.983 794.456 L483.3 795.6 L483.4 796.8 L484.2 797.7 L484.5 798.8 L484.5 800"/>
<path d="M509.742 803.639 L510 804.8 L510.8 805.7 L511.6 806.5 L512.8 806.5 L514 806.1 L514.9 806.8 L516.1 806.5 L517.3 806.5"/>
<path d="M483.849 786.264 L483.9 787.5 L484.3 788.6 L484.3 789.8 L484.8 790.9 L485.6 791.8"/>
<path d="M512.032 804.627 L513.1 805.1 L514.3 805.1 L514.7 806.3"/>
<path d="M496.246 809.484 L497.3 810 L497.3 811.2 L497.7 812.3"/>
<path d="M457.938 772.927 L458.4 774 L459.6 774.1"/>
<path d="M490.991 786.738 L492.2 786.8 L492.9 787.7 L494.1 787.7 L495.1 788.4 L496.3 788.6 L497.5 788.9"/>
<path d="M513.093 800.094 L514.3 800.2 L515.5 800.4 L516 801.5 L517.2 801.8 L518.3 802.1 L519.5 802 L520.7 801.8 L521.6 802.6"/>
<path d="M476.941 787.135 L477 788.3 L476.5 789.4 L477.4 790.3 L478.2 791.1 L477.6 792.1"/>
<path d="M494.305 784.954 L494.5 786.1 L495.6 786.3"/>
<path d="M510.796 796.977 L511.3 798.1 L512.5 798.1 L513.6 798.4"/>
<path d="M462.301 781.336 L463.2 782.2 L463 783.4 L462.6 784.5"/>
<path d="M498.304 803.487 L499.5 803.7 L500.7 803.9 L500.4 805.1"/>
<path d="M504.302 817.843 L504.2 819 L503.7 820.2 L504.5 821.1 L504.6 822.3"/>
<path d="M492.003 798.935 L492.6 800 L493.8 800.1 L494.3 801.2 L494.1 802.4 L494.2 803.6"/>
<path d="M504.154 795.911 L505.3 796.1 L505.6 797.3 L506.8 797.3 L507.3 798.4 L508.1 799.3 L509.2 799.8 L509.6 801"/>
<path d="M486.344 798.216 L487.4 798.7 L488.1 799.7 L488 800.9"/>
<path d="M464.273 767.652 L464.7 768.8 L464.2 769.9 L464.8 770.9 L464.8 772.1 L465.6 772.9 L466.1 774"/>
<path d="M469.71 770.707 L470.5 771.6 L471.5 772.3 L471.6 773.5 L471.4 774.6 L472.2 775.5 L473.4 775.6"/>
<path d="M466.882 765.678 L468 766.2 L468.8 767.1 L469.6 768 L470.1 769.1 L470.3 770.2 L471.1 771.2"/>
<path d="M464.031 788.642 L465 789.3 L465.6 790.4"/>
<path d="M462.515 774.711 L463.3 775.6 L463.9 776.7 L464.2 777.8 L465.2 778.5 L465.5 779.7 L465.5 780.9"/>
<path d="M483.07 798.975 L483.2 800.2 L482.7 801.3 L482.4 802.4 L481.8 803.4"/>
<path d="M483.832 800.746 L484.2 801.9 L484.9 802.9 L485.4 803.9 L486.6 804.2 L486.8 805.4 L486.8 806.6"/>
<path d="M482.123 793.806 L483.3 794.2 L483 795.4 L484.1 795.9 L483.9 797.1 L484.9 797.7"/>
<path d="M459.623 766.214 L459.6 767.4 L459.9 768.6 L459.7 769.7 L460.4 770.7 L460.1 771.9 L461.3 772.2"/>
<path d="M496.951 791.915 L497.7 792.9 L498.3 793.9 L497.9 795.1 L497.4 796.2 L498.3 797"/>
<path d="M488.365 795.364 L489.3 796.1 L490 797.1 L491.2 796.9 L491.3 798.1 L492.2 798.9"/>
<path d="M491.259 789.734 L491.7 790.9 L492.4 791.8"/>
<path d="M469.264 788.506 L469.7 789.6 L470 790.8 L470.9 791.5 L472.1 791.8 L473.3 791.9"/>
<path d="M450.807 769.335 L451.9 769.8 L453 770.3 L453.7 771.3 L454.9 771.3 L455.4 772.4 L456.6 772.5"/>
<path d="M481.815 781.813 L483 782.1 L484.1 782.5 L484.6 783.6 L485.1 784.7 L485.8 785.7"/>
<path d="M512.859 798.025 L512.7 799.2 L512.4 800.4 L511.9 801.5"/>
<path d="M472.759 777.64 L472 778.6 L471.5 779.7 L472.4 780.4"/>
<path d="M468.536 762.665 L468.3 763.8 L469.3 764.5 L469.9 765.6 L469.9 766.8"/>
<path d="M450.43 769.804 L450 770.9 L451.1 771.4 L451.6 772.5 L451.6 773.7"/>
<path d="M487.66 795.073 L488.9 795.2 L489.2 796.4 L489.3 797.6"/>
<path d="M473.579 788.08 L474.1 789.2 L475.3 789.3 L475.5 790.5 L475.5 791.7 L476.6 792.1"/>
<path d="M509.148 804.411 L509.7 805.5 L509.8 806.7 L510.2 807.8 L509.5 808.8 L509.2 810 L510 810.9"/>
<path d="M517.356 807.143 L518 808.2 L517.6 809.3 L517.2 810.4 L517.2 811.6 L517.1 812.8 L516.9 814"/>
<path d="M474.695 788.209 L475.5 789.1 L476.4 789.9 L477.6 789.9 L477.9 791.1"/>
<path d="M498.516 795.13 L498.1 796.3 L498.5 797.4 L498.8 798.6 L498.9 799.8"/>
<path d="M495.193 806.755 L496.4 806.7 L497.6 806.9 L498.6 807.5 L499.8 807.5"/>
<path d="M490.299 790.887 L489.5 791.8 L489.5 793 L489.1 794.1 L490.1 794.8 L490.1 796"/>
<path d="M486.215 797.987 L487.3 798.5 L488.3 799.2 L489.2 800 L490.3 800.4 L491.5 800.6 L492.3 801.5 L493.2 802.3 L494.4 802.5"/>
<path d="M452.304 766.758 L451.9 767.9 L451.8 769.1 L453 769.5 L452.4 770.6"/>
<path d="M464.354 759.576 L465.1 760.5 L465.5 761.7 L466.2 762.6"/>
<path d="M520.452 806.445 L520.6 807.6 L521 808.8 L521.7 809.8"/>
<path d="M476.003 774.653 L476.3 775.8 L476.6 777 L476.6 778.2 L477.6 778.8 L478.5 779.6"/>
<path d="M453.653 774.614 L454.8 774.8 L455.5 775.8 L456.7 776 L457.9 776.1 L458.3 777.3 L459 778.3"/>
<path d="M495.818 808.813 L497 809.1 L497.3 810.3 L498.4 810.8 L499.1 811.8"/>
<path d="M490.191 807.257 L490.7 808.3 L491.7 809"/>
<path d="M491.36 789.31 L491.3 790.5 L492.4 790.9 L493.4 791.6 L493.6 792.8"/>
<path d="M455.22 776.871 L456.1 777.7 L457.1 778.3 L457.9 779.2 L457.9 780.4 L458.6 781.4 L459.7 781.9"/>
<path d="M502.225 795.109 L501.7 796.2 L502.1 797.3 L501.7 798.4 L502.4 799.4 L503 800.4 L503.5 801.5 L502.9 802.6"/>
<path d="M476.191 781.114 L477.2 781.8 L478.3 782.2 L479 783.2 L479.2 784.3"/>
<path d="M497.875 811.257 L498.4 812.3 L499.6 812.1 L500.8 811.9 L501.4 812.9 L501.8 814.1"/>
<path d="M478.639 779.208 L478.9 780.4 L479.1 781.6 L478.8 782.7 L478.6 783.9 L478 785 L478.4 786.1"/>
<path d="M510.985 801.805 L510.6 803 L510.2 804.1 L509.6 805.1 L509.6 806.3 L509.9 807.5 L509.8 808.7 L509.6 809.8"/>
<path d="M480.679 784.885 L480.7 786.1 L481.8 786.6 L483 786.6 L484.2 786.8 L485.2 787.4 L486.4 787.7"/>
<path d="M497.634 809.307 L498.6 810 L499.4 810.9"/>
<path d="M457.24 768.678 L457.8 769.7 L458.5 770.7 L459.7 770.9"/>
<path d="M462.956 775.309 L464.1 775.7 L465 776.5 L465.3 777.7 L466.3 778.4 L467.5 778.7 L467.7 779.8"/>
<path d="M488.616 791.437 L489.2 792.5 L490.4 792.8 L491.6 792.7 L492.5 793.5 L493.5 794.1 L493.8 795.2 L494.3 796.3 L495 797.3"/>
<path d="M460.881 766.78 L461 768 L461.8 768.9 L462.4 769.9 L462.3 771.1"/>
<path d="M469.062 792.725 L470.2 792.4 L470.6 793.6 L471 794.7 L471.4 795.9 L472.6 795.7 L473.7 796"/>
<path d="M485.06 788.197 L484.6 789.3 L485.2 790.3 L484.8 791.4 L485.3 792.6 L484.7 793.6"/>
<path d="M471.997 788.098 L472.1 789.3 L473.2 789.8 L473.9 790.8 L474.4 791.8"/>
<path d="M477.262 793.082 L478.3 793.7 L478.8 794.8 L479.9 795.2 L481.1 795.5"/>
<path d="M459.648 762.485 L460.7 763.1 L461.4 764.1 L461.2 765.3 L461.5 766.4 L462.7 766.8 L463.6 767.5"/>
<path d="M460.866 764.526 L460.8 765.7 L461.7 766.5"/>
<path d="M487.416 800.466 L488.1 801.5 L488.8 802.4 L489.4 803.4 L490.6 803.8 L491.2 804.8 L491.2 806 L490.7 807.1"/>
<path d="M508.246 801.358 L509.1 802.2 L510 803"/>
<path d="M477.383 790.993 L477.6 792.2 L478.6 792.9 L478.4 794 L478 795.2 L478.3 796.3 L479 797.3 L479.4 798.4"/>
<path d="M502.682 813.4 L503.4 814.4 L504.6 814.5 L505.8 814.5 L507 814.8 L507.8 815.6"/>
<path d="M476.154 787.81 L477.4 787.8 L477.6 789 L478.5 789.7 L479.4 790.5 L480.3 791.4 L481.5 791.6 L481.7 792.8 L481.8 794"/>
<path d="M510.332 797.323 L511.5 797.6 L511.8 798.8 L512.9 799 L513.8 799.8 L514.2 800.9 L515.4 801 L516.3 801.8"/>
<path d="M519.464 801.23 L519.9 802.4 L520.9 803 L521.6 804 L521.8 805.2"/>
<path d="M464.045 788.153 L464.9 789 L466.1 789.1 L467 789.8 L468.2 790.1"/>
<path d="M520.954 797.226 L521.4 798.3 L521.8 799.5 L522 800.7 L522.2 801.8"/>
<path d="M488.423 785.694 L489.5 786.3 L489.3 787.5 L488.8 788.5 L488.6 789.7"/>
<path d="M493.854 807.655 L495.1 807.7 L496.2 807.8 L497.2 808.6 L498 809.4 L499 810.1"/>
<path d="M472.042 783.173 L472.2 784.4 L472.2 785.6"/>
<path d="M498.961 815.528 L500.1 816 L500.4 817.2 L501 818.2 L500.9 819.4 L502.1 819.6 L502.3 820.8 L503.5 821"/>
<path d="M471.515 778.311 L472 779.4 L473.1 779.9 L474.3 780.2 L475.1 781 L476.3 780.8 L477.5 780.4 L477.8 781.6"/>
<path d="M472.158 790.241 L472.5 791.4 L473.3 792.3 L474 793.3 L473.4 794.3 L472.8 795.4 L473.7 796.2 L473.2 797.3 L473.8 798.4"/>
<path d="M465.82 777.102 L466.8 777.7 L467.8 778.5 L467.9 779.7"/>
<path d="M488.67 792.467 L489.9 792.7 L491 792.8 L491.6 793.9 L492.8 793.7 L493.9 793.9"/>
<path d="M470.005 793.655 L470 794.9 L471.2 794.7 L472.2 795.4 L472.7 796.5 L473.7 797 L473.9 798.2 L474.8 799"/>
<path d="M498.404 809.792 L498.4 811 L498.7 812.1 L499.3 813.2 L499.1 814.3 L500.2 814.8"/>
<path d="M508.014 810.351 L509.2 810.6 L510 811.5 L510.8 812.3 L512 812.2 L512.8 813.2"/>
<path d="M502.632 795.34 L503.6 796.1 L504.7 796.6 L505 797.7"/>
<path d="M481.654 786.343 L482.9 786.3 L483 787.5 L483.7 788.4 L484.5 789.3 L484.9 790.5 L486 790.8 L487.2 790.9"/>
<path d="M468.187 766.979 L468.1 768.2 L469.2 768.6 L469.9 769.6 L470.7 770.5 L471.7 771.2 L471.2 772.3 L472.3 772.6"/>
<path d="M452.038 772.531 L452.6 773.6 L453.3 774.6 L453.8 775.7"/>
<path d="M467.202 787.709 L467.8 788.7 L467.1 789.7 L467.1 790.9 L468.2 791.5"/>
<path d="M479.288 800.641 L480 801.6 L480.4 802.7 L481.3 803.5"/>
<path d="M483.748 782.994 L483.5 784.2 L484.4 785 L485.1 786 L486 786.8"/>
<path d="M464.353 770.733 L465.2 771.6 L464.9 772.8 L465.2 773.9 L465.2 775.1"/>
<path d="M464.423 782.309 L465.6 782.7 L466.7 782.9 L467.9 782.6 L469.1 782.6 L470.3 782.8 L471.4 783.3"/>
<path d="M518.275 805.134 L519.5 805.3 L519.5 806.5 L520.5 807.1 L520.9 808.2"/>
<path d="M503.287 818.316 L504.4 818.7 L505.6 818.5 L506 819.6"/>
<path d="M480.862 793.372 L482 793.6 L482.6 794.7 L483.3 795.6 L484.5 795.6 L485.7 795.8 L486.9 796.1"/>
<path d="M466.031 776.065 L467.2 776.1 L468.4 776 L469 777.1"/>
<path d="M481.135 782.961 L482.3 783.3 L483.3 783.9 L484.5 784.1 L485.7 784.1"/>
<path d="M479.243 788.648 L480.4 788.9 L481.6 788.8 L482.7 789.3 L483.8 789.9 L485 789.9 L485.8 790.8"/>
<path d="M501.633 794.004 L502.3 795 L503.1 795.9"/>
<path d="M492.983 788.216 L494.2 788.2 L495.2 788.8 L495.3 790"/>
<path d="M484.247 798.268 L484.3 799.5 L483.7 800.5 L483.4 801.6 L483.3 802.8"/>
<path d="M480.226 774.973 L480.8 776 L480.4 777.1 L481.5 777.6 L482.4 778.3 L482.8 779.4 L483.6 780.3 L484.2 781.4"/>
<path d="M463.515 771.698 L464.7 772 L465.1 773.1 L465.8 774"/>
<path d="M467.026 789.911 L467.3 791.1 L467.8 792.2"/>
<path d="M501.184 803.166 L502.1 804 L502 805.2 L502.3 806.4 L502.4 807.6 L502.9 808.6 L503.6 809.6 L503.3 810.8"/>
<path d="M467.773 778.327 L469 778.3 L470.2 778.2 L471.4 778.1 L472.6 778 L473.2 779.1"/>
<path d="M468.117 790.862 L468.1 792.1 L468.9 792.9"/>
<path d="M473.582 778.935 L473.3 780.1 L473.6 781.3 L474.3 782.3 L474.3 783.5 L474.5 784.7 L474.2 785.9 L474 787"/>
<path d="M458.479 781.897 L459.5 782.5 L460.7 782.8 L461 783.9"/>
<path d="M480.506 799.382 L480.3 800.6 L481.5 800.6 L481.9 801.8 L483 802 L484.2 802 L485.3 802.6 L485.6 803.8"/>
<path d="M489.738 789.185 L490 790.4 L490.1 791.6 L491.2 792.1 L492.1 792.8"/>
<path d="M495.37 808.581 L495.2 809.8 L495.3 811 L494.9 812.1 L495.8 812.9"/>
<path d="M462.214 763.359 L462.5 764.5 L463.5 765.3 L464.1 766.3"/>
<path d="M469.624 771.634 L470.7 772.2 L471.9 772.4 L473 772.6 L472.9 773.8"/>
<path d="M490.336 801.128 L490 802.3 L489.8 803.5 L489.4 804.6 L490 805.6"/>
<path d="M511.545 805.805 L512.7 805.9 L513.9 805.9"/>
<path d="M509.778 810.43 L509.6 811.6 L509.4 812.8 L509.3 814"/>
<path d="M466.12 782.683 L466.3 783.9 L467.3 784.5 L467.9 785.6 L468.9 786.3 L469.9 786.8 L469.9 788"/>
<path d="M490.013 802.731 L491.2 802.8 L492.3 803.3 L493.3 803.9"/>
<path d="M479.311 778.087 L480.4 778.6 L480.3 779.8 L481.2 780.6 L481.3 781.8 L482.5 782.1 L482.1 783.2 L482.9 784.2 L482.6 785.3"/>
<path d="M465.55 784.044 L466.4 784.8 L466.6 786 L466.1 787.2"/>
<path d="M473.235 768.603 L474.4 768.8 L475 769.9 L476 770.6 L476.5 771.7 L477.6 772 L478.3 773.1 L478.3 774.3 L478.4 775.5"/>
<path d="M496.184 790.683 L496.1 791.9 L496.4 793.1 L497.1 794"/>
<path d="M477.91 771.803 L478.5 772.9 L479.7 773.1 L480 774.3 L480.7 775.2 L481.1 776.4"/>
<path d="M511.213 810.8 L512.4 811 L512.3 812.2 L512.6 813.4 L513.6 814"/>
<path d="M483.11 792.845 L483.9 793.8 L483.9 795 L485 795.6"/>
<path d="M514.755 805.99 L515.8 806.6 L516.9 806.4 L518 806.9 L519.2 807.3 L519.9 808.3 L521 808.6"/>
<path d="M494.27 803.736 L494.9 804.8 L495.9 805.5 L497.1 805.5"/>
<path d="M500.905 806.581 L501.8 807.3 L503 807.6 L503.6 808.6 L504.5 809.4"/>
<path d="M483.314 790.796 L483.1 792 L483.9 792.9 L484 794.1 L484.7 795.1"/>
<path d="M513.1 802.488 L514 803.3 L514.3 804.5 L514.8 805.5 L515.6 806.4 L516.8 806.6 L517.7 807.4 L518.7 808"/>
<path d="M480.606 779.466 L480.8 780.6 L481.1 781.8 L482.1 782.4 L481.7 783.5 L482.7 784.1 L483.4 785.1 L484 786.1"/>
<path d="M503.258 801.973 L503.2 803.2 L504.4 803.1 L505 804.2 L505.8 805 L506.8 805.7 L507.7 806.5 L508.8 807.1"/>
<path d="M499.348 797.601 L498.6 798.5 L499 799.6 L498.6 800.7 L498.5 801.9 L498.3 803.1 L497.5 804.1 L498.5 804.7 L498.9 805.9"/>
<path d="M479.157 801.072 L480.3 801.3 L481.4 801.9 L482.6 801.9 L483.6 802.5 L484.1 803.6 L485.3 803.6 L486.5 803.7 L487.2 804.7"/>
<path d="M495.763 806.977 L496.2 808.1 L496.6 809.2 L497.8 809.3 L498.8 810 L499.9 809.9 L500.2 811.1 L500.2 812.3"/>
<path d="M475.398 792.815 L475.5 794 L476.4 794.7 L477.1 795.7"/>
<path d="M458.816 762.07 L458.9 763.3 L460 763.9 L460.8 764.7 L462 764.9"/>
<path d="M465.401 787.031 L465.3 788.2 L466.5 788.6 L466.4 789.8 L467.5 790.2 L467.1 791.4"/>
<path d="M488.42 783.923 L488 785.1 L488.8 786 L490 786.2 L491.1 786.7 L491 787.9 L491.1 789.1 L491.2 790.3"/>
<path d="M497.264 814.235 L498.4 814 L499.6 814.2 L500.8 814 L501.1 815.2"/>
<path d="M473.726 789.594 L473.3 790.7 L473.8 791.9 L474.3 792.9 L474 794.1 L474.7 795 L475.6 795.8 L475.7 797"/>
<path d="M468.445 781.272 L469.4 782 L470.3 782.8 L471.1 783.7 L472.3 783.8 L472.4 785"/>
<path d="M490.111 783.462 L491.2 784 L492.3 784.5 L493.2 785.2"/>
<path d="M486.373 791.462 L487.5 792 L488.3 792.8"/>
<path d="M479.232 775.632 L478.7 776.7 L478.6 777.9"/>
<path d="M473.681 777.803 L473.8 779 L474.9 779.5 L474.7 780.7 L475.8 781.2 L475.9 782.4 L476.2 783.6 L475.7 784.6"/>
<path d="M519.081 807.713 L519.2 808.9 L520 809.8"/>
<path d="M482.631 786.014 L483.2 787.1 L484.4 786.9 L485.6 786.8 L486 787.9"/>
<path d="M499.002 793.656 L500.2 794 L500.3 795.2 L501.2 796"/>
<path d="M480.17 792.846 L479.7 794 L480.2 795.1 L481.3 795.6"/>
<path d="M481.452 781.936 L482 783 L482.1 784.2 L482.9 785.1 L482.8 786.3 L483.9 786.8 L484 788 L485 788.6"/>
<path d="M475.296 796.63 L475.8 797.7 L475.8 798.9 L476.7 799.7 L477.2 800.8"/>
<path d="M466.595 773.949 L467.5 774.7 L468.6 775.2 L468.4 776.4 L469.1 777.3 L469.1 778.5"/>
<path d="M481.512 798.431 L481.3 799.6 L482 800.6 L482.7 801.6 L483.7 802.2 L483.8 803.4 L485 803.7 L485.9 804.5 L485.8 805.7"/>
<path d="M491.649 793.888 L491.6 795.1 L491.9 796.2 L492.2 797.4"/>
<path d="M465.465 769.689 L466.6 770.1 L466.7 771.2 L467.2 772.3 L467.1 773.5 L466.9 774.7 L467.1 775.9"/>
<path d="M513.335 805.937 L514.5 805.8 L515.3 806.7 L516.5 807.1"/>
<path d="M471.048 773.372 L472.2 773.6 L473.4 773.9 L474.5 774.2 L475.5 775 L475.8 776.1"/>
<path d="M513.12 797.865 L513.7 798.9 L514 800.1 L513.8 801.2 L513.9 802.4 L514.9 803.1 L516.1 803.3"/>
<path d="M483.017 781.452 L483.5 782.6 L483.8 783.7 L484.6 784.6 L485.5 785.4 L485.1 786.5 L486.1 787 L485.7 788.1 L485.8 789.3"/>
<path d="M500.417 814.76 L501.5 815.3 L501.9 816.4 L502.8 817.1 L503.2 818.3 L503.9 819.3"/>
<path d="M485.573 794.305 L486.5 795.1 L487.1 796.1 L487.7 797.2 L487.5 798.3 L486.8 799.3"/>
<path d="M485.778 796.578 L486.1 797.7 L485.7 798.9 L486.8 799.3 L487.3 800.4 L486.8 801.5 L488 801.9"/>
<path d="M500.667 791.708 L500.7 792.9 L501.8 793.1 L503 793.4 L503 794.6 L502.6 795.7 L502.6 796.9"/>
<path d="M479.631 779.052 L479.9 780.2 L481 780.7"/>
<path d="M492.964 792.144 L493.9 792.9 L495 793.3 L495.1 794.5 L496.2 794.8 L497.4 795 L498.5 795.5"/>
<path d="M474.033 772.368 L474.5 773.5 L475.5 774.2 L475.3 775.4 L476.3 776"/>
<path d="M466.493 776.712 L467 777.8 L467.3 779 L468.1 779.9 L469.3 780 L469.6 781.1 L470.7 781.5"/>
<path d="M465.416 784.467 L465.9 785.6 L465.3 786.6 L464.5 787.5 L465 788.6"/>
<path d="M486.473 782.133 L487.7 782.1 L488.9 782.1 L489.2 783.3 L489.4 784.4 L489.7 785.6 L490.8 786 L491.1 787.1"/>
<path d="M515.201 805.908 L515.7 807 L516.7 807.7 L517.4 808.7 L516.7 809.7 L517.7 810.4"/>
<path d="M462.944 779.875 L464.1 779.9 L465.3 779.7 L466.3 780.4 L467.3 781.1"/>
<path d="M491.621 808.368 L492.8 808.6 L493.9 809.2 L495 809.5 L496 810.2 L496.1 811.4 L495.9 812.6 L496.6 813.6 L497.7 814"/>
<path d="M473.848 795.052 L473.8 796.2 L474.7 797 L475.4 798 L475.6 799.2 L476.5 800 L477.6 800.3 L477.6 801.5"/>
<path d="M452.987 767.187 L454.2 767.4 L455.4 767.1 L456.5 767.3 L457 768.5 L457.9 769.2 L458.6 770.2"/>
<path d="M472.851 780.497 L473.3 781.6 L473.6 782.8 L474 783.9 L474.7 784.9 L474.1 786"/>
<path d="M490.994 790.159 L491.5 791.2 L492.6 791.7 L492.9 792.9 L493.6 793.8 L493.8 795"/>
<path d="M496.428 787.757 L497.4 788.4 L498.2 789.3 L498.4 790.5 L499.5 790.7 L500.6 791.3"/>
<path d="M481.022 794.14 L481.3 795.3 L482 796.3 L481.5 797.4 L481.8 798.6 L482.4 799.6"/>
<path d="M463.817 770.783 L463.2 771.8 L462.7 772.9 L462.7 774.1 L462.4 775.3 L462.3 776.5 L462.1 777.6 L461.8 778.8"/>
<path d="M471.817 772.769 L472.1 773.9 L472.7 775"/>
<path d="M508.403 797.942 L508.4 799.1 L509.4 799.8 L509.4 801 L510.3 801.6 L509.7 802.6 L509.2 803.7 L509.8 804.7"/>
<path d="M514.093 808.806 L514.4 810 L513.9 811.1 L514 812.3 L514.4 813.4 L515.1 814.4"/>
<path d="M498.056 809.261 L498.9 810.1 L499.8 810.9 L500.8 811.6 L501 812.7 L501.1 813.9"/>
<path d="M470.019 791.899 L470 793.1 L470.6 794.1"/>
<path d="M467.809 769.688 L468.7 770.5 L469.9 770.8 L471 771.1"/>
<path d="M475.713 792.199 L476.2 793.3 L476.6 794.4 L477.4 795.3 L477.7 796.5 L477 797.5 L477.9 798.2"/>
<path d="M453.366 766.327 L453.6 767.5 L453.8 768.7 L454.7 769.4 L454.8 770.6"/>
<path d="M497.615 804.5 L498.8 804.8 L499.6 805.7 L499.4 806.9 L499.3 808.1 L500.5 808.2"/>
<path d="M454.421 774.509 L455.5 775 L456.1 776 L456.5 777.2 L456.5 778.4 L457.2 779.4"/>
<path d="M497.759 802.806 L497.9 804 L499 804.5"/>
<path d="M478.385 788.19 L478.8 789.3 L479.8 790 L480.6 790.8 L481.8 791.2 L481.9 792.4 L483.1 792.3 L484.2 792.6 L485.4 792.7"/>
<path d="M479.841 783.399 L479.5 784.6 L479.4 785.8 L479.9 786.9 L480.4 787.9"/>
<path d="M481.82 787.123 L482.8 787.8 L483.9 788.4 L484.2 789.5 L485.1 790.3 L486 791.1 L486.1 792.3"/>
<path d="M483.154 781.831 L482.9 783 L483.4 784.1 L483.3 785.3 L483.1 786.5 L483.8 787.4 L483.7 788.6 L483 789.6 L483 790.8"/>
<path d="M506.801 793.04 L506.6 794.2 L507.6 794.8 L508 795.9 L507.7 797.1"/>
<path d="M465.646 783.367 L465 784.4 L466 785.1 L466 786.3"/>
<path d="M505.024 795.772 L505.8 796.7 L506.6 797.6 L506.6 798.8 L507.8 798.9 L508.1 800 L509.2 800.5"/>
<path d="M503.521 821.289 L504.3 822.2 L505.2 823"/>
<path d="M483.581 792.399 L482.9 793.4 L483.4 794.4 L483.1 795.6 L484 796.3 L484.6 797.3"/>
<path d="M500.925 803.418 L501.7 804.3 L502.4 805.3 L502.7 806.5 L503.8 806.9"/>
<path d="M462.427 764.087 L463 765.1 L464.2 765.3 L465.2 766 L465.9 767 L467.1 766.7 L467.6 767.8 L467.9 768.9"/>
<path d="M484.596 777.552 L485.2 778.6 L485.7 779.7 L485.5 780.8 L486.6 781.3 L487.7 781.8 L488.2 782.9 L489.4 783.2"/>
<path d="M482.06 785.621 L482.1 786.8 L483 787.6 L483.7 788.6 L483.6 789.8 L484.5 790.6 L484.1 791.7 L483.7 792.8"/>
<path d="M466.065 781.026 L467.3 780.9 L467.8 782 L469 781.9 L469.3 783.1 L470.1 783.9 L470.9 784.8"/>
<path d="M462.312 774.732 L463.2 775.6 L463.8 776.6 L464.7 777.4 L465.1 778.5 L465.9 779.4 L466.7 780.3"/>
<path d="M467.741 776.072 L468.8 776.6 L469.6 777.5"/>
<path d="M469.223 763.761 L469.6 764.9 L470.3 765.9 L469.8 767 L469.7 768.2 L469.8 769.4"/>
<path d="M498.49 803.567 L499.4 804.4 L500 805.4 L500.8 806.3 L501.4 807.3"/>
<path d="M511.725 802.967 L512.3 804 L513 805 L513.4 806.1 L513.2 807.3 L512.6 808.4 L512.3 809.5"/>
<path d="M489.809 791.368 L490.6 792.2 L490.5 793.4 L491.7 793.5 L491.6 794.7 L492.8 794.6 L493.9 794.8 L494.9 795.4"/>
<path d="M493.433 796.01 L493.6 797.2 L494.3 798.2 L495.5 798.4 L496.5 799 L497.4 799.9"/>
<path d="M474.324 795.692 L475.3 796.3 L475.6 797.5"/>
<path d="M465.154 761 L464.6 762.1 L465 763.2 L466 763.8 L466.2 765"/>
<path d="M503.339 808.098 L503.9 809.2 L505.1 809.1"/>
<path d="M463.067 772.294 L463.6 773.4 L463.5 774.6 L464.1 775.6 L464.7 776.7 L465.7 777.3 L466.2 778.4 L467 779.2"/>
<path d="M477.866 792.477 L478 793.7 L479.2 794.1"/>
<path d="M451.606 769.018 L452.1 770.1 L452.3 771.3 L452.5 772.5 L452.8 773.6 L454 773.8 L454.1 775 L455.2 775.3"/>
<path d="M470.572 769.122 L471.3 770 L472.5 770.1 L473.7 770.1"/>
<path d="M489.211 781.797 L490.2 782.5 L491.2 783.1 L492.2 783.8 L493.4 783.5 L494.2 784.5"/>
<path d="M463.584 779.067 L464.5 779.8 L465.6 780.2 L466.6 780.9 L466.9 782.1 L468.1 781.9 L469.2 782.3 L470 783.2"/>
<path d="M185.5 120.3 L184.5 121 L183.4 121.3 L183.7 122.4 L183.2 123.5 L182 123.8 L181.1 124.6"/>
<path d="M191 95.6 L190.8 96.8 L190.6 97.9 L191.5 98.7"/>
<path d="M176.5 122.5 L177.6 123 L178.8 123.2 L178.6 124.4 L179.6 125.1 L180.6 125.7"/>
<path d="M186.6 104.4 L186.9 105.6 L187.5 106.6 L187.8 107.8 L187.6 109 L188.7 109.6"/>
<path d="M192 98.8 L190.9 99.2 L190.6 100.4 L190.4 101.5 L189.7 102.6 L188.7 103.2 L189 104.4"/>
<path d="M188 122.5 L186.8 122.6 L186.9 123.8"/>
<path d="M184 103.4 L185 104.1 L185.9 104.9 L185.7 106.1"/>
<path d="M181.3 100.5 L181.1 101.6 L181 102.8 L181.7 103.8"/>
<path d="M189.7 96.2 L189 97.2 L188 97.9 L188.3 99 L187.9 100.1 L188.1 101.3 L187.1 101.9"/>
<path d="M192.4 109 L192.4 110.2 L192.8 111.3 L192.9 112.5"/>
<path d="M183.1 104.4 L183.2 105.6 L183.1 106.8 L183.9 107.7"/>
<path d="M188.7 121.6 L187.8 122.4 L187.6 123.6 L186.8 124.5 L186.8 125.7 L186.4 126.8"/>
<path d="M188.4 118.3 L188.4 119.5 L188.5 120.7 L189.6 121.2"/>
<path d="M178.3 117.6 L177.9 118.7 L177.3 119.7 L177.6 120.9 L177.2 122 L176.7 123.1"/>
<path d="M189.5 104.9 L188.6 105.6 L187.4 105.7 L186.2 105.8 L185.4 106.8 L184.7 107.7 L184.7 108.9"/>
<path d="M182.7 118.3 L182.9 119.5 L181.9 120.2 L181.3 121.2 L180.5 122.1 L180.1 123.3"/>
<path d="M185.6 121.6 L186.2 122.6 L186.6 123.8 L186.3 125 L185.7 126 L185.9 127.2"/>
<path d="M186.8 116 L187.9 116.5 L189 116.6 L190.2 117 L191.2 117.7"/>
<path d="M180.8 115.2 L179.8 115.9 L180.6 116.8 L180.5 118"/>
<path d="M175.6 123.9 L175.5 125.1 L176.4 125.9"/>
<path d="M184 104.5 L183.2 105.3 L183.1 106.5 L182.3 107.4"/>
<path d="M180.2 126.3 L180.9 127.3 L181.5 128.4"/>
<path d="M190.8 105.9 L191.2 107 L190.4 107.8 L190.6 109"/>
<path d="M185 101.3 L184.3 102.3 L183.7 103.3 L182.5 103.1 L181.6 103.9"/>
<path d="M182 102.6 L182.5 103.8 L181.8 104.8 L181.6 106"/>
<path d="M188.6 100.8 L188 101.8 L188.7 102.7 L188.8 103.9"/>
<path d="M182.7 116.5 L183.2 117.6 L182.4 118.5 L182.5 119.7 L182.1 120.8 L182.2 122"/>
<path d="M182.5 105.3 L182.9 106.4 L182.8 107.6"/>
<path d="M188.6 108 L188.1 109 L187.9 110.2 L186.9 110.9 L186.9 112.1 L186.9 113.3"/>
<path d="M190 98.8 L191 99.5 L190.6 100.6 L190.5 101.8 L190.9 102.9 L191.6 103.9"/>
<path d="M184.1 110.7 L184.1 111.9 L183.7 113 L184.7 113.7"/>
<path d="M177.9 123.4 L178.2 124.5 L177.3 125.2 L176.1 125.4 L174.9 125.6 L174 126.3"/>
<path d="M187.3 96.4 L188.2 97.2 L188.3 98.4 L188.7 99.5 L189.6 100.3 L189.6 101.5 L190.7 102.1"/>
<path d="M184.6 120.3 L184 121.4 L183.6 122.5 L182.7 123.3"/>
<path d="M178.4 120.7 L178.8 121.8 L178.9 123 L178.3 124"/>
<path d="M176.9 119.2 L176.2 120.2 L176.7 121.3"/>
<path d="M178.1 125.7 L177.4 126.6 L178.2 127.5 L177.7 128.6"/>
<path d="M189.4 96.6 L189.6 97.8 L189.7 99 L189.1 100"/>
<path d="M176.1 123.8 L175.8 125 L174.8 125.7 L174.4 126.8 L173.9 127.9"/>
<path d="M187.8 106.7 L188.9 107.2 L190.1 107.5"/>
<path d="M190.7 110.1 L190.2 111.1 L189.1 111.6"/>
<path d="M185.5 108 L186.1 109 L186.8 110"/>
<path d="M190.6 97.1 L191.5 97.8 L192.3 98.8"/>
<path d="M186.5 109.7 L185.5 110.2 L185 111.3"/>
<path d="M186.6 119.8 L187.7 120.2 L188.7 120.9 L189.8 121.3"/>
<path d="M182.5 102.3 L182.7 103.4 L182.7 104.6 L181.9 105.5"/>
<path d="M186 108.1 L185.9 109.3 L184.8 109.5"/>
<path d="M181.4 92.9 L181.2 94 L181.3 95.2 L181.9 96.3 L182.6 97.2 L181.7 98 L181.5 99.2"/>
<path d="M181.1 93.5 L181.9 94.4 L182.9 95 L184 95.5 L183.4 96.5"/>
<path d="M181.2 112 L182.4 112.4 L183 113.4 L182.7 114.6"/>
<path d="M185.1 124.9 L185.4 126 L185.9 127.1"/>
<path d="M184.5 105.9 L183.5 106.6 L183.6 107.8 L183.4 108.9"/>
<path d="M181.8 113.8 L181.7 115 L182.8 115.5"/>
<path d="M189.3 116.9 L188.2 117.4 L187.8 118.5 L186.6 118.8 L185.9 119.8 L185.8 120.9"/>
<path d="M178.5 117.7 L178.3 118.9 L178.4 120.1"/>
<path d="M185.3 100.2 L185.7 101.3 L186.7 102.1 L186.5 103.3 L185.9 104.3"/>
<path d="M187.6 94.9 L187 95.9 L186.9 97.1 L186 97.8"/>
<path d="M188.9 95.8 L189.2 96.9 L189.6 98.1 L190 99.2 L189.6 100.4 L189 101.4 L189.1 102.5"/>
<path d="M190.6 106.6 L191.5 107.3 L191.8 108.5 L192.5 109.5"/>
<path d="M188 100.6 L187.3 101.5 L186.7 102.6 L186.2 103.7"/>
<path d="M185.5 106.9 L186 108 L187.2 108.3 L188.2 108.8 L189.3 109.3 L189.4 110.5"/>
<path d="M191 99 L190 99.7 L188.9 100.1 L188.1 101"/>
<path d="M189 105.9 L189.6 107 L190.7 107.3 L191.7 108.1 L192.7 108.7"/>
<path d="M187.1 106.8 L185.9 106.8 L184.8 107.2 L183.7 107.7 L182.8 108.4"/>
<path d="M180.5 114.5 L180.5 115.7 L181 116.8 L181.4 117.9 L181.3 119.1"/>
<path d="M184.7 121 L183.6 121.5 L183.6 122.7 L182.7 123.5"/>
<path d="M190.9 118.2 L190 119 L189.9 120.2 L189.2 121.2 L188 121.4 L187.8 122.6"/>
<path d="M184.2 119.3 L184.9 120.3 L185.4 121.3 L186 122.4 L185.9 123.6 L185.2 124.5 L186 125.5"/>
<path d="M185.7 121.3 L186 122.5 L185.7 123.6"/>
<path d="M185.2 98.3 L185.3 99.5 L185.4 100.7 L185.4 101.9 L186.5 102.4"/>
<path d="M182.9 124 L181.7 124.1 L180.6 124.7 L179.4 124.7"/>
<path d="M177.9 118.6 L178 119.7 L177.9 120.9 L177.9 122.1 L178 123.3"/>
<path d="M186.7 120.4 L187.2 121.4 L188.1 122.3 L189.2 122.6"/>
<path d="M180.7 118 L179.8 118.8 L180.5 119.7 L179.9 120.8 L179.4 121.8 L179.7 123 L180.4 124"/>
<path d="M182.7 105.1 L182.4 106.2 L182.3 107.4"/>
<path d="M187 122.2 L187.1 123.4 L186.2 124.2 L185.9 125.4"/>
<path d="M178 117.3 L179.2 117.7 L179.9 118.6 L179.6 119.8"/>
<path d="M184 106.3 L183.4 107.4 L182.2 107.7"/>
<path d="M192.4 108.5 L192.8 109.7 L191.9 110.4"/>
<path d="M186.8 111.1 L186.9 112.3 L187.7 113.2 L188.3 114.3 L188.1 115.5"/>
<path d="M186 116.2 L186.2 117.3 L187 118.2"/>
<path d="M191.2 106 L190 106 L189.8 107.2 L188.6 107.4 L187.8 108.3 L186.6 108.1"/>
<path d="M186.4 96 L187.5 96.4 L188.2 97.4 L187.9 98.5 L187.6 99.7"/>
<path d="M185.1 96.5 L184.5 97.5 L185.7 98 L186.6 98.8 L187.1 99.8 L187.9 100.7 L187.8 101.9"/>
<path d="M180.7 121.6 L180.2 122.7 L180.3 123.9 L181.4 124.4 L182.5 124.9"/>
<path d="M185.9 105.9 L185.9 107.1 L185.1 108 L185.8 109 L185.8 110.2"/>
<path d="M187.7 96.4 L188.5 97.2 L187.9 98.2 L188 99.4 L188 100.6 L187.6 101.8"/>
<path d="M188.9 93.3 L189 94.5 L189.2 95.7"/>
<path d="M182.2 116.9 L181.3 117.7 L180.2 118.2 L179 118.3 L177.8 118.3"/>
<path d="M182.2 120.1 L181.2 120.9 L181.5 122 L181.2 123.2 L180.4 124.1"/>
<path d="M183 113.4 L184.1 113.9 L185.2 114.4 L186 115.4 L187 116"/>
<path d="M192.3 101.5 L192.1 102.7 L192.8 103.6 L192.4 104.7 L192.5 105.9"/>
<path d="M185.7 100.8 L186.1 101.9 L185.6 103 L186.5 103.8 L187.5 104.5 L188.6 105 L188.4 106.2"/>
<path d="M174.2 123.6 L175.1 124.4 L174.8 125.6 L175.5 126.6 L174.9 127.7 L174.6 128.8 L174.3 130"/>
<path d="M182.4 116.7 L182.5 117.9 L181.5 118.5 L180.3 118.8 L180.3 120 L179.2 120.5"/>
<path d="M181.7 115.6 L182.1 116.7 L181.7 117.9 L181 118.8"/>
<path d="M182.1 113.7 L181.7 114.8 L181 115.7 L180.1 116.6"/>
<path d="M191 113 L190 113.8 L189.1 114.5 L189.1 115.7 L189.5 116.8"/>
<path d="M190.7 101.5 L189.7 102.1 L190.1 103.2 L189.3 104 L189.3 105.2 L189.8 106.3"/>
<path d="M185.7 124.4 L184.7 124.9 L184.7 126.1"/>
<path d="M185.8 119.6 L186.5 120.6 L187.5 121.3 L188.6 121.8 L188.4 123"/>
<path d="M181.4 125.4 L182.5 125.8 L182.3 127 L182.4 128.2"/>
<path d="M184.4 102.5 L184.1 103.7 L183.8 104.8 L184.5 105.8 L185.6 106.2"/>
<path d="M188.4 95.6 L187.4 96.2 L187.1 97.4"/>
<path d="M181.9 101.8 L181.9 103 L182.3 104.1 L182.1 105.3"/>
<path d="M180.8 116.1 L179.7 116.4 L178.8 117.2 L178.7 118.4"/>
<path d="M183.2 102.3 L182.7 103.4 L181.7 104.1"/>
<path d="M187 119.8 L188.1 120.3 L189.2 120.8"/>
<path d="M182.1 115.5 L181.1 116.2 L181.2 117.4 L180.3 118.2"/>
<path d="M175.8 121.2 L175.7 122.4 L175.9 123.6 L175.3 124.6 L174.7 125.6"/>
<path d="M153.6 134 L154.7 133.5 L155.8 134 L156.3 135.1"/>
<path d="M153.1 141.8 L154.1 142.6 L155 143.3"/>
<path d="M153.4 128 L154.4 128.5 L154.7 129.6"/>
<path d="M153.8 126.6 L154.8 127.3 L154.8 128.5 L155.8 129.2"/>
<path d="M154.1 126.5 L154.7 127.5 L155.9 127.6"/>
<path d="M153.2 139.6 L154.4 139.2 L155.4 139.8"/>
<path d="M156.1 138.4 L155.4 139.3 L155.4 140.5"/>
<path d="M150.8 143 L151.9 143.6 L152.6 144.5"/>
<path d="M152.3 141.7 L151.6 142.7 L152.1 143.8"/>
<path d="M153 144.2 L154.1 144.9 L153.8 146.1"/>
<path d="M150.8 127.4 L151.6 128.3 L151.7 129.5"/>
<path d="M154.2 140.8 L155.2 141.4 L156.1 142.2"/>
<path d="M153.8 128.2 L154.9 127.7 L156 128.1"/>
<path d="M156.3 137.6 L155.4 138.4 L156.2 139.3"/>
<path d="M966.2 349.2 L965 348.9 L963.9 349.4 L962.7 349.5"/>
<path d="M984.8 367.6 L985.1 368.8 L984 369.4 L983.2 370.3 L982.9 371.4"/>
<path d="M967.4 366.6 L967.6 367.8 L967.7 369 L967.2 370.1"/>
<path d="M987.8 392 L988.2 393.1 L987.4 394 L987 395.1"/>
<path d="M982.8 360.4 L983.2 361.5 L983.4 362.7"/>
<path d="M970.7 373.2 L970.9 374.4 L972 374.9"/>
<path d="M987.6 391.5 L987.9 392.7 L988 393.9 L988.1 395"/>
<path d="M975.4 373.8 L974.4 374.5 L973.2 374.6 L972.5 375.6"/>
<path d="M974.2 369.2 L975.2 369.8 L976.3 369.3 L977.3 369.9"/>
<path d="M977.6 338 L976.9 339 L976.8 340.2 L976.1 341.1"/>
<path d="M972.2 372.1 L973.1 372.9 L973.8 373.9 L974.1 375"/>
<path d="M967.4 358.3 L966.6 359.1 L965.5 359.7"/>
<path d="M967.7 348.4 L967.5 349.6 L966.8 350.6"/>
<path d="M968.1 355.5 L966.9 355.7 L966.6 356.8 L966 357.9"/>
<path d="M978.2 390.7 L979 391.6 L979.1 392.8"/>
<path d="M977.9 385.7 L978.7 386.6 L978.5 387.8"/>
<path d="M966.5 356.3 L967 357.5 L966.3 358.5 L967.2 359.3"/>
<path d="M981.1 387.7 L981.1 388.9 L980.9 390.1 L981 391.3"/>
<path d="M963.5 353.4 L963.2 354.5 L962.1 355 L961.4 356"/>
<path d="M968.7 350.3 L967.5 350.5 L966.8 351.5 L966.4 352.7"/>
<path d="M986.5 385.7 L985.5 386.3 L984.3 386.5"/>
<path d="M966.4 367.9 L966.1 369 L967.1 369.6 L968.1 370.3"/>
<path d="M973.6 354.4 L973.8 355.6 L974.2 356.7 L975 357.6"/>
<path d="M964.1 355.2 L964.7 356.2 L965.8 356.8 L967 356.6"/>
<path d="M963.7 358.1 L963.6 359.3 L962.8 360.1 L962.2 361.2 L962.1 362.3"/>
<path d="M969.6 365.9 L968.7 366.7 L968.2 367.8 L968.2 369"/>
<path d="M974.7 378.6 L975.8 379.1 L976.2 380.2 L976.5 381.4"/>
<path d="M972.4 342.1 L971.3 342.2 L970.1 342.5 L969.1 343.1 L967.9 343.6"/>
<path d="M975.5 340.8 L976 341.9 L975.2 342.8"/>
<path d="M984.1 377.2 L983.1 377.9 L982 378.2 L982 379.4 L980.8 379.7"/>
<path d="M973.9 379.9 L974.1 381.1 L975.3 380.9 L976.4 381.2 L977.3 382"/>
<path d="M963.7 350.2 L963.6 351.4 L963.6 352.6 L963.4 353.8 L963.4 355"/>
<path d="M971 339.5 L971.2 340.7 L970.7 341.8 L971.4 342.8 L971 343.9"/>
<path d="M981.4 377.3 L981.1 378.4 L980.2 379.3 L980.9 380.3"/>
<path d="M966.4 346.9 L966.7 348.1 L966.1 349.1 L965.1 349.7"/>
<path d="M976.1 351.3 L976.9 352.2 L977.9 352.9"/>
<path d="M963.5 357.2 L964.5 357.8 L964 358.9 L964.6 360 L964.9 361.1"/>
<path d="M983.4 369.8 L982.7 370.8 L983 372 L982.6 373.1 L981.7 373.9"/>
<path d="M972.5 348.9 L972.9 350 L972.7 351.2 L972.7 352.4 L973.8 352.9"/>
<path d="M964 350.7 L964.2 351.9 L964.2 353.1 L965.3 353.5 L965.5 354.7"/>
<path d="M967.8 361.2 L968 362.4 L966.9 362.9"/>
<path d="M967.2 357 L967.9 357.9 L968 359.1 L967.9 360.3 L967.7 361.5"/>
<path d="M974.9 341.8 L976 342.2 L975.9 343.4 L975.7 344.6 L976.8 344.9"/>
<path d="M981.9 382.6 L982.2 383.8 L982.1 385 L983.1 385.7 L983.1 386.9"/>
<path d="M987.7 377.2 L987.6 378.4 L987.8 379.6"/>
<path d="M980.2 377.6 L979.8 378.7 L979.3 379.8"/>
<path d="M978.3 342.1 L977.5 342.9 L976.3 343.1"/>
<path d="M976.5 369.7 L976.5 370.9 L976.8 372 L977.3 373.1"/>
<path d="M980.2 382.4 L980.4 383.6 L980.7 384.7 L980.9 385.9 L980 386.8"/>
<path d="M969.1 355.5 L968.8 356.6 L969.3 357.7 L968.9 358.8"/>
<path d="M961.6 351.5 L962.2 352.6 L962.8 353.6"/>
<path d="M963.9 346.3 L963.4 347.4 L963.2 348.6 L963.2 349.8 L964.1 350.6"/>
<path d="M970.4 346.6 L971 347.6 L971.4 348.8 L970.8 349.8"/>
<path d="M973.1 372.6 L972 373.2 L971.1 374"/>
<path d="M973.3 367.7 L973.4 368.9 L974.3 369.6"/>
<path d="M973.6 375.5 L972.8 376.4 L972.2 377.4 L973 378.3"/>
<path d="M982.5 374 L983.7 374 L984.9 373.7 L985.9 374.3"/>
<path d="M984.9 378.6 L985.7 379.5 L985.9 380.7 L986.4 381.7 L987 382.8"/>
<path d="M986.8 389.2 L987 390.4 L987.9 391.2"/>
<path d="M978.1 353.7 L978.4 354.8 L979.2 355.8 L978.5 356.7 L978.1 357.9"/>
<path d="M753.5 615.3 L752.5 616.1 L752 617.2"/>
<path d="M743.4 616.9 L742.2 617.1 L741 617.2"/>
<path d="M754.4 617.2 L753.4 618 L753.1 619.2"/>
<path d="M751.5 616.7 L751.3 617.9 L751.4 619.1 L752.1 620.1"/>
<path d="M720.4 615.7 L721.5 616.1 L722.7 615.8"/>
<path d="M732.8 605.7 L733.8 606.3 L734.5 607.2 L735.6 607.8 L735.9 609"/>
<path d="M744.2 601.2 L744.8 602.3 L745.5 603.2 L745.9 604.4 L745.2 605.3"/>
<path d="M737.1 598.8 L737.8 599.8 L739 600"/>
<path d="M741.6 618.1 L740.6 617.4 L740 618.4 L738.9 619 L738 618.2"/>
<path d="M745.8 603.9 L744.7 603.4 L743.6 604 L742.7 604.8"/>
<path d="M746.2 602.5 L746 603.6 L746.8 604.5"/>
<path d="M740.4 596.2 L741.6 595.8 L742.2 596.8 L743.2 596.2"/>
<path d="M732.5 614.5 L732.9 615.7 L733.7 616.6 L734.2 617.6 L735.3 618.2"/>
<path d="M751.9 616.2 L752.4 617.3 L753 618.4"/>
<path d="M750.9 596 L752 596.3 L752.6 597.3 L753.8 597.3 L754.6 598.2"/>
<path d="M739.2 615.1 L739.2 616.3 L738.9 617.4 L737.7 617.6"/>
<path d="M747.9 607.3 L747.8 608.5 L746.7 608.9 L745.5 609.2 L745.9 610.4"/>
<path d="M734.6 613.7 L734.1 614.8 L733.1 614.2"/>
<path d="M710.2 615.6 L709.2 616.3 L708 616.3 L707.5 617.4"/>
<path d="M736 606.2 L735.4 607.2 L734.5 608 L733.3 607.9"/>
<path d="M749.1 616.1 L750.3 616.2 L751.2 617 L752.4 617"/>
<path d="M756.1 594.6 L756.7 595.6 L757.8 596.1"/>
<path d="M750.2 614.6 L751.4 614.2 L752.5 614.1 L753.4 614.9 L754.6 615"/>
<path d="M747 596.7 L746.4 597.7 L745.3 598.2"/>
<path d="M752.7 612.7 L753.9 612.8 L755.1 612.8"/>
<path d="M742.5 606 L743.3 606.9 L744.5 606.9"/>
<path d="M750.7 614.9 L751.1 616.1 L750.2 616.9 L750.1 618.1"/>
<path d="M739.7 595.7 L740.5 596.6 L741.6 596.2"/>
<path d="M752.6 602.7 L752.1 603.8 L752.6 604.9 L752.6 606.1"/>
<path d="M754.5 597.1 L754.3 598.3 L754.7 599.4 L755.2 600.5"/>
<path d="M755.2 616.2 L754 616 L753.6 617.1 L752.5 617.6 L751.6 618.4"/>
<path d="M737.3 616.2 L738.1 617.1 L738.6 618.2 L738.5 619.4"/>
<path d="M741.3 609.9 L741.6 611 L742.6 611.7 L743.7 612.1 L743.2 613.2"/>
<path d="M755.1 596.6 L754.1 597.3 L752.9 597.1 L752.3 598.1 L751.4 598.8"/>
<path d="M757.5 600.3 L756.3 600.2 L755.1 600.3 L754 599.7 L752.9 599.4"/>
<path d="M742.7 608.3 L742 609.2 L741.3 610.2 L741.3 611.4 L740.2 611.8"/>
<path d="M755.7 596.3 L756.3 597.3 L757.5 597.4"/>
<path d="M729.6 612.9 L729.8 614.1 L730.5 615.1 L730.7 616.3 L731 617.4"/>
<path d="M724.4 616.7 L724 617.8 L722.8 618.2 L721.7 618"/>
<path d="M752.3 609.4 L753.5 609.1 L754.4 609.9 L755.5 610.4"/>
<path d="M752.1 617.8 L751.4 618.7 L750.7 619.7 L749.6 620"/>
<path d="M730.8 607.8 L731.1 609 L731.6 610.1"/>
<path d="M746.1 618.5 L744.9 618.6 L743.8 619"/>
<path d="M749.5 610.1 L748.6 611 L749.1 612"/>
<path d="M724.9 609.6 L725.6 610.6 L726.6 611.2 L727.4 612"/>
<path d="M746.5 612.5 L747.5 613.1 L747 614.1"/>
<path d="M754.2 599.9 L753.2 600.5 L752 600.7 L751.4 601.8"/>
<path d="M737.4 599.3 L737.8 600.4 L738.3 601.6"/>
<path d="M753.3 595.7 L752.1 595.6 L751.8 596.7"/>
<path d="M754.3 611.5 L753.7 612.5 L752.7 613.2 L751.6 613.7"/>
<path d="M989.7 421.3 L990.9 421.2 L992 421.8 L993.1 421.5 L994.2 422.1"/>
<path d="M983.4 443.8 L982.6 444.7 L981.6 445.3 L981.3 446.5"/>
<path d="M985.3 414.3 L984.4 415.1 L984.1 416.3 L983.7 417.4 L982.6 417.8"/>
<path d="M986 449.3 L984.8 449.3 L983.6 449.2 L982.5 448.9"/>
<path d="M986.1 435.5 L987.2 435.8 L987.1 436.9 L987.8 438"/>
<path d="M978.8 438 L979.5 439 L980.7 439.4"/>
<path d="M981.6 446.5 L980.5 447 L980.8 448.2"/>
<path d="M985.2 448.1 L985 449.3 L984.8 450.5"/>
<path d="M977 428 L975.8 428 L975.4 429.1"/>
<path d="M1001.6 429 L1000.6 429.6 L999.6 430.3 L998.4 430.5 L997.5 431.2"/>
<path d="M977.9 441.5 L978.2 442.7 L979.4 443 L980.6 443"/>
<path d="M979 435 L979.6 436 L979.3 437.2"/>
<path d="M982.9 427.5 L982.1 428.4 L981 428.9 L979.9 429.4"/>
<path d="M979.6 426.1 L980.6 426.9 L980.9 428 L980.7 429.2 L980.5 430.4"/>
<path d="M986.5 435.5 L987.2 436.5 L987.2 437.7 L986.9 438.9"/>
<path d="M988.7 412.8 L989.6 412.1 L990.7 412.7 L991.9 412.5 L992.7 413.4"/>
<path d="M993.5 428 L992.6 428.8 L991.7 429.6 L991.5 430.8 L990.8 431.7"/>
<path d="M979.7 436.5 L979 437.5 L979.5 438.6"/>
<path d="M978.5 437.3 L978.4 438.5 L978.1 439.7 L978.9 440.5 L978.4 441.6"/>
<path d="M977.9 436.2 L976.8 435.7 L975.7 436.1"/>
<path d="M998.7 416.1 L997.6 416.5 L996.5 416.1 L995.3 416.4 L994.3 417.1"/>
<path d="M996.4 413.1 L995.8 414.1 L994.6 413.9 L994.4 415.1 L993.2 415"/>
<path d="M991.2 411.8 L992.4 411.5 L992.5 412.6 L993.1 413.7"/>
<path d="M985.5 413.6 L984.7 414.5 L983.9 415.4"/>
<path d="M990 413.5 L991 412.8 L992.1 413.2 L993.2 412.7"/>
<path d="M983.7 416.7 L984 417.8 L984.4 419 L984 420.1"/>
<path d="M998.6 434.1 L999.7 434.6 L1000.8 435.1"/>
<path d="M994.9 440.3 L994.7 441.4 L993.8 442.3 L992.7 442.6 L992.9 443.8"/>
<path d="M993.9 426.4 L994.8 427.2 L995.9 426.6"/>
<path d="M996.4 414.6 L996.8 415.7 L996.7 416.9"/>
<path d="M982.1 434 L980.9 434.3 L979.7 434.1"/>
<path d="M994.9 415.4 L996 414.9 L996.5 416 L997.4 416.8 L998.3 417.6"/>
<path d="M981.7 435.1 L982.1 436.2 L982 437.4 L982.4 438.5 L982.9 439.6"/>
<path d="M998.3 414.3 L998.2 415.5 L998.7 416.6"/>
<path d="M988.3 445.1 L989.2 444.3 L990.1 443.6"/>
<path d="M975.5 444.9 L976.7 444.8 L977.8 444.3 L979 444.5"/>
<path d="M986.7 435.2 L986.5 436.3 L986.8 437.5 L987.3 438.6"/>
<path d="M988.6 444.1 L987.8 444.9 L987.5 446.1 L988 447.2 L987.5 448.3"/>
<path d="M989.4 446.3 L988.6 447.3 L988.6 448.5 L987.8 449.4 L986.9 450.2"/>
<path d="M982.8 415.9 L983.6 416.9 L984.7 417.2 L985.5 418.1 L986.6 418.6"/>
<path d="M1066.3 202.5 L1067 203.4 L1067.5 204.5"/>
<path d="M1084 186.1 L1085.2 186.2 L1086.3 186"/>
<path d="M1066.7 198.5 L1065.8 199.4 L1066.8 200.1 L1066.2 201.1"/>
<path d="M1087.6 181.4 L1087.6 182.6 L1088.6 183.3"/>
<path d="M1082.5 184.8 L1082.4 186 L1083.4 186.7"/>
<path d="M1066.8 202.2 L1065.9 203.1 L1065.3 204.1 L1066.1 205.1 L1065.8 206.3"/>
<path d="M1078.8 189.1 L1078.3 190.2 L1078 191.3 L1078.3 192.5 L1078.6 193.7"/>
<path d="M1081.9 188.3 L1083 188.8 L1084.1 189.3"/>
<path d="M1057.1 206.5 L1058.1 207.2 L1058.8 208.2"/>
<path d="M1077 191.3 L1076 192 L1075 192.7 L1074.4 193.7"/>
<path d="M1054.9 210.5 L1055.4 211.7 L1054.9 212.8 L1055.8 213.6 L1056.8 214.3"/>
<path d="M1079.4 188.2 L1080.2 189.1 L1080.1 190.3 L1081 191.1"/>
<path d="M1063.4 202.2 L1064.5 202.7 L1064.9 203.8 L1065.8 204.7"/>
<path d="M1077.2 193.8 L1077.9 194.7 L1079.1 194.8"/>
<path d="M1059.1 205.3 L1059.1 206.5 L1059.3 207.7"/>
<path d="M1069.4 199.7 L1069.1 200.8 L1068.7 201.9 L1069.7 202.6"/>
<path d="M1072.5 195.6 L1073.2 196.5 L1073.3 197.7 L1074.4 198.2"/>
<path d="M1054.5 214.4 L1054.1 215.6 L1054.1 216.8"/>
<path d="M1056.3 208.5 L1056.1 209.6 L1055.5 210.7 L1055 211.8"/>
<path d="M1072.1 198 L1072.4 199.2 L1072.8 200.3 L1071.9 201.1"/>
<path d="M1082.3 186.6 L1081.8 187.6 L1082.3 188.7 L1081.8 189.8 L1081.2 190.9"/>
<path d="M1078.7 191.8 L1078.3 193 L1079.3 193.7 L1079.1 194.9"/>
<path d="M1055.3 209.6 L1055.5 210.8 L1055.9 211.9 L1056.9 212.7 L1058 212.9"/>
<path d="M1079.6 189.7 L1079.2 190.9 L1080.3 191.5 L1081.2 192.3"/>
<path d="M1052.7 211.2 L1053.5 212.2 L1053 213.3 L1054 214"/>
<path d="M1068.8 197.6 L1068.9 198.8 L1070.1 198.9 L1070.6 199.9"/>
<path d="M1081.9 188.3 L1082.4 189.4 L1083.5 189.8"/>
<path d="M1062.6 205.5 L1063.8 205.5 L1065 206 L1066.2 206"/>
<path d="M1053.6 214.5 L1054.7 215 L1055.1 216.2"/>
<path d="M1070.5 199 L1069.8 200 L1070.7 200.7 L1071.6 201.6"/>
<path d="M1062.9 205.4 L1063 206.6 L1063.6 207.6"/>
<path d="M1050.7 215 L1051.9 214.9 L1053 215.3"/>
<path d="M1075.8 194.8 L1076.9 195.4 L1076.9 196.6"/>
<path d="M1059.2 204.7 L1058.7 205.8 L1058.6 207 L1057.6 207.5 L1057.9 208.7"/>
<path d="M1085.4 183.3 L1085.1 184.5 L1084 185 L1084 186.2"/>
<path d="M1081 189.6 L1080.9 190.8 L1082.1 191"/>
<path d="M1074.9 194.2 L1076.1 194.3 L1077.2 194.7 L1078.4 194.6"/>
<path d="M1082.7 185.2 L1083.5 186.1 L1084.5 186.7 L1085.2 187.7"/>
<path d="M1080.7 186.6 L1080.4 187.8 L1080.6 189 L1080.4 190.2 L1080.1 191.3"/>
<path d="M1054.8 211.3 L1056 211.3 L1056.6 212.3"/>
<path d="M906.9 548.7 L907.7 549.6 L908.5 550.5"/>
<path d="M906.5 562.7 L906.9 563.8 L908.1 564 L909.3 564.2"/>
<path d="M905.7 552.3 L906.8 552.7 L907.8 553.4"/>
<path d="M906.7 551.3 L907.7 550.6 L908.7 551.3 L909.7 550.5"/>
<path d="M906.9 564.9 L907.8 565.8 L908.8 566.4"/>
<path d="M908.3 554.2 L909.4 553.8 L910.2 552.9"/>
<path d="M909.2 543.9 L910 543 L910.8 542.1 L911.1 540.9"/>
<path d="M907.9 549 L908.4 550 L909.6 550.2 L910.4 551.1"/>
<path d="M906.9 544.2 L908.1 544.4 L909.3 544.6"/>
<path d="M908.4 557.2 L909.5 557.7 L910.3 556.8"/>
<path d="M907.5 553.8 L908 554.8 L909.2 554.9 L910.1 555.7"/>
<path d="M908 545.1 L909.2 545.4 L909.8 546.5 L910.7 547.2"/>
<path d="M911.1 534.2 L912.1 534.9 L913.3 535"/>
<path d="M906.1 564 L906.3 565.1 L906.1 566.3"/>
<path d="M907.3 551.6 L908.1 552.5 L909 551.7 L910.1 551.3"/>
<path d="M905.5 558.4 L906.7 558.7 L907.6 557.9 L908.8 557.6"/>
<path d="M909.2 541.8 L910.4 541.5 L911 542.5"/>
<path d="M907.1 565.9 L907.8 566.8 L908.7 567.6"/>
<path d="M907.3 543.8 L908.1 542.9 L909.3 542.8 L910.5 542.6 L911.5 543.3"/>
<path d="M907.2 572.8 L908.2 572.2 L909.1 571.4 L909.7 570.3"/>
<path d="M906.9 542.2 L907.4 543.3 L907.7 544.5 L908.9 544.6"/>
<path d="M908.5 556 L908.4 557.2 L909 558.3"/>
<path d="M906.1 555.3 L907.3 555.3 L908.4 555 L909.6 555"/>
<path d="M905.8 565.1 L906.7 564.3 L907.8 564.6 L909 564.5"/>
<path d="M910.1 550.4 L910.3 549.3 L910.7 548.1"/>
<path d="M906.4 541.1 L907.6 540.8 L908.8 540.5"/>
<path d="M910.5 538.3 L911.6 537.7 L912.8 537.6"/>
<path d="M907.1 545.3 L908.2 545 L909 544.1"/>
<path d="M911.5 531.4 L912.7 531.2 L913.7 531.8"/>
<path d="M913.1 525.8 L914.1 525.1 L915.3 525.3 L916 524.4"/>
<path d="M907.5 548.7 L907.8 549.8 L908.8 550.5 L910 550.4"/>
<path d="M911.3 540.8 L911.5 542 L912 543"/>
<path d="M909.4 545.1 L910.5 545.6 L911.7 545.3"/>
<path d="M907.3 573.1 L908.4 572.6 L909.4 573.2"/>
<path d="M906.5 556.4 L907.6 556 L908.6 555.3 L909.7 554.8"/>
<path d="M907 541 L908.2 541 L909 540.1"/>
<path d="M906 545.4 L907 546.1 L908.2 546.2"/>
<path d="M907.8 540.4 L908.3 539.3 L909.5 539.2 L910.6 539.5"/>
<path d="M909.2 543.1 L910.4 543 L911.6 542.6"/>
<path d="M907.8 548.4 L908 549.6 L908.8 550.4 L909.4 551.5"/>
<path d="M897 708 L905 708.2 L913.7 707.7 L921 706 L928 703.4 L935 700.3 L942.3 696.3 L947.5 692.6 L951.8 689" stroke-dasharray="1.2 1.6" stroke-width="1.1"/>
</g>
<text x="212" y="51" font-size="51.4" textLength="714.3" stroke="#000" stroke-width=".35" lengthAdjust="spacingAndGlyphs">Seasonal Temperature Outlook</text>
<text class="b" x="402" y="90.5" font-size="22.3" textLength="60.4" lengthAdjust="spacingAndGlyphs">Valid:</text>
<text x="474.5" y="90.5" font-size="22.8" textLength="190" lengthAdjust="spacingAndGlyphs">Apr-May-Jun 2025</text>
<text class="b" x="401.3" y="116" font-size="22.3" textLength="80.7" lengthAdjust="spacingAndGlyphs">Issued:</text>
<text x="494" y="116" font-size="22.8" textLength="161.5" lengthAdjust="spacingAndGlyphs">March 20, 2025</text>
<text class="b halo" x="496.6" y="225.7" font-size="26" text-anchor="middle">Equal</text>
<text class="b halo" x="496.6" y="255.4" font-size="26" text-anchor="middle">Chances</text>
<text class="b halo" x="399.6" y="522.7" font-size="26" text-anchor="middle">Above</text>
<text class="b halo" x="920.3" y="648.2" font-size="26" text-anchor="middle">Above</text>
<text class="b halo" x="281.7" y="713.9" font-size="19.7" text-anchor="middle">Below</text>
<text class="b halo" x="358.3" y="687.3" font-size="20" text-anchor="middle">Equal</text>
<text class="b halo" x="357.6" y="709.4" font-size="20" text-anchor="middle">Chances</text>
<text class="b halo" x="285.5" y="818.2" font-size="20" text-anchor="middle">Above</text>
<text class="b halo" x="44.3" y="801.9" font-size="20" text-anchor="middle">Equal</text>
<text class="b halo" x="43.7" y="824.8" font-size="20" text-anchor="middle">Chances</text>
<text class="b" x="753.5" y="656.9" font-size="18.7" text-anchor="middle">Probability</text>
<text class="b" x="753.5" y="678.2" font-size="18.7" text-anchor="middle">(Percent Chance)</text>
<text class="b" x="667" y="697.3" font-size="14" text-anchor="middle">Above</text>
<text class="b" x="667" y="713" font-size="14" text-anchor="middle">Normal</text>
<text class="b" x="754.5" y="695.9" font-size="14" text-anchor="middle">Near</text>
<text class="b" x="754.5" y="711.4" font-size="14" text-anchor="middle">Normal</text>
<text class="b" x="847" y="696.3" font-size="14" text-anchor="middle">Below</text>
<text class="b" x="847" y="712.5" font-size="14" text-anchor="middle">Normal</text>
<rect x="622.2" y="721.2" width="32" height="14.2" fill="#E8B56B" stroke="#999" stroke-width="1"/>
<text x="661.8" y="732.5" font-size="12.5">33-40%</text>
<rect x="802" y="720.2" width="31.7" height="14.3" fill="#C0CAE6" stroke="#888" stroke-width="1.2"/>
<text x="841.6" y="731.7" font-size="12.5">33-40%</text>
<rect x="622.2" y="743.6" width="32" height="14.2" fill="#E8904C" stroke="#999" stroke-width="1"/>
<text x="661.8" y="754.9" font-size="12.5">40-50%</text>
<rect x="802" y="742.8" width="31.7" height="14.3" fill="#B5C3D8" stroke="#888" stroke-width="1.2"/>
<text x="841.6" y="754.3" font-size="12.5">40-50%</text>
<rect x="622.2" y="766.1" width="32" height="14.2" fill="#DD5A33" stroke="#999" stroke-width="1"/>
<text x="661.8" y="777.4" font-size="12.5">50-60%</text>
<rect x="802" y="765.4" width="31.7" height="14.3" fill="#65A9D4" stroke="#888" stroke-width="1.2"/>
<text x="841.6" y="776.9" font-size="12.5">50-60%</text>
<rect x="622.2" y="788.5" width="32" height="14.2" fill="#CF3F20" stroke="#999" stroke-width="1"/>
<text x="661.8" y="799.8" font-size="12.5">60-70%</text>
<rect x="802" y="788.0" width="31.7" height="14.3" fill="#65A9D4" stroke="#888" stroke-width="1.2"/>
<text x="841.6" y="799.5" font-size="12.5">60-70%</text>
<rect x="622.2" y="811.0" width="32" height="14.2" fill="#B02E0E" stroke="#999" stroke-width="1"/>
<text x="661.8" y="822.3" font-size="12.5">70-80%</text>
<rect x="802" y="810.6" width="31.7" height="14.3" fill="#1A6DA8" stroke="#888" stroke-width="1.2"/>
<text x="841.6" y="822.1" font-size="12.5">70-80%</text>
<rect x="622.2" y="833.4" width="32" height="14.2" fill="#B02E0E" stroke="#999" stroke-width="1"/>
<text x="661.8" y="844.7" font-size="12.5">80-90%</text>
<rect x="802" y="833.2" width="31.7" height="14.3" fill="#173A70" stroke="#888" stroke-width="1.2"/>
<text x="841.6" y="844.7" font-size="12.5">80-90%</text>
<rect x="622.2" y="855.8" width="32" height="14.2" fill="#4A201E" stroke="#999" stroke-width="1"/>
<text x="661.8" y="867.1" font-size="12.5">90-100%</text>
<rect x="802" y="855.8" width="31.7" height="14.3" fill="#16204F" stroke="#888" stroke-width="1.2"/>
<text x="841.6" y="867.3" font-size="12.5">90-100%</text>
<rect x="713.6" y="719.6" width="32.1" height="14" fill="#D9DBDE" stroke="#888" stroke-width="1.2"/>
<text x="750.4" y="730.8" font-size="12.5">33-40%</text>
<rect x="713.6" y="742.2" width="32.1" height="14" fill="#A0A0A0" stroke="#888" stroke-width="1.2"/>
<text x="750.4" y="753.4" font-size="12.5">40-50%</text>
<text class="b" x="754.2" y="794" font-size="14" text-anchor="middle">Equal</text>
<text class="b" x="754.2" y="809.6" font-size="14" text-anchor="middle">Chances</text>
<rect x="738.1" y="817.8" width="31.6" height="13.9" fill="#fff" stroke="#888" stroke-width="1.4"/>
<text x="561.7" y="734" font-size="16.3" text-anchor="middle">Leaning</text>
<text x="562" y="751.8" font-size="16.3" text-anchor="middle">Above</text>
<text x="561.7" y="810.4" font-size="16.3" text-anchor="middle">Likely</text>
<text x="562" y="828.7" font-size="16.3" text-anchor="middle">Above</text>
<text x="948.6" y="734" font-size="16.3" text-anchor="middle">Leaning</text>
<text x="948.5" y="751.9" font-size="16.3" text-anchor="middle">Below</text>
<text x="948.5" y="809.6" font-size="16.3" text-anchor="middle">Likely</text>
<text x="948.5" y="827.5" font-size="16.3" text-anchor="middle">Below</text>
<path d="M616.5 719.4 C608.0 719.6 605.8 723.3 604.5 730.8 C603.5 735.6 599.9 738.3 593.5 738.7 M616.5 757.4 C608.0 757.2 605.8 753.7 604.5 746.4 C603.5 741.7 599.9 739.1 593.5 738.7" fill="none" stroke="#222" stroke-width="1.1" stroke-linecap="round"/>
<path d="M616.5 764.9 C608.0 765.4 605.8 775.1 604.5 795.0 C603.5 807.7 599.9 814.9 593.5 815.9 M616.5 866.5 C608.0 866.0 605.8 856.4 604.5 836.6 C603.5 824.0 599.9 816.9 593.5 815.9" fill="none" stroke="#222" stroke-width="1.1" stroke-linecap="round"/>
<path d="M894.1 720.1 C902.6 720.3 904.8 723.9 906.1 731.4 C907.2 736.1 910.7 738.8 917.2 739.2 M894.1 758.3 C902.6 758.1 904.8 754.5 906.1 747.0 C907.2 742.3 910.7 739.6 917.2 739.2" fill="none" stroke="#222" stroke-width="1.1" stroke-linecap="round"/>
<path d="M894.1 764.7 C902.6 765.2 904.8 774.8 906.1 794.4 C907.2 807.0 910.7 814.1 917.2 815.1 M894.1 866.2 C902.6 865.7 904.8 856.0 906.1 836.1 C907.2 823.3 910.7 816.1 917.2 815.1" fill="none" stroke="#222" stroke-width="1.1" stroke-linecap="round"/>
<clipPath id="nc"><circle cx="1031.3" cy="36.2" r="32.6"/></clipPath>
<g clip-path="url(#nc)"><circle cx="1031.3" cy="36.2" r="32.6" fill="#fff"/>
<path d="M1057.19 16.23 C1056.02 16.96 1051.93 18.93 1050.18 20.61 C1048.42 22.30 1047.98 23.90 1046.67 26.32 C1045.35 28.73 1043.74 32.75 1042.28 35.09 C1040.82 37.43 1039.50 39.25 1037.89 40.35 C1036.29 41.45 1034.53 41.74 1032.63 41.67 C1030.73 41.59 1028.54 41.01 1026.49 39.91 C1024.44 38.82 1022.25 36.92 1020.35 35.09 C1018.45 33.26 1016.84 31.14 1015.09 28.95 C1013.33 26.75 1011.58 23.90 1009.82 21.93 C1008.07 19.96 1005.44 17.91 1004.56 17.11 L997.5 8.8 L1006.3 -5 L1058.9 -5 L1064.2 8.8 Z" fill="#15366B"/>
<path d="M1060.26 21.93 C1059.31 22.81 1056.39 25.29 1054.56 27.19 C1052.73 29.09 1051.20 31.43 1049.30 33.33 C1047.40 35.23 1044.99 37.31 1043.16 38.60 C1041.33 39.88 1038.63 40.50 1038.33 41.05 C1038.04 41.61 1040.23 41.61 1041.40 41.93 C1042.57 42.25 1045.64 42.66 1045.35 42.98 C1045.06 43.30 1041.48 43.27 1039.65 43.86 C1037.82 44.44 1036.14 45.61 1034.39 46.49 C1032.63 47.37 1030.88 48.61 1029.12 49.12 C1027.37 49.63 1025.18 49.71 1023.86 49.56 C1022.54 49.42 1020.79 48.76 1021.23 48.25 C1021.67 47.73 1025.00 47.08 1026.49 46.49 C1027.98 45.91 1030.03 45.18 1030.18 44.74 C1030.32 44.30 1029.15 44.30 1027.37 43.86 C1025.58 43.42 1021.81 42.98 1019.47 42.11 C1017.13 41.23 1015.53 40.20 1013.33 38.60 C1011.14 36.99 1008.58 34.36 1006.32 32.46 C1004.05 30.56 1000.83 28.07 999.74 27.19 L993.2 35.1 L993.2 74.6 L1067.7 74.6 L1067.7 26.3 Z" fill="#0A85CB"/>
</g>
<text x="1031.1" y="24.6" font-size="10.6" font-weight="bold" text-anchor="middle" textLength="26.6" lengthAdjust="spacingAndGlyphs" style="fill:#fff">NOAA</text>
<circle cx="108.9" cy="36.2" r="32.3" fill="#1F80C9" stroke="#1b4f80" stroke-width=".7"/>
<circle cx="108.9" cy="36.2" r="24.9" fill="#fff" stroke="#1b4f80" stroke-width=".6"/>
<path id="dtop" d="M82.56 39.90 A26.6 26.6 0 1 1 135.24 39.90" fill="none"/>
<path id="dbot" d="M79.40 43.55 A30.4 30.4 0 0 0 138.40 43.55" fill="none"/>
<text font-size="4.5" font-weight="bold" style="fill:#fff" textLength="78" lengthAdjust="spacing"><textPath href="#dtop" startOffset="50%" text-anchor="middle" textLength="78" lengthAdjust="spacing">DEPARTMENT OF COMMERCE</textPath></text>
<text font-size="4.5" font-weight="bold" style="fill:#fff"><textPath href="#dbot" startOffset="50%" text-anchor="middle" textLength="80" lengthAdjust="spacing">UNITED STATES OF AMERICA</textPath></text>
<circle cx="80.30000000000001" cy="36.2" r=".6" fill="#fff"/><circle cx="137.5" cy="36.2" r=".6" fill="#fff"/>
<polygon points="95.09,30.70 122.72,30.70 121.84,32.89 121.84,53.51 109.12,58.95 96.67,53.51 96.67,32.89" fill="#E8914A" stroke="#2a2f45" stroke-width=".8"/>
<polygon points="95.09,30.70 122.72,30.70 121.84,32.89 121.84,43.86 96.67,43.86 96.67,32.89" fill="#1F80C9"/>
<polygon points="96.67,41.67 121.84,42.98 121.84,44.91 96.67,44.91" fill="#1d2748"/>
<polygon points="99.91,38.60 107.37,34.65 109.12,32.89 112.63,33.77 116.14,35.09 117.02,39.91 109.12,40.79" fill="#dfe6ee" stroke="#6c7a90" stroke-width=".4"/>
<polygon points="105.61,36.40 109.12,32.46 112.63,33.33 115.26,34.65 116.14,37.72 109.12,38.60" fill="#5b6472"/>
<polygon points="108.07,44.91 110.18,44.91 110.00,57.89 108.25,57.89" fill="#3a2a28"/>
<polygon points="95.09,30.70 122.72,30.70 121.84,32.89 121.84,53.51 109.12,58.95 96.67,53.51 96.67,32.89" fill="none" stroke="#2a2f45" stroke-width=".9"/>
<polygon points="100.35,14.91 102.28,15.44 105.61,18.86 108.25,22.11 108.25,26.75 106.05,26.75 103.42,22.98 101.23,18.60" fill="#3a2218"/>
<polygon points="117.89,15.35 115.96,15.88 112.63,18.95 110.18,22.11 110.18,26.75 112.37,26.75 114.82,22.98 117.02,18.60" fill="#3a2218"/>
<polygon points="107.63,21.49 110.70,21.49 111.05,27.89 107.37,27.89" fill="#a8502c"/>
<polygon points="107.98,19.47 110.35,19.47 110.53,21.75 107.81,21.75" fill="#e8e2dc"/>
<polygon points="103.68,28.07 114.56,28.07 114.91,29.65 103.33,29.65" fill="#4a3a34"/>
<rect x="100.53" y="49.12" width="1.6" height=".7" fill="#d8402c"/><rect x="114.82" y="49.12" width="1.6" height=".7" fill="#d8402c"/>
</svg></body></html>
